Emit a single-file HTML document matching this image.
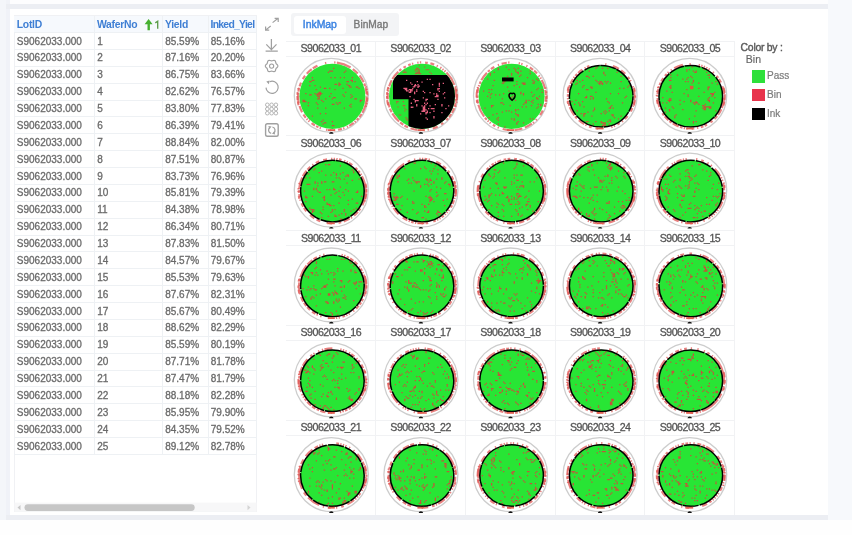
<!DOCTYPE html><html><head><meta charset="utf-8"><style>
*{margin:0;padding:0;box-sizing:border-box}
html,body{width:852px;height:535px;overflow:hidden;background:#f7f8fb;font-family:"Liberation Sans", sans-serif}
.a{position:absolute}
.t{position:absolute;white-space:nowrap;line-height:1}
.hd{color:#3f7fd4;font-weight:bold;font-size:10.4px;letter-spacing:-0.3px}
.dt{color:#6a6a6a;font-size:10px;-webkit-text-stroke:0.3px #6a6a6a}
.lb{color:#555;font-size:10.6px;letter-spacing:-0.5px;text-align:center;-webkit-text-stroke:0.3px #555}
body{filter:blur(0.4px)}
</style></head><body>
<div class="a" style="left:0;top:0;width:6px;height:535px;background:#f4f6fa"></div>
<div class="a" style="left:6px;top:0;width:4px;height:4px;background:#f1f3f8"></div>
<div class="a" style="left:828px;top:0;width:24px;height:535px;background:#f7f9fc"></div>
<div class="a" style="left:10px;top:0;width:818px;height:4px;background:#fdfdfe"></div>
<div class="a" style="left:0;top:520px;width:852px;height:15px;background:#fefefe"></div>
<div class="a" style="left:6px;top:4px;width:822px;height:516px;background:#eceef3"></div>
<div class="a" style="left:6px;top:9px;width:3.5px;height:506px;background:#f0f2f8"></div>
<div class="a" style="left:9.5px;top:9px;width:818.5px;height:506px;background:#fff"></div>
<div class="a" style="left:13.5px;top:15px;width:243.5px;height:497px;border:1px solid #f0f1f4;background:#fff"></div>
<div class="a" style="left:14px;top:15.50px;width:242.50px;height:17.00px;background:#f6f9fd"></div>
<div class="a" style="left:14px;top:32.00px;width:242.50px;height:1px;background:#eef1f4"></div>
<div class="a" style="left:14px;top:48.88px;width:242.50px;height:1px;background:#eef1f4"></div>
<div class="a" style="left:14px;top:65.76px;width:242.50px;height:1px;background:#eef1f4"></div>
<div class="a" style="left:14px;top:82.64px;width:242.50px;height:1px;background:#eef1f4"></div>
<div class="a" style="left:14px;top:99.52px;width:242.50px;height:1px;background:#eef1f4"></div>
<div class="a" style="left:14px;top:116.40px;width:242.50px;height:1px;background:#eef1f4"></div>
<div class="a" style="left:14px;top:133.28px;width:242.50px;height:1px;background:#eef1f4"></div>
<div class="a" style="left:14px;top:150.16px;width:242.50px;height:1px;background:#eef1f4"></div>
<div class="a" style="left:14px;top:167.04px;width:242.50px;height:1px;background:#eef1f4"></div>
<div class="a" style="left:14px;top:183.92px;width:242.50px;height:1px;background:#eef1f4"></div>
<div class="a" style="left:14px;top:200.80px;width:242.50px;height:1px;background:#eef1f4"></div>
<div class="a" style="left:14px;top:217.68px;width:242.50px;height:1px;background:#eef1f4"></div>
<div class="a" style="left:14px;top:234.56px;width:242.50px;height:1px;background:#eef1f4"></div>
<div class="a" style="left:14px;top:251.44px;width:242.50px;height:1px;background:#eef1f4"></div>
<div class="a" style="left:14px;top:268.32px;width:242.50px;height:1px;background:#eef1f4"></div>
<div class="a" style="left:14px;top:285.20px;width:242.50px;height:1px;background:#eef1f4"></div>
<div class="a" style="left:14px;top:302.08px;width:242.50px;height:1px;background:#eef1f4"></div>
<div class="a" style="left:14px;top:318.96px;width:242.50px;height:1px;background:#eef1f4"></div>
<div class="a" style="left:14px;top:335.84px;width:242.50px;height:1px;background:#eef1f4"></div>
<div class="a" style="left:14px;top:352.72px;width:242.50px;height:1px;background:#eef1f4"></div>
<div class="a" style="left:14px;top:369.60px;width:242.50px;height:1px;background:#eef1f4"></div>
<div class="a" style="left:14px;top:386.48px;width:242.50px;height:1px;background:#eef1f4"></div>
<div class="a" style="left:14px;top:403.36px;width:242.50px;height:1px;background:#eef1f4"></div>
<div class="a" style="left:14px;top:420.24px;width:242.50px;height:1px;background:#eef1f4"></div>
<div class="a" style="left:14px;top:437.12px;width:242.50px;height:1px;background:#eef1f4"></div>
<div class="a" style="left:14px;top:454.00px;width:242.50px;height:1px;background:#eef1f4"></div>
<div class="a" style="left:93.50px;top:15.50px;width:1px;height:439.00px;background:#eef1f4"></div>
<div class="a" style="left:162.40px;top:15.50px;width:1px;height:439.00px;background:#eef1f4"></div>
<div class="a" style="left:208.30px;top:15.50px;width:1px;height:439.00px;background:#eef1f4"></div>
<div class="a" style="left:256.00px;top:15.50px;width:1px;height:439.00px;background:#eef1f4"></div>
<div class="t hd" style="left:16.80px;top:20.00px;">LotID</div>
<div class="t hd" style="left:97.00px;top:20.00px;">WaferNo</div>
<div class="t hd" style="left:165.00px;top:20.00px;">Yield</div>
<div class="t hd" style="left:210.50px;top:20.00px;letter-spacing:-0.72px">Inked_Yiel</div>
<svg class="a" style="left:143px;top:18.4px" width="18" height="14" viewBox="0 0 18 14"><path d="M5.6 1 L1.6 6.2 H4.5 V12.3 H6.9 V6.2 H9.6 Z" fill="#46b030"/><path d="M12.3 4.9 L14.7 3.2 V10.8" fill="none" stroke="#5e9c4c" stroke-width="1.35"/></svg>
<div class="t dt" style="left:16.80px;top:36.50px;">S9062033.000</div>
<div class="t dt" style="left:97.20px;top:36.50px;">1</div>
<div class="t dt" style="left:165.20px;top:36.50px;">85.59%</div>
<div class="t dt" style="left:210.80px;top:36.50px;">85.16%</div>
<div class="t dt" style="left:16.80px;top:53.38px;">S9062033.000</div>
<div class="t dt" style="left:97.20px;top:53.38px;">2</div>
<div class="t dt" style="left:165.20px;top:53.38px;">87.16%</div>
<div class="t dt" style="left:210.80px;top:53.38px;">20.20%</div>
<div class="t dt" style="left:16.80px;top:70.26px;">S9062033.000</div>
<div class="t dt" style="left:97.20px;top:70.26px;">3</div>
<div class="t dt" style="left:165.20px;top:70.26px;">86.75%</div>
<div class="t dt" style="left:210.80px;top:70.26px;">83.66%</div>
<div class="t dt" style="left:16.80px;top:87.14px;">S9062033.000</div>
<div class="t dt" style="left:97.20px;top:87.14px;">4</div>
<div class="t dt" style="left:165.20px;top:87.14px;">82.62%</div>
<div class="t dt" style="left:210.80px;top:87.14px;">76.57%</div>
<div class="t dt" style="left:16.80px;top:104.02px;">S9062033.000</div>
<div class="t dt" style="left:97.20px;top:104.02px;">5</div>
<div class="t dt" style="left:165.20px;top:104.02px;">83.80%</div>
<div class="t dt" style="left:210.80px;top:104.02px;">77.83%</div>
<div class="t dt" style="left:16.80px;top:120.90px;">S9062033.000</div>
<div class="t dt" style="left:97.20px;top:120.90px;">6</div>
<div class="t dt" style="left:165.20px;top:120.90px;">86.39%</div>
<div class="t dt" style="left:210.80px;top:120.90px;">79.41%</div>
<div class="t dt" style="left:16.80px;top:137.78px;">S9062033.000</div>
<div class="t dt" style="left:97.20px;top:137.78px;">7</div>
<div class="t dt" style="left:165.20px;top:137.78px;">88.84%</div>
<div class="t dt" style="left:210.80px;top:137.78px;">82.00%</div>
<div class="t dt" style="left:16.80px;top:154.66px;">S9062033.000</div>
<div class="t dt" style="left:97.20px;top:154.66px;">8</div>
<div class="t dt" style="left:165.20px;top:154.66px;">87.51%</div>
<div class="t dt" style="left:210.80px;top:154.66px;">80.87%</div>
<div class="t dt" style="left:16.80px;top:171.54px;">S9062033.000</div>
<div class="t dt" style="left:97.20px;top:171.54px;">9</div>
<div class="t dt" style="left:165.20px;top:171.54px;">83.73%</div>
<div class="t dt" style="left:210.80px;top:171.54px;">76.96%</div>
<div class="t dt" style="left:16.80px;top:188.42px;">S9062033.000</div>
<div class="t dt" style="left:97.20px;top:188.42px;">10</div>
<div class="t dt" style="left:165.20px;top:188.42px;">85.81%</div>
<div class="t dt" style="left:210.80px;top:188.42px;">79.39%</div>
<div class="t dt" style="left:16.80px;top:205.30px;">S9062033.000</div>
<div class="t dt" style="left:97.20px;top:205.30px;">11</div>
<div class="t dt" style="left:165.20px;top:205.30px;">84.38%</div>
<div class="t dt" style="left:210.80px;top:205.30px;">78.98%</div>
<div class="t dt" style="left:16.80px;top:222.18px;">S9062033.000</div>
<div class="t dt" style="left:97.20px;top:222.18px;">12</div>
<div class="t dt" style="left:165.20px;top:222.18px;">86.34%</div>
<div class="t dt" style="left:210.80px;top:222.18px;">80.71%</div>
<div class="t dt" style="left:16.80px;top:239.06px;">S9062033.000</div>
<div class="t dt" style="left:97.20px;top:239.06px;">13</div>
<div class="t dt" style="left:165.20px;top:239.06px;">87.83%</div>
<div class="t dt" style="left:210.80px;top:239.06px;">81.50%</div>
<div class="t dt" style="left:16.80px;top:255.94px;">S9062033.000</div>
<div class="t dt" style="left:97.20px;top:255.94px;">14</div>
<div class="t dt" style="left:165.20px;top:255.94px;">84.57%</div>
<div class="t dt" style="left:210.80px;top:255.94px;">79.67%</div>
<div class="t dt" style="left:16.80px;top:272.82px;">S9062033.000</div>
<div class="t dt" style="left:97.20px;top:272.82px;">15</div>
<div class="t dt" style="left:165.20px;top:272.82px;">85.53%</div>
<div class="t dt" style="left:210.80px;top:272.82px;">79.63%</div>
<div class="t dt" style="left:16.80px;top:289.70px;">S9062033.000</div>
<div class="t dt" style="left:97.20px;top:289.70px;">16</div>
<div class="t dt" style="left:165.20px;top:289.70px;">87.67%</div>
<div class="t dt" style="left:210.80px;top:289.70px;">82.31%</div>
<div class="t dt" style="left:16.80px;top:306.58px;">S9062033.000</div>
<div class="t dt" style="left:97.20px;top:306.58px;">17</div>
<div class="t dt" style="left:165.20px;top:306.58px;">85.67%</div>
<div class="t dt" style="left:210.80px;top:306.58px;">80.49%</div>
<div class="t dt" style="left:16.80px;top:323.46px;">S9062033.000</div>
<div class="t dt" style="left:97.20px;top:323.46px;">18</div>
<div class="t dt" style="left:165.20px;top:323.46px;">88.62%</div>
<div class="t dt" style="left:210.80px;top:323.46px;">82.29%</div>
<div class="t dt" style="left:16.80px;top:340.34px;">S9062033.000</div>
<div class="t dt" style="left:97.20px;top:340.34px;">19</div>
<div class="t dt" style="left:165.20px;top:340.34px;">85.59%</div>
<div class="t dt" style="left:210.80px;top:340.34px;">80.19%</div>
<div class="t dt" style="left:16.80px;top:357.22px;">S9062033.000</div>
<div class="t dt" style="left:97.20px;top:357.22px;">20</div>
<div class="t dt" style="left:165.20px;top:357.22px;">87.71%</div>
<div class="t dt" style="left:210.80px;top:357.22px;">81.78%</div>
<div class="t dt" style="left:16.80px;top:374.10px;">S9062033.000</div>
<div class="t dt" style="left:97.20px;top:374.10px;">21</div>
<div class="t dt" style="left:165.20px;top:374.10px;">87.47%</div>
<div class="t dt" style="left:210.80px;top:374.10px;">81.79%</div>
<div class="t dt" style="left:16.80px;top:390.98px;">S9062033.000</div>
<div class="t dt" style="left:97.20px;top:390.98px;">22</div>
<div class="t dt" style="left:165.20px;top:390.98px;">88.18%</div>
<div class="t dt" style="left:210.80px;top:390.98px;">82.28%</div>
<div class="t dt" style="left:16.80px;top:407.86px;">S9062033.000</div>
<div class="t dt" style="left:97.20px;top:407.86px;">23</div>
<div class="t dt" style="left:165.20px;top:407.86px;">85.95%</div>
<div class="t dt" style="left:210.80px;top:407.86px;">79.90%</div>
<div class="t dt" style="left:16.80px;top:424.74px;">S9062033.000</div>
<div class="t dt" style="left:97.20px;top:424.74px;">24</div>
<div class="t dt" style="left:165.20px;top:424.74px;">84.35%</div>
<div class="t dt" style="left:210.80px;top:424.74px;">79.52%</div>
<div class="t dt" style="left:16.80px;top:441.62px;">S9062033.000</div>
<div class="t dt" style="left:97.20px;top:441.62px;">25</div>
<div class="t dt" style="left:165.20px;top:441.62px;">89.12%</div>
<div class="t dt" style="left:210.80px;top:441.62px;">82.78%</div>
<svg class="a" style="left:14px;top:500px" width="243" height="14" viewBox="0 0 243 14"><rect x="0.5" y="2.6" width="242" height="9.2" fill="#f7f7f8"/><rect x="10.5" y="4.2" width="170.2" height="6.8" rx="3.4" fill="#c6c6c6"/><path d="M6.5 5 L3.5 7.6 L6.5 10.2Z" fill="#c8c8c8"/><path d="M233.5 5 L236.5 7.6 L233.5 10.2Z" fill="#d4d4d4"/></svg>
<svg class="a" style="left:258px;top:12px" width="30" height="130" viewBox="0 0 30 130" fill="none" stroke="#a0a0a0" stroke-width="1.1">
<path d="M14.6 10.6 L19.8 6.5 M16.6 6.3 H20.2 V9.9 M7.6 18.1 L12.7 14 M7.6 14.5 V18.1 H11.2" stroke-width="1.2"/>
<path d="M13.4 27 V37.6 M8.3 32.4 L13.4 37.6 L18.5 32.4 M7.6 39.2 H19.8" stroke-width="1.25"/>
<path d="M19.90 54.00 L19.67 54.80 L19.11 55.48 L18.47 56.02 L18.02 56.55 L17.79 57.21 L17.63 58.03 L17.33 58.86 L16.75 59.46 L15.94 59.66 L15.08 59.51 L14.29 59.23 L13.60 59.10 L12.91 59.23 L12.12 59.51 L11.26 59.66 L10.45 59.46 L9.87 58.86 L9.57 58.03 L9.41 57.21 L9.18 56.55 L8.73 56.02 L8.09 55.48 L7.53 54.80 L7.30 54.00 L7.53 53.20 L8.09 52.52 L8.73 51.98 L9.18 51.45 L9.41 50.79 L9.57 49.97 L9.87 49.14 L10.45 48.54 L11.26 48.34 L12.12 48.49 L12.91 48.77 L13.60 48.90 L14.29 48.77 L15.08 48.49 L15.94 48.34 L16.75 48.54 L17.33 49.14 L17.63 49.97 L17.79 50.79 L18.02 51.45 L18.47 51.98 L19.11 52.52 L19.67 53.20 Z" stroke-width="1.15"/>
<circle cx="13.6" cy="54.1" r="2.1" stroke-width="1.1"/>
<path d="M8.0 75.6 A6.1 6.1 0 1 0 11.7 69.7" stroke-width="1.2"/><path d="M8.3 69.6 L11.6 68.6 L10.9 72.3 Z" fill="#a0a0a0" stroke="none"/>
<circle cx="9.30" cy="92.80" r="1.8" stroke="#b4b4b4" stroke-width="1"/>
<circle cx="9.30" cy="97.00" r="1.8" stroke="#b4b4b4" stroke-width="1"/>
<circle cx="9.30" cy="101.20" r="1.8" stroke="#b4b4b4" stroke-width="1"/>
<circle cx="13.60" cy="92.80" r="1.8" stroke="#b4b4b4" stroke-width="1"/>
<circle cx="13.60" cy="97.00" r="1.8" stroke="#b4b4b4" stroke-width="1"/>
<circle cx="13.60" cy="101.20" r="1.8" stroke="#b4b4b4" stroke-width="1"/>
<circle cx="17.90" cy="92.80" r="1.8" stroke="#b4b4b4" stroke-width="1"/>
<circle cx="17.90" cy="97.00" r="1.8" stroke="#b4b4b4" stroke-width="1"/>
<circle cx="17.90" cy="101.20" r="1.8" stroke="#b4b4b4" stroke-width="1"/>
<rect x="7.6" y="111.8" width="12.6" height="12.4" rx="1.8" stroke-width="1.4"/>
<path d="M11.9 115.5 A3.3 3.3 0 0 0 13.2 121.4 M15.7 120.9 A3.3 3.3 0 0 0 14.4 115.0" stroke-width="1.25"/>
<path d="M10.4 114.0 L13.6 114.6 L11.3 117.2Z M17.2 122.4 L14.0 121.8 L16.3 119.2Z" fill="#a0a0a0" stroke="none"/>
</svg>
<div class="a" style="left:291.3px;top:12.7px;width:107.7px;height:23.3px;background:#f3f4f6;border-radius:3px"></div>
<div class="a" style="left:293.5px;top:15.6px;width:52px;height:18.3px;background:#fff;border-radius:3px"></div>
<div class="t" style="left:302.8px;top:19.6px;font-size:10.4px;color:#3d84e2;-webkit-text-stroke:0.45px #3d84e2">InkMap</div>
<div class="t" style="left:353.6px;top:19.8px;font-size:10.2px;color:#787878;-webkit-text-stroke:0.35px #787878">BinMap</div>
<div class="t" style="left:740.6px;top:42.7px;font-size:10.4px;letter-spacing:-0.25px;color:#5a5a5a;-webkit-text-stroke:0.4px #5a5a5a">Color by :</div>
<div class="t" style="left:745.8px;top:53.8px;font-size:10.5px;color:#666;-webkit-text-stroke:0.15px #666">Bin</div>
<div class="a" style="left:751.8px;top:70.20px;width:12.8px;height:12.6px;background:#2de03a"></div>
<div class="t" style="left:767px;top:71.20px;font-size:10px;color:#7c7c7c;-webkit-text-stroke:0.2px #7c7c7c">Pass</div>
<div class="a" style="left:751.8px;top:88.90px;width:12.8px;height:12.6px;background:#e8344c"></div>
<div class="t" style="left:767px;top:89.90px;font-size:10px;color:#7c7c7c;-webkit-text-stroke:0.2px #7c7c7c">Bin</div>
<div class="a" style="left:751.8px;top:107.60px;width:12.8px;height:12.6px;background:#000"></div>
<div class="t" style="left:767px;top:108.60px;font-size:10px;color:#7c7c7c;-webkit-text-stroke:0.2px #7c7c7c">Ink</div>
<div class="a" style="left:285.70px;top:40.50px;width:449.00px;height:1px;background:#f1f2f4"></div>
<div class="a" style="left:285.70px;top:55.50px;width:449.00px;height:1px;background:#f1f2f4"></div>
<div class="a" style="left:285.70px;top:135.30px;width:449.00px;height:1px;background:#f1f2f4"></div>
<div class="a" style="left:285.70px;top:150.30px;width:449.00px;height:1px;background:#f1f2f4"></div>
<div class="a" style="left:285.70px;top:230.10px;width:449.00px;height:1px;background:#f1f2f4"></div>
<div class="a" style="left:285.70px;top:245.10px;width:449.00px;height:1px;background:#f1f2f4"></div>
<div class="a" style="left:285.70px;top:324.90px;width:449.00px;height:1px;background:#f1f2f4"></div>
<div class="a" style="left:285.70px;top:339.90px;width:449.00px;height:1px;background:#f1f2f4"></div>
<div class="a" style="left:285.70px;top:419.70px;width:449.00px;height:1px;background:#f1f2f4"></div>
<div class="a" style="left:285.70px;top:434.70px;width:449.00px;height:1px;background:#f1f2f4"></div>
<div class="a" style="left:375.00px;top:40.50px;width:1px;height:474.50px;background:#f1f2f4"></div>
<div class="a" style="left:464.80px;top:40.50px;width:1px;height:474.50px;background:#f1f2f4"></div>
<div class="a" style="left:554.60px;top:40.50px;width:1px;height:474.50px;background:#f1f2f4"></div>
<div class="a" style="left:644.40px;top:40.50px;width:1px;height:474.50px;background:#f1f2f4"></div>
<div class="a" style="left:734.20px;top:40.50px;width:1px;height:474.50px;background:#f1f2f4"></div>
<div class="t lb" style="left:285.90px;top:42.90px;width:89.80px">S9062033_01</div>
<div class="t lb" style="left:375.70px;top:42.90px;width:89.80px">S9062033_02</div>
<div class="t lb" style="left:465.50px;top:42.90px;width:89.80px">S9062033_03</div>
<div class="t lb" style="left:555.30px;top:42.90px;width:89.80px">S9062033_04</div>
<div class="t lb" style="left:645.10px;top:42.90px;width:89.80px">S9062033_05</div>
<div class="t lb" style="left:285.90px;top:137.70px;width:89.80px">S9062033_06</div>
<div class="t lb" style="left:375.70px;top:137.70px;width:89.80px">S9062033_07</div>
<div class="t lb" style="left:465.50px;top:137.70px;width:89.80px">S9062033_08</div>
<div class="t lb" style="left:555.30px;top:137.70px;width:89.80px">S9062033_09</div>
<div class="t lb" style="left:645.10px;top:137.70px;width:89.80px">S9062033_10</div>
<div class="t lb" style="left:285.90px;top:232.50px;width:89.80px">S9062033_11</div>
<div class="t lb" style="left:375.70px;top:232.50px;width:89.80px">S9062033_12</div>
<div class="t lb" style="left:465.50px;top:232.50px;width:89.80px">S9062033_13</div>
<div class="t lb" style="left:555.30px;top:232.50px;width:89.80px">S9062033_14</div>
<div class="t lb" style="left:645.10px;top:232.50px;width:89.80px">S9062033_15</div>
<div class="t lb" style="left:285.90px;top:327.30px;width:89.80px">S9062033_16</div>
<div class="t lb" style="left:375.70px;top:327.30px;width:89.80px">S9062033_17</div>
<div class="t lb" style="left:465.50px;top:327.30px;width:89.80px">S9062033_18</div>
<div class="t lb" style="left:555.30px;top:327.30px;width:89.80px">S9062033_19</div>
<div class="t lb" style="left:645.10px;top:327.30px;width:89.80px">S9062033_20</div>
<div class="t lb" style="left:285.90px;top:422.10px;width:89.80px">S9062033_21</div>
<div class="t lb" style="left:375.70px;top:422.10px;width:89.80px">S9062033_22</div>
<div class="t lb" style="left:465.50px;top:422.10px;width:89.80px">S9062033_23</div>
<div class="t lb" style="left:555.30px;top:422.10px;width:89.80px">S9062033_24</div>
<div class="t lb" style="left:645.10px;top:422.10px;width:89.80px">S9062033_25</div>
<svg class="a" style="left:0;top:0" width="852" height="535" viewBox="0 0 852 535"><circle cx="331.30" cy="95.40" r="37.0" fill="#fff" stroke="#cdcdcd" stroke-width="1.3"/><ellipse cx="332.40" cy="96.30" rx="34.30" ry="33.90" fill="none" stroke="#e46a68" stroke-opacity="0.85" stroke-width="2.2" stroke-dasharray="17.29 1.33 3.99 1.33 2.66 1.33 1.33 1.33 5.32 1.33 1.33 2.66 1.33 1.33 3.99 2.66 1.33 2.66 1.33 2.66 1.33 5.32 1.33 1.33 2.66 1.33 3.99 2.66 1.33 1.33 1.33 1.33 3.99 2.66 6.65 2.66 10.64 1.33 3.99 1.33 3.99 3.99 3.99 2.66 6.65 1.33 5.32 7.98 1.33 7.98 1.33 1.33 14.63 2.66 6.65 2.66 7.98 1.33 2.66 1.33 6.65 2.66"/><ellipse cx="332.40" cy="96.30" rx="35.00" ry="34.40" fill="none" stroke="#e05a58" stroke-opacity="0.85" stroke-width="2.0" stroke-dasharray="0.00 1.33 3.99 1.33 1.33 1.33 1.33 89.11 3.99 1.33 3.99 1.33 2.66 2.66 1.33 90.44 1.33 1.33 1.33 1.33 3.99 0.00"/><ellipse cx="332.40" cy="96.30" rx="33.00" ry="32.60" fill="#28e535"/><path d="M349.1 85.0h1.25v1.25h-1.25zM349.1 86.4h1.25v1.25h-1.25zM318.5 94.3h1.25v1.25h-1.25zM319.8 94.3h1.25v1.25h-1.25zM349.1 85.0h1.25v1.25h-1.25zM317.1 95.7h1.25v1.25h-1.25zM343.7 95.7h1.25v1.25h-1.25zM319.8 113.0h1.25v1.25h-1.25zM318.5 93.0h1.25v1.25h-1.25zM311.8 77.1h1.25v1.25h-1.25zM350.4 86.4h1.25v1.25h-1.25zM314.5 85.0h1.25v1.25h-1.25zM319.8 91.7h1.25v1.25h-1.25zM317.1 98.3h1.25v1.25h-1.25zM318.5 98.3h1.25v1.25h-1.25zM342.4 94.3h1.25v1.25h-1.25zM322.5 119.6h1.25v1.25h-1.25zM315.8 89.0h1.25v1.25h-1.25zM349.1 85.0h1.25v1.25h-1.25zM318.5 91.7h1.25v1.25h-1.25zM321.1 93.0h1.25v1.25h-1.25zM347.7 81.0h1.25v1.25h-1.25zM318.5 91.7h1.25v1.25h-1.25zM325.1 107.6h1.25v1.25h-1.25zM303.8 101.0h1.25v1.25h-1.25zM351.7 77.1h1.25v1.25h-1.25zM317.1 94.3h1.25v1.25h-1.25zM350.4 79.7h1.25v1.25h-1.25zM321.1 120.9h1.25v1.25h-1.25zM323.8 122.3h1.25v1.25h-1.25zM309.2 85.0h1.25v1.25h-1.25zM318.5 95.7h1.25v1.25h-1.25zM307.8 105.0h1.25v1.25h-1.25zM351.7 79.7h1.25v1.25h-1.25zM317.1 95.7h1.25v1.25h-1.25zM305.2 93.0h1.25v1.25h-1.25zM350.4 106.3h1.25v1.25h-1.25zM338.4 82.4h1.25v1.25h-1.25zM350.4 86.4h1.25v1.25h-1.25zM335.8 102.3h1.25v1.25h-1.25zM302.5 101.0h1.25v1.25h-1.25zM303.8 99.7h1.25v1.25h-1.25zM311.8 77.1h1.25v1.25h-1.25zM355.7 86.4h1.25v1.25h-1.25zM338.4 83.7h1.25v1.25h-1.25zM338.4 85.0h1.25v1.25h-1.25zM321.1 99.7h1.25v1.25h-1.25zM343.7 77.1h1.25v1.25h-1.25zM303.8 101.0h1.25v1.25h-1.25zM322.5 123.6h1.25v1.25h-1.25zM334.4 83.7h1.25v1.25h-1.25zM327.8 71.7h1.25v1.25h-1.25zM350.4 103.7h1.25v1.25h-1.25zM338.4 102.3h1.25v1.25h-1.25zM354.4 98.3h1.25v1.25h-1.25zM329.1 87.7h1.25v1.25h-1.25zM346.4 81.0h1.25v1.25h-1.25zM330.4 70.4h1.25v1.25h-1.25zM343.7 77.1h1.25v1.25h-1.25zM330.4 93.0h1.25v1.25h-1.25zM333.1 124.9h1.25v1.25h-1.25zM339.8 102.3h1.25v1.25h-1.25zM309.2 81.0h1.25v1.25h-1.25zM333.1 103.7h1.25v1.25h-1.25zM350.4 94.3h1.25v1.25h-1.25zM343.7 107.6h1.25v1.25h-1.25zM331.8 98.3h1.25v1.25h-1.25zM343.7 71.7h1.25v1.25h-1.25zM338.4 102.3h1.25v1.25h-1.25zM318.5 94.3h1.25v1.25h-1.25zM322.5 101.0h1.25v1.25h-1.25zM330.4 70.4h1.25v1.25h-1.25zM319.8 91.7h1.25v1.25h-1.25zM334.4 89.0h1.25v1.25h-1.25zM334.4 97.0h1.25v1.25h-1.25zM302.5 99.7h1.25v1.25h-1.25zM329.1 70.4h1.25v1.25h-1.25zM329.1 95.7h1.25v1.25h-1.25zM314.5 93.0h1.25v1.25h-1.25zM345.1 91.7h1.25v1.25h-1.25zM351.7 95.7h1.25v1.25h-1.25zM317.1 93.0h1.25v1.25h-1.25zM334.4 97.0h1.25v1.25h-1.25zM355.7 98.3h1.25v1.25h-1.25zM343.7 71.7h1.25v1.25h-1.25zM333.1 97.0h1.25v1.25h-1.25zM361.0 99.7h1.25v1.25h-1.25zM315.8 94.3h1.25v1.25h-1.25zM350.4 97.0h1.25v1.25h-1.25zM345.1 70.4h1.25v1.25h-1.25zM335.8 83.7h1.25v1.25h-1.25zM351.7 81.0h1.25v1.25h-1.25zM317.1 107.6h1.25v1.25h-1.25zM331.8 120.9h1.25v1.25h-1.25zM325.1 122.3h1.25v1.25h-1.25zM315.8 102.3h1.25v1.25h-1.25zM357.0 86.4h1.25v1.25h-1.25zM330.4 77.1h1.25v1.25h-1.25zM339.8 83.7h1.25v1.25h-1.25zM331.8 103.7h1.25v1.25h-1.25zM313.2 79.7h1.25v1.25h-1.25zM311.8 79.7h1.25v1.25h-1.25zM309.2 94.3h1.25v1.25h-1.25zM321.1 93.0h1.25v1.25h-1.25zM331.8 70.4h1.25v1.25h-1.25zM311.8 115.6h1.25v1.25h-1.25zM359.7 99.7h1.25v1.25h-1.25zM334.4 97.0h1.25v1.25h-1.25zM325.1 98.3h1.25v1.25h-1.25zM347.7 85.0h1.25v1.25h-1.25zM337.1 103.7h1.25v1.25h-1.25zM314.5 93.0h1.25v1.25h-1.25zM333.1 67.7h1.25v1.25h-1.25zM331.8 124.9h1.25v1.25h-1.25zM334.4 77.1h1.25v1.25h-1.25zM359.7 101.0h1.25v1.25h-1.25zM349.1 105.0h1.25v1.25h-1.25zM317.1 93.0h1.25v1.25h-1.25zM319.8 93.0h1.25v1.25h-1.25zM325.1 113.0h1.25v1.25h-1.25zM317.1 103.7h1.25v1.25h-1.25zM319.8 86.4h1.25v1.25h-1.25zM358.4 87.7h1.25v1.25h-1.25zM305.2 101.0h1.25v1.25h-1.25zM318.5 97.0h1.25v1.25h-1.25zM307.8 102.3h1.25v1.25h-1.25zM310.5 94.3h1.25v1.25h-1.25zM323.8 87.7h1.25v1.25h-1.25zM339.8 77.1h1.25v1.25h-1.25zM310.5 81.0h1.25v1.25h-1.25zM342.4 87.7h1.25v1.25h-1.25zM346.4 83.7h1.25v1.25h-1.25zM325.1 87.7h1.25v1.25h-1.25zM317.1 95.7h1.25v1.25h-1.25zM354.4 81.0h1.25v1.25h-1.25z" fill="#c8503c"/><rect x="327.80" y="129.20" width="7" height="1.8" fill="#e06050"/><path d="M329.10 133.80 a2.2 1.7 0 0 1 4.4 0z" fill="#111"/><circle cx="420.90" cy="95.40" r="37.0" fill="#fff" stroke="#cdcdcd" stroke-width="1.3"/><ellipse cx="422.00" cy="96.30" rx="34.30" ry="33.90" fill="none" stroke="#e46a68" stroke-opacity="0.85" stroke-width="2.2" stroke-dasharray="1.33 1.33 2.66 1.33 3.99 1.33 5.32 1.33 3.99 1.33 2.66 3.99 2.66 3.99 5.32 3.99 1.33 2.66 1.33 2.66 1.33 2.66 6.65 2.66 3.99 1.33 3.99 1.33 10.64 1.33 3.99 1.33 5.32 2.66 6.65 1.33 1.33 1.33 1.33 1.33 6.65 1.33 9.31 1.33 2.66 2.66 2.66 2.66 2.66 1.33 1.33 3.99 1.33 1.33 1.33 3.99 2.66 2.66 3.99 2.66 1.33 2.66 1.33 1.33 1.33 1.33 1.33 1.33 14.63 2.66 9.31 0.00"/><ellipse cx="422.00" cy="96.30" rx="35.00" ry="34.40" fill="none" stroke="#e05a58" stroke-opacity="0.85" stroke-width="2.0" stroke-dasharray="3.99 1.33 1.33 2.66 1.33 89.11 5.32 1.33 2.66 1.33 2.66 1.33 3.99 89.11 1.33 1.33 2.66 2.66 1.33 0.00"/><ellipse cx="422.00" cy="96.30" rx="33.00" ry="32.60" fill="#28e535"/><clipPath id="w2"><ellipse cx="422.00" cy="96.30" rx="33.00" ry="32.60"/></clipPath><path clip-path="url(#w2)" d="M393.00 75.00 H460.90 V135.40 H408.50 V99.30 H393.00 Z" fill="#000"/><path d="M405.5 109.1h1.1v1.1h-1.1zM404.2 110.4h1.1v1.1h-1.1zM416.1 73.1h1.1v1.1h-1.1zM417.5 71.8h1.1v1.1h-1.1zM418.8 69.2h1.1v1.1h-1.1zM404.2 70.5h1.1v1.1h-1.1zM402.8 71.8h1.1v1.1h-1.1zM426.8 69.2h1.1v1.1h-1.1zM417.5 71.8h1.1v1.1h-1.1zM416.1 71.8h1.1v1.1h-1.1zM417.5 69.2h1.1v1.1h-1.1zM417.5 70.5h1.1v1.1h-1.1zM425.4 69.2h1.1v1.1h-1.1zM416.1 69.2h1.1v1.1h-1.1zM397.5 106.4h1.1v1.1h-1.1zM430.8 73.1h1.1v1.1h-1.1zM405.5 71.8h1.1v1.1h-1.1zM428.1 69.2h1.1v1.1h-1.1zM416.1 71.8h1.1v1.1h-1.1zM418.8 70.5h1.1v1.1h-1.1zM417.5 70.5h1.1v1.1h-1.1zM417.5 67.8h1.1v1.1h-1.1zM405.5 117.0h1.1v1.1h-1.1zM405.5 118.4h1.1v1.1h-1.1zM417.5 71.8h1.1v1.1h-1.1zM414.8 69.2h1.1v1.1h-1.1zM429.4 71.8h1.1v1.1h-1.1zM402.8 105.1h1.1v1.1h-1.1zM417.5 71.8h1.1v1.1h-1.1zM416.1 73.1h1.1v1.1h-1.1zM402.8 101.1h1.1v1.1h-1.1zM417.5 70.5h1.1v1.1h-1.1zM418.8 65.2h1.1v1.1h-1.1zM416.1 71.8h1.1v1.1h-1.1zM404.2 107.7h1.1v1.1h-1.1zM414.8 70.5h1.1v1.1h-1.1zM416.1 67.8h1.1v1.1h-1.1zM404.2 105.1h1.1v1.1h-1.1zM418.8 70.5h1.1v1.1h-1.1zM397.5 101.1h1.1v1.1h-1.1zM417.5 71.8h1.1v1.1h-1.1zM406.8 119.7h1.1v1.1h-1.1zM396.2 102.4h1.1v1.1h-1.1zM404.2 71.8h1.1v1.1h-1.1zM414.8 73.1h1.1v1.1h-1.1zM398.8 114.4h1.1v1.1h-1.1zM417.5 73.1h1.1v1.1h-1.1zM416.1 71.8h1.1v1.1h-1.1zM430.8 73.1h1.1v1.1h-1.1zM424.1 66.5h1.1v1.1h-1.1zM418.8 73.1h1.1v1.1h-1.1zM406.8 118.4h1.1v1.1h-1.1zM397.5 101.1h1.1v1.1h-1.1zM418.8 71.8h1.1v1.1h-1.1zM418.8 71.8h1.1v1.1h-1.1zM406.8 119.7h1.1v1.1h-1.1zM405.5 118.4h1.1v1.1h-1.1zM400.2 114.4h1.1v1.1h-1.1zM396.2 101.1h1.1v1.1h-1.1zM420.1 73.1h1.1v1.1h-1.1z" fill="#c8503c"/><path d="M424.0 109.3h1.3v1.3h-1.3zM424.0 108.0h1.3v1.3h-1.3zM424.0 109.3h1.3v1.3h-1.3zM422.7 106.6h1.3v1.3h-1.3zM438.7 85.4h1.3v1.3h-1.3zM438.7 90.7h1.3v1.3h-1.3zM442.7 93.3h1.3v1.3h-1.3zM436.0 94.7h1.3v1.3h-1.3zM425.4 117.3h1.3v1.3h-1.3zM424.0 106.6h1.3v1.3h-1.3zM417.4 100.0h1.3v1.3h-1.3zM437.3 96.0h1.3v1.3h-1.3zM409.4 96.0h1.3v1.3h-1.3zM422.7 110.6h1.3v1.3h-1.3zM416.1 90.7h1.3v1.3h-1.3zM437.3 89.3h1.3v1.3h-1.3zM420.0 113.3h1.3v1.3h-1.3zM417.4 100.0h1.3v1.3h-1.3zM425.4 104.0h1.3v1.3h-1.3zM432.0 84.0h1.3v1.3h-1.3zM434.7 96.0h1.3v1.3h-1.3zM422.7 90.7h1.3v1.3h-1.3zM425.4 104.0h1.3v1.3h-1.3zM416.1 105.3h1.3v1.3h-1.3zM416.1 89.3h1.3v1.3h-1.3zM441.3 104.0h1.3v1.3h-1.3zM425.4 100.0h1.3v1.3h-1.3zM414.7 84.0h1.3v1.3h-1.3zM424.0 105.3h1.3v1.3h-1.3zM416.1 104.0h1.3v1.3h-1.3zM422.7 106.6h1.3v1.3h-1.3zM425.4 109.3h1.3v1.3h-1.3zM426.7 98.7h1.3v1.3h-1.3zM424.0 92.0h1.3v1.3h-1.3zM448.0 105.3h1.3v1.3h-1.3zM425.4 98.7h1.3v1.3h-1.3zM417.4 84.0h1.3v1.3h-1.3zM425.4 112.0h1.3v1.3h-1.3zM432.0 108.0h1.3v1.3h-1.3zM426.7 102.6h1.3v1.3h-1.3zM426.7 112.0h1.3v1.3h-1.3zM438.7 84.0h1.3v1.3h-1.3zM436.0 94.7h1.3v1.3h-1.3zM436.0 93.3h1.3v1.3h-1.3zM417.4 85.4h1.3v1.3h-1.3zM445.3 108.0h1.3v1.3h-1.3zM422.7 106.6h1.3v1.3h-1.3zM414.7 100.0h1.3v1.3h-1.3zM436.0 96.0h1.3v1.3h-1.3zM425.4 117.3h1.3v1.3h-1.3zM433.3 117.3h1.3v1.3h-1.3zM422.7 110.6h1.3v1.3h-1.3zM426.7 102.6h1.3v1.3h-1.3zM433.3 108.0h1.3v1.3h-1.3zM426.7 110.6h1.3v1.3h-1.3zM429.4 112.0h1.3v1.3h-1.3zM448.0 105.3h1.3v1.3h-1.3zM442.7 82.7h1.3v1.3h-1.3zM433.3 110.6h1.3v1.3h-1.3zM434.7 104.0h1.3v1.3h-1.3zM410.7 106.6h1.3v1.3h-1.3zM444.0 97.3h1.3v1.3h-1.3zM424.0 102.6h1.3v1.3h-1.3zM421.4 105.3h1.3v1.3h-1.3zM412.1 88.0h1.3v1.3h-1.3zM422.7 110.6h1.3v1.3h-1.3zM417.4 86.7h1.3v1.3h-1.3zM425.4 117.3h1.3v1.3h-1.3zM429.4 92.0h1.3v1.3h-1.3zM421.4 110.6h1.3v1.3h-1.3zM428.0 108.0h1.3v1.3h-1.3zM426.7 118.6h1.3v1.3h-1.3zM436.0 96.0h1.3v1.3h-1.3zM436.0 96.0h1.3v1.3h-1.3zM421.4 81.4h1.3v1.3h-1.3zM436.0 96.0h1.3v1.3h-1.3zM430.7 108.0h1.3v1.3h-1.3zM433.3 93.3h1.3v1.3h-1.3zM417.4 84.0h1.3v1.3h-1.3zM438.7 82.7h1.3v1.3h-1.3zM416.1 100.0h1.3v1.3h-1.3zM429.4 105.3h1.3v1.3h-1.3zM444.0 92.0h1.3v1.3h-1.3zM422.7 106.6h1.3v1.3h-1.3zM437.3 98.7h1.3v1.3h-1.3zM438.7 88.0h1.3v1.3h-1.3zM412.1 106.6h1.3v1.3h-1.3zM429.4 78.7h1.3v1.3h-1.3zM437.3 94.7h1.3v1.3h-1.3zM424.0 110.6h1.3v1.3h-1.3zM421.4 105.3h1.3v1.3h-1.3zM441.3 112.0h1.3v1.3h-1.3zM418.7 85.4h1.3v1.3h-1.3zM422.7 108.0h1.3v1.3h-1.3zM433.3 115.9h1.3v1.3h-1.3zM414.7 101.3h1.3v1.3h-1.3zM416.1 90.7h1.3v1.3h-1.3zM434.7 96.0h1.3v1.3h-1.3zM433.3 110.6h1.3v1.3h-1.3zM413.4 98.7h1.3v1.3h-1.3zM424.0 108.0h1.3v1.3h-1.3zM426.7 78.7h1.3v1.3h-1.3zM425.4 113.3h1.3v1.3h-1.3zM422.7 109.3h1.3v1.3h-1.3zM422.7 97.3h1.3v1.3h-1.3zM424.0 110.6h1.3v1.3h-1.3zM410.7 102.6h1.3v1.3h-1.3zM414.7 100.0h1.3v1.3h-1.3zM437.3 88.0h1.3v1.3h-1.3zM441.3 105.3h1.3v1.3h-1.3z" fill="#e86080"/><path d="M410.0 91.6h1.3v1.3h-1.3zM410.0 82.3h1.3v1.3h-1.3zM411.4 90.3h1.3v1.3h-1.3zM411.4 89.0h1.3v1.3h-1.3zM410.0 90.3h1.3v1.3h-1.3zM406.0 89.0h1.3v1.3h-1.3zM406.0 87.7h1.3v1.3h-1.3zM410.0 90.3h1.3v1.3h-1.3zM410.0 89.0h1.3v1.3h-1.3zM414.0 91.6h1.3v1.3h-1.3zM407.4 90.3h1.3v1.3h-1.3zM404.7 87.7h1.3v1.3h-1.3zM404.7 89.0h1.3v1.3h-1.3zM406.0 79.7h1.3v1.3h-1.3zM411.4 83.7h1.3v1.3h-1.3zM414.0 93.0h1.3v1.3h-1.3zM411.4 83.7h1.3v1.3h-1.3zM408.7 91.6h1.3v1.3h-1.3zM406.0 89.0h1.3v1.3h-1.3zM414.0 86.3h1.3v1.3h-1.3zM412.7 86.3h1.3v1.3h-1.3zM412.7 86.3h1.3v1.3h-1.3zM403.4 87.7h1.3v1.3h-1.3zM414.0 85.0h1.3v1.3h-1.3zM406.0 90.3h1.3v1.3h-1.3zM414.0 86.3h1.3v1.3h-1.3zM408.7 89.0h1.3v1.3h-1.3zM415.3 85.0h1.3v1.3h-1.3zM416.7 81.0h1.3v1.3h-1.3zM404.7 87.7h1.3v1.3h-1.3z" fill="#e86080"/><rect x="417.40" y="129.20" width="7" height="1.8" fill="#e06050"/><path d="M418.70 133.80 a2.2 1.7 0 0 1 4.4 0z" fill="#111"/><circle cx="510.50" cy="95.40" r="37.0" fill="#fff" stroke="#cdcdcd" stroke-width="1.3"/><ellipse cx="511.60" cy="96.30" rx="34.30" ry="33.90" fill="none" stroke="#e46a68" stroke-opacity="0.85" stroke-width="2.2" stroke-dasharray="5.32 2.66 2.66 3.99 5.32 5.32 1.33 2.66 1.33 1.33 7.98 2.66 7.98 5.32 6.65 3.99 1.33 2.66 2.66 2.66 1.33 1.33 1.33 1.33 2.66 1.33 13.30 1.33 3.99 1.33 2.66 2.66 5.32 1.33 1.33 1.33 2.66 1.33 9.31 1.33 2.66 1.33 3.99 3.99 1.33 2.66 5.32 1.33 1.33 9.31 1.33 1.33 1.33 3.99 1.33 2.66 3.99 1.33 3.99 2.66 1.33 1.33 1.33 1.33 9.31 1.33 5.32 1.33"/><ellipse cx="511.60" cy="96.30" rx="35.00" ry="34.40" fill="none" stroke="#e05a58" stroke-opacity="0.85" stroke-width="2.0" stroke-dasharray="2.66 1.33 1.33 1.33 1.33 1.33 1.33 91.77 2.66 2.66 7.98 1.33 1.33 90.44 1.33 2.66 1.33 2.66"/><ellipse cx="511.60" cy="96.30" rx="33.00" ry="32.60" fill="#28e535"/><path d="M508.3 90.4h1.25v1.25h-1.25zM509.6 105.0h1.25v1.25h-1.25zM532.3 118.3h1.25v1.25h-1.25zM532.3 79.7h1.25v1.25h-1.25zM516.3 122.3h1.25v1.25h-1.25zM525.6 101.0h1.25v1.25h-1.25zM520.3 91.7h1.25v1.25h-1.25zM520.3 74.4h1.25v1.25h-1.25zM496.3 118.3h1.25v1.25h-1.25zM519.0 75.7h1.25v1.25h-1.25zM511.0 73.1h1.25v1.25h-1.25zM508.3 69.1h1.25v1.25h-1.25zM501.7 98.3h1.25v1.25h-1.25zM499.0 94.3h1.25v1.25h-1.25zM513.6 119.6h1.25v1.25h-1.25zM511.0 74.4h1.25v1.25h-1.25zM540.2 105.0h1.25v1.25h-1.25zM516.3 122.3h1.25v1.25h-1.25zM496.3 113.0h1.25v1.25h-1.25zM524.3 82.4h1.25v1.25h-1.25zM525.6 102.3h1.25v1.25h-1.25zM503.0 82.4h1.25v1.25h-1.25zM513.6 67.7h1.25v1.25h-1.25zM517.6 67.7h1.25v1.25h-1.25zM541.6 91.7h1.25v1.25h-1.25zM536.2 98.3h1.25v1.25h-1.25zM511.0 97.0h1.25v1.25h-1.25zM508.3 110.3h1.25v1.25h-1.25zM522.9 83.7h1.25v1.25h-1.25zM508.3 94.3h1.25v1.25h-1.25zM517.6 115.6h1.25v1.25h-1.25zM515.0 99.7h1.25v1.25h-1.25zM512.3 95.7h1.25v1.25h-1.25zM517.6 71.7h1.25v1.25h-1.25zM504.3 126.3h1.25v1.25h-1.25zM515.0 70.4h1.25v1.25h-1.25zM517.6 120.9h1.25v1.25h-1.25zM524.3 102.3h1.25v1.25h-1.25zM503.0 81.0h1.25v1.25h-1.25zM538.9 95.7h1.25v1.25h-1.25zM487.0 95.7h1.25v1.25h-1.25zM529.6 73.1h1.25v1.25h-1.25zM492.4 105.0h1.25v1.25h-1.25zM491.0 106.3h1.25v1.25h-1.25zM497.7 67.7h1.25v1.25h-1.25zM497.7 117.0h1.25v1.25h-1.25zM522.9 94.3h1.25v1.25h-1.25zM511.0 118.3h1.25v1.25h-1.25zM522.9 82.4h1.25v1.25h-1.25zM521.6 82.4h1.25v1.25h-1.25zM530.9 91.7h1.25v1.25h-1.25zM532.3 102.3h1.25v1.25h-1.25zM488.4 91.7h1.25v1.25h-1.25zM504.3 77.1h1.25v1.25h-1.25zM536.2 107.6h1.25v1.25h-1.25zM537.6 87.7h1.25v1.25h-1.25zM516.3 123.6h1.25v1.25h-1.25zM513.6 85.0h1.25v1.25h-1.25zM528.3 99.7h1.25v1.25h-1.25zM537.6 98.3h1.25v1.25h-1.25zM537.6 106.3h1.25v1.25h-1.25zM536.2 89.0h1.25v1.25h-1.25zM489.7 73.1h1.25v1.25h-1.25zM536.2 78.4h1.25v1.25h-1.25zM515.0 69.1h1.25v1.25h-1.25zM532.3 82.4h1.25v1.25h-1.25zM513.6 118.3h1.25v1.25h-1.25zM525.6 102.3h1.25v1.25h-1.25zM522.9 122.3h1.25v1.25h-1.25zM517.6 73.1h1.25v1.25h-1.25zM495.0 94.3h1.25v1.25h-1.25zM503.0 93.0h1.25v1.25h-1.25zM522.9 103.7h1.25v1.25h-1.25zM533.6 94.3h1.25v1.25h-1.25zM496.3 118.3h1.25v1.25h-1.25zM530.9 105.0h1.25v1.25h-1.25zM500.3 102.3h1.25v1.25h-1.25zM501.7 111.6h1.25v1.25h-1.25zM516.3 83.7h1.25v1.25h-1.25zM488.4 117.0h1.25v1.25h-1.25zM491.0 89.0h1.25v1.25h-1.25zM516.3 81.0h1.25v1.25h-1.25zM507.0 75.7h1.25v1.25h-1.25zM501.7 82.4h1.25v1.25h-1.25zM533.6 81.0h1.25v1.25h-1.25zM505.7 66.4h1.25v1.25h-1.25zM504.3 81.0h1.25v1.25h-1.25zM530.9 101.0h1.25v1.25h-1.25zM497.7 69.1h1.25v1.25h-1.25zM516.3 114.3h1.25v1.25h-1.25zM521.6 106.3h1.25v1.25h-1.25zM536.2 97.0h1.25v1.25h-1.25zM492.4 85.0h1.25v1.25h-1.25zM493.7 71.7h1.25v1.25h-1.25zM537.6 106.3h1.25v1.25h-1.25zM520.3 93.0h1.25v1.25h-1.25zM516.3 71.7h1.25v1.25h-1.25zM520.3 70.4h1.25v1.25h-1.25zM493.7 79.7h1.25v1.25h-1.25zM503.0 79.7h1.25v1.25h-1.25zM515.0 110.3h1.25v1.25h-1.25zM537.6 103.7h1.25v1.25h-1.25zM487.0 78.4h1.25v1.25h-1.25zM524.3 83.7h1.25v1.25h-1.25zM541.6 89.0h1.25v1.25h-1.25zM492.4 114.3h1.25v1.25h-1.25zM522.9 93.0h1.25v1.25h-1.25zM505.7 110.3h1.25v1.25h-1.25zM537.6 79.7h1.25v1.25h-1.25zM497.7 119.6h1.25v1.25h-1.25zM489.7 97.0h1.25v1.25h-1.25zM519.0 86.4h1.25v1.25h-1.25zM525.6 106.3h1.25v1.25h-1.25zM529.6 70.4h1.25v1.25h-1.25zM515.0 109.0h1.25v1.25h-1.25zM525.6 99.7h1.25v1.25h-1.25zM517.6 109.0h1.25v1.25h-1.25zM533.6 82.4h1.25v1.25h-1.25zM501.7 102.3h1.25v1.25h-1.25zM511.0 111.6h1.25v1.25h-1.25zM488.4 89.0h1.25v1.25h-1.25zM483.0 90.4h1.25v1.25h-1.25zM515.0 113.0h1.25v1.25h-1.25zM491.0 105.0h1.25v1.25h-1.25zM529.6 70.4h1.25v1.25h-1.25zM532.3 99.7h1.25v1.25h-1.25zM491.0 93.0h1.25v1.25h-1.25zM488.4 91.7h1.25v1.25h-1.25zM517.6 114.3h1.25v1.25h-1.25zM503.0 103.7h1.25v1.25h-1.25zM526.9 77.1h1.25v1.25h-1.25zM489.7 94.3h1.25v1.25h-1.25zM489.7 74.4h1.25v1.25h-1.25zM497.7 123.6h1.25v1.25h-1.25zM484.4 107.6h1.25v1.25h-1.25zM540.2 103.7h1.25v1.25h-1.25zM532.3 95.7h1.25v1.25h-1.25zM533.6 81.0h1.25v1.25h-1.25zM507.0 86.4h1.25v1.25h-1.25zM529.6 118.3h1.25v1.25h-1.25z" fill="#c8503c"/><rect x="502.00" y="77.50" width="11.6" height="3.9" fill="#000"/><path d="M512.10 93.70 c-2 -1.6,-3.6 0.8,-2.8 3.2 c0.8 2,2.4 2.8,2.8 3.2 c0.4 -0.4,2 -1.2,2.8 -3.2 c0.8 -2.4,-0.8 -4.8,-2.8 -3.2z" fill="none" stroke="#000" stroke-width="1.5"/><rect x="507.00" y="129.20" width="7" height="1.8" fill="#e06050"/><path d="M508.30 133.80 a2.2 1.7 0 0 1 4.4 0z" fill="#111"/><circle cx="600.10" cy="95.40" r="37.0" fill="#fff" stroke="#cdcdcd" stroke-width="1.3"/><ellipse cx="601.20" cy="96.30" rx="33.30" ry="32.30" fill="none" stroke="#e46a68" stroke-opacity="0.85" stroke-width="2.2" stroke-dasharray="3.99 1.33 2.66 1.33 1.33 1.33 3.99 5.32 3.99 2.66 1.33 2.66 2.66 2.66 1.33 1.33 1.33 13.30 2.66 3.99 2.66 2.66 1.33 1.33 6.65 2.66 2.66 1.33 9.31 1.33 2.66 1.33 1.33 1.33 1.33 1.33 2.66 1.33 3.99 1.33 2.66 1.33 5.32 1.33 1.33 1.33 2.66 1.33 5.32 2.66 1.33 1.33 2.66 15.96 1.33 6.65 6.65 2.66 5.32 3.99 2.66 1.33 1.33 5.32 1.33 1.33 6.65 0.00"/><ellipse cx="601.20" cy="96.30" rx="34.00" ry="32.80" fill="none" stroke="#e05a58" stroke-opacity="0.85" stroke-width="2.0" stroke-dasharray="1.33 2.66 5.32 87.78 2.66 10.64 3.99 86.45 3.99 3.99"/><ellipse cx="601.20" cy="96.30" rx="32.00" ry="31.00" fill="#28e535"/><path d="M603.2 124.9h1.25v1.25h-1.25zM603.2 123.6h1.25v1.25h-1.25zM605.9 111.6h1.25v1.25h-1.25zM604.6 123.6h1.25v1.25h-1.25zM601.9 122.3h1.25v1.25h-1.25zM601.9 122.3h1.25v1.25h-1.25zM599.2 81.0h1.25v1.25h-1.25zM612.5 114.3h1.25v1.25h-1.25zM600.6 82.4h1.25v1.25h-1.25zM611.2 114.3h1.25v1.25h-1.25zM599.2 83.7h1.25v1.25h-1.25zM574.0 103.7h1.25v1.25h-1.25zM608.6 107.6h1.25v1.25h-1.25zM601.9 82.4h1.25v1.25h-1.25zM600.6 81.0h1.25v1.25h-1.25zM600.6 82.4h1.25v1.25h-1.25zM611.2 105.0h1.25v1.25h-1.25zM591.3 86.4h1.25v1.25h-1.25zM578.0 102.3h1.25v1.25h-1.25zM604.6 110.3h1.25v1.25h-1.25zM603.2 111.6h1.25v1.25h-1.25zM600.6 113.0h1.25v1.25h-1.25zM600.6 81.0h1.25v1.25h-1.25zM589.9 98.3h1.25v1.25h-1.25zM576.6 82.4h1.25v1.25h-1.25zM620.5 115.6h1.25v1.25h-1.25zM589.9 86.4h1.25v1.25h-1.25zM600.6 120.9h1.25v1.25h-1.25zM592.6 97.0h1.25v1.25h-1.25zM596.6 66.4h1.25v1.25h-1.25zM604.6 74.4h1.25v1.25h-1.25zM585.9 95.7h1.25v1.25h-1.25zM609.9 119.6h1.25v1.25h-1.25zM583.3 85.0h1.25v1.25h-1.25zM580.6 113.0h1.25v1.25h-1.25zM628.5 85.0h1.25v1.25h-1.25zM585.9 89.0h1.25v1.25h-1.25zM583.3 115.6h1.25v1.25h-1.25zM620.5 115.6h1.25v1.25h-1.25zM603.2 122.3h1.25v1.25h-1.25zM601.9 124.9h1.25v1.25h-1.25zM627.2 86.4h1.25v1.25h-1.25zM608.6 119.6h1.25v1.25h-1.25zM599.2 81.0h1.25v1.25h-1.25zM599.2 81.0h1.25v1.25h-1.25zM601.9 83.7h1.25v1.25h-1.25zM609.9 120.9h1.25v1.25h-1.25zM587.3 75.7h1.25v1.25h-1.25zM603.2 73.1h1.25v1.25h-1.25zM603.2 123.6h1.25v1.25h-1.25zM595.3 91.7h1.25v1.25h-1.25zM579.3 105.0h1.25v1.25h-1.25zM603.2 71.7h1.25v1.25h-1.25zM582.0 79.7h1.25v1.25h-1.25zM596.6 81.0h1.25v1.25h-1.25zM605.9 82.4h1.25v1.25h-1.25zM596.6 81.0h1.25v1.25h-1.25zM605.9 98.3h1.25v1.25h-1.25zM575.3 99.7h1.25v1.25h-1.25zM607.2 67.7h1.25v1.25h-1.25zM607.2 101.0h1.25v1.25h-1.25zM584.6 97.0h1.25v1.25h-1.25zM589.9 98.3h1.25v1.25h-1.25zM593.9 107.6h1.25v1.25h-1.25zM592.6 98.3h1.25v1.25h-1.25zM617.9 93.0h1.25v1.25h-1.25zM607.2 81.0h1.25v1.25h-1.25zM579.3 103.7h1.25v1.25h-1.25zM583.3 85.0h1.25v1.25h-1.25zM619.2 87.7h1.25v1.25h-1.25zM607.2 101.0h1.25v1.25h-1.25zM604.6 124.9h1.25v1.25h-1.25zM616.5 71.7h1.25v1.25h-1.25zM578.0 93.0h1.25v1.25h-1.25zM592.6 123.6h1.25v1.25h-1.25zM588.6 77.1h1.25v1.25h-1.25zM595.3 67.7h1.25v1.25h-1.25zM592.6 110.3h1.25v1.25h-1.25zM600.6 81.0h1.25v1.25h-1.25zM608.6 123.6h1.25v1.25h-1.25zM583.3 113.0h1.25v1.25h-1.25zM582.0 101.0h1.25v1.25h-1.25zM600.6 81.0h1.25v1.25h-1.25zM579.3 81.0h1.25v1.25h-1.25zM587.3 111.6h1.25v1.25h-1.25zM612.5 107.6h1.25v1.25h-1.25zM576.6 82.4h1.25v1.25h-1.25zM575.3 83.7h1.25v1.25h-1.25zM576.6 110.3h1.25v1.25h-1.25zM595.3 79.7h1.25v1.25h-1.25zM613.9 117.0h1.25v1.25h-1.25zM625.8 95.7h1.25v1.25h-1.25zM604.6 81.0h1.25v1.25h-1.25zM609.9 93.0h1.25v1.25h-1.25zM608.6 110.3h1.25v1.25h-1.25zM585.9 97.0h1.25v1.25h-1.25zM609.9 107.6h1.25v1.25h-1.25zM612.5 114.3h1.25v1.25h-1.25zM620.5 81.0h1.25v1.25h-1.25zM609.9 82.4h1.25v1.25h-1.25zM617.9 118.3h1.25v1.25h-1.25zM623.2 87.7h1.25v1.25h-1.25zM620.5 75.7h1.25v1.25h-1.25zM601.9 67.7h1.25v1.25h-1.25zM583.3 106.3h1.25v1.25h-1.25zM621.9 102.3h1.25v1.25h-1.25zM576.6 79.7h1.25v1.25h-1.25zM588.6 70.4h1.25v1.25h-1.25zM591.3 87.7h1.25v1.25h-1.25zM571.3 101.0h1.25v1.25h-1.25zM593.9 109.0h1.25v1.25h-1.25zM595.3 120.9h1.25v1.25h-1.25zM592.6 75.7h1.25v1.25h-1.25zM612.5 115.6h1.25v1.25h-1.25zM585.9 120.9h1.25v1.25h-1.25zM591.3 115.6h1.25v1.25h-1.25zM600.6 122.3h1.25v1.25h-1.25zM587.3 120.9h1.25v1.25h-1.25zM597.9 82.4h1.25v1.25h-1.25zM607.2 120.9h1.25v1.25h-1.25zM589.9 95.7h1.25v1.25h-1.25zM587.3 89.0h1.25v1.25h-1.25zM599.2 82.4h1.25v1.25h-1.25zM582.0 86.4h1.25v1.25h-1.25zM608.6 102.3h1.25v1.25h-1.25zM593.9 109.0h1.25v1.25h-1.25zM624.5 97.0h1.25v1.25h-1.25zM584.6 113.0h1.25v1.25h-1.25zM591.3 95.7h1.25v1.25h-1.25zM604.6 122.3h1.25v1.25h-1.25zM585.9 120.9h1.25v1.25h-1.25zM609.9 106.3h1.25v1.25h-1.25zM583.3 114.3h1.25v1.25h-1.25zM604.6 113.0h1.25v1.25h-1.25zM585.9 75.7h1.25v1.25h-1.25z" fill="#c8503c"/><ellipse cx="601.20" cy="96.30" rx="31.80" ry="30.80" fill="none" stroke="#000" stroke-width="1.5" stroke-dasharray="16 0.6 30 0.6 30 1.0 16 1.3 16 1.0 16 1.3 16 0.6 16 0.6 16 0.6 16 1.3 30 0.6 30 1.3"/><rect x="596.60" y="127.60" width="7" height="1.8" fill="#e06050"/><path d="M597.90 133.80 a2.2 1.7 0 0 1 4.4 0z" fill="#111"/><circle cx="689.70" cy="95.40" r="37.0" fill="#fff" stroke="#cdcdcd" stroke-width="1.3"/><ellipse cx="690.80" cy="96.30" rx="33.30" ry="32.30" fill="none" stroke="#e46a68" stroke-opacity="0.85" stroke-width="2.2" stroke-dasharray="0.00 1.33 10.64 1.33 6.65 1.33 3.99 2.66 2.66 3.99 2.66 1.33 2.66 2.66 1.33 2.66 2.66 3.99 1.33 1.33 1.33 1.33 2.66 1.33 6.65 1.33 2.66 1.33 5.32 1.33 2.66 3.99 1.33 1.33 9.31 1.33 1.33 1.33 5.32 1.33 1.33 1.33 2.66 1.33 3.99 2.66 2.66 1.33 1.33 2.66 1.33 2.66 9.31 6.65 1.33 7.98 1.33 1.33 1.33 1.33 1.33 1.33 1.33 1.33 1.33 3.99 1.33 3.99 2.66 1.33 3.99 3.99 7.98 1.33"/><ellipse cx="690.80" cy="96.30" rx="34.00" ry="32.80" fill="none" stroke="#e05a58" stroke-opacity="0.85" stroke-width="2.0" stroke-dasharray="3.99 1.33 3.99 87.78 3.99 3.99 1.33 2.66 1.33 2.66 1.33 86.45 5.32 1.33 1.33 0.00"/><ellipse cx="690.80" cy="96.30" rx="32.00" ry="31.00" fill="#28e535"/><path d="M667.6 99.7h1.25v1.25h-1.25zM703.5 107.6h1.25v1.25h-1.25zM703.5 109.0h1.25v1.25h-1.25zM712.8 94.3h1.25v1.25h-1.25zM707.5 86.4h1.25v1.25h-1.25zM668.9 98.3h1.25v1.25h-1.25zM712.8 94.3h1.25v1.25h-1.25zM704.8 109.0h1.25v1.25h-1.25zM702.1 107.6h1.25v1.25h-1.25zM670.2 85.0h1.25v1.25h-1.25zM668.9 99.7h1.25v1.25h-1.25zM692.8 102.3h1.25v1.25h-1.25zM708.8 101.0h1.25v1.25h-1.25zM707.5 87.7h1.25v1.25h-1.25zM708.8 99.7h1.25v1.25h-1.25zM708.8 106.3h1.25v1.25h-1.25zM668.9 99.7h1.25v1.25h-1.25zM707.5 99.7h1.25v1.25h-1.25zM704.8 106.3h1.25v1.25h-1.25zM703.5 107.6h1.25v1.25h-1.25zM691.5 77.1h1.25v1.25h-1.25zM710.1 106.3h1.25v1.25h-1.25zM706.1 71.7h1.25v1.25h-1.25zM711.5 93.0h1.25v1.25h-1.25zM707.5 98.3h1.25v1.25h-1.25zM703.5 109.0h1.25v1.25h-1.25zM671.6 91.7h1.25v1.25h-1.25zM707.5 87.7h1.25v1.25h-1.25zM692.8 79.7h1.25v1.25h-1.25zM670.2 74.4h1.25v1.25h-1.25zM707.5 87.7h1.25v1.25h-1.25zM711.5 94.3h1.25v1.25h-1.25zM702.1 105.0h1.25v1.25h-1.25zM694.2 102.3h1.25v1.25h-1.25zM668.9 101.0h1.25v1.25h-1.25zM708.8 99.7h1.25v1.25h-1.25zM695.5 110.3h1.25v1.25h-1.25zM707.5 74.4h1.25v1.25h-1.25zM687.5 77.1h1.25v1.25h-1.25zM708.8 74.4h1.25v1.25h-1.25zM707.5 89.0h1.25v1.25h-1.25zM668.9 101.0h1.25v1.25h-1.25zM662.2 102.3h1.25v1.25h-1.25zM670.2 98.3h1.25v1.25h-1.25zM704.8 103.7h1.25v1.25h-1.25zM664.9 111.6h1.25v1.25h-1.25zM692.8 122.3h1.25v1.25h-1.25zM686.2 69.1h1.25v1.25h-1.25zM692.8 120.9h1.25v1.25h-1.25zM668.9 99.7h1.25v1.25h-1.25zM698.2 103.7h1.25v1.25h-1.25zM694.2 115.6h1.25v1.25h-1.25zM688.8 118.3h1.25v1.25h-1.25zM695.5 70.4h1.25v1.25h-1.25zM694.2 71.7h1.25v1.25h-1.25zM706.1 106.3h1.25v1.25h-1.25zM666.2 90.4h1.25v1.25h-1.25zM687.5 81.0h1.25v1.25h-1.25zM696.8 102.3h1.25v1.25h-1.25zM695.5 120.9h1.25v1.25h-1.25zM704.8 107.6h1.25v1.25h-1.25zM703.5 106.3h1.25v1.25h-1.25zM698.2 82.4h1.25v1.25h-1.25zM668.9 79.7h1.25v1.25h-1.25zM686.2 78.4h1.25v1.25h-1.25zM707.5 98.3h1.25v1.25h-1.25zM690.2 101.0h1.25v1.25h-1.25zM674.2 115.6h1.25v1.25h-1.25zM676.9 74.4h1.25v1.25h-1.25zM664.9 107.6h1.25v1.25h-1.25zM695.5 102.3h1.25v1.25h-1.25zM703.5 91.7h1.25v1.25h-1.25zM670.2 79.7h1.25v1.25h-1.25zM708.8 101.0h1.25v1.25h-1.25zM666.2 102.3h1.25v1.25h-1.25zM683.5 93.0h1.25v1.25h-1.25zM670.2 87.7h1.25v1.25h-1.25zM682.2 78.4h1.25v1.25h-1.25zM679.5 99.7h1.25v1.25h-1.25zM708.8 77.1h1.25v1.25h-1.25zM708.8 97.0h1.25v1.25h-1.25zM715.4 81.0h1.25v1.25h-1.25zM672.9 107.6h1.25v1.25h-1.25zM708.8 99.7h1.25v1.25h-1.25zM708.8 86.4h1.25v1.25h-1.25zM712.8 93.0h1.25v1.25h-1.25zM682.2 109.0h1.25v1.25h-1.25zM698.2 95.7h1.25v1.25h-1.25zM715.4 110.3h1.25v1.25h-1.25zM670.2 79.7h1.25v1.25h-1.25zM708.8 107.6h1.25v1.25h-1.25zM698.2 87.7h1.25v1.25h-1.25zM687.5 94.3h1.25v1.25h-1.25zM714.1 97.0h1.25v1.25h-1.25zM670.2 99.7h1.25v1.25h-1.25zM710.1 93.0h1.25v1.25h-1.25zM687.5 95.7h1.25v1.25h-1.25zM686.2 70.4h1.25v1.25h-1.25zM690.2 75.7h1.25v1.25h-1.25zM707.5 106.3h1.25v1.25h-1.25zM703.5 69.1h1.25v1.25h-1.25zM690.2 99.7h1.25v1.25h-1.25zM692.8 70.4h1.25v1.25h-1.25zM684.9 81.0h1.25v1.25h-1.25zM695.5 110.3h1.25v1.25h-1.25zM683.5 101.0h1.25v1.25h-1.25zM674.2 117.0h1.25v1.25h-1.25zM670.2 77.1h1.25v1.25h-1.25zM668.9 98.3h1.25v1.25h-1.25zM662.2 97.0h1.25v1.25h-1.25zM692.8 81.0h1.25v1.25h-1.25zM670.2 86.4h1.25v1.25h-1.25zM668.9 110.3h1.25v1.25h-1.25zM710.1 107.6h1.25v1.25h-1.25zM679.5 103.7h1.25v1.25h-1.25zM711.5 95.7h1.25v1.25h-1.25zM668.9 79.7h1.25v1.25h-1.25zM691.5 82.4h1.25v1.25h-1.25zM688.8 69.1h1.25v1.25h-1.25zM694.2 103.7h1.25v1.25h-1.25zM686.2 89.0h1.25v1.25h-1.25zM691.5 66.4h1.25v1.25h-1.25zM668.9 86.4h1.25v1.25h-1.25zM695.5 101.0h1.25v1.25h-1.25zM712.8 102.3h1.25v1.25h-1.25zM695.5 71.7h1.25v1.25h-1.25zM703.5 105.0h1.25v1.25h-1.25zM704.8 103.7h1.25v1.25h-1.25zM671.6 106.3h1.25v1.25h-1.25zM716.8 83.7h1.25v1.25h-1.25zM714.1 91.7h1.25v1.25h-1.25zM668.9 109.0h1.25v1.25h-1.25zM712.8 94.3h1.25v1.25h-1.25zM675.5 114.3h1.25v1.25h-1.25zM711.5 82.4h1.25v1.25h-1.25z" fill="#c8503c"/><ellipse cx="690.80" cy="96.30" rx="31.80" ry="30.80" fill="none" stroke="#000" stroke-width="1.5" stroke-dasharray="22 0.6 40 0.6 30 0.6 30 0.6 16 0.6 16 1.3 16 1.3 40 1.3 30 1.0 30 1.0 16 0.6 16 1.0"/><rect x="689.9" y="85.8" width="3.5" height="3.5" fill="#d85a40"/><rect x="686.20" y="127.60" width="7" height="1.8" fill="#e06050"/><path d="M687.50 133.80 a2.2 1.7 0 0 1 4.4 0z" fill="#111"/><circle cx="331.30" cy="190.20" r="37.0" fill="#fff" stroke="#cdcdcd" stroke-width="1.3"/><ellipse cx="332.40" cy="191.10" rx="33.30" ry="32.30" fill="none" stroke="#e46a68" stroke-opacity="0.85" stroke-width="2.2" stroke-dasharray="14.63 3.99 2.66 1.33 5.32 2.66 1.33 1.33 6.65 2.66 2.66 6.65 2.66 1.33 1.33 6.65 3.99 2.66 5.32 5.32 3.99 1.33 3.99 2.66 1.33 2.66 2.66 1.33 2.66 1.33 11.97 1.33 6.65 1.33 3.99 2.66 1.33 2.66 3.99 3.99 3.99 3.99 1.33 1.33 1.33 1.33 1.33 1.33 2.66 2.66 1.33 1.33 1.33 1.33 3.99 3.99 2.66 1.33 2.66 1.33 1.33 1.33 14.63 0.00"/><ellipse cx="332.40" cy="191.10" rx="34.00" ry="32.80" fill="none" stroke="#e05a58" stroke-opacity="0.85" stroke-width="2.0" stroke-dasharray="1.33 1.33 5.32 1.33 1.33 86.45 2.66 3.99 1.33 1.33 1.33 3.99 1.33 89.11 3.99 1.33 1.33 0.00"/><ellipse cx="332.40" cy="191.10" rx="32.00" ry="31.00" fill="#28e535"/><path d="M339.8 173.2h1.25v1.25h-1.25zM313.2 210.4h1.25v1.25h-1.25zM326.5 203.8h1.25v1.25h-1.25zM305.2 177.2h1.25v1.25h-1.25zM329.1 205.1h1.25v1.25h-1.25zM314.5 182.5h1.25v1.25h-1.25zM347.7 203.8h1.25v1.25h-1.25zM321.1 213.1h1.25v1.25h-1.25zM335.8 191.8h1.25v1.25h-1.25zM357.0 191.8h1.25v1.25h-1.25zM311.8 210.4h1.25v1.25h-1.25zM326.5 202.4h1.25v1.25h-1.25zM333.1 187.8h1.25v1.25h-1.25zM313.2 169.2h1.25v1.25h-1.25zM342.4 171.9h1.25v1.25h-1.25zM339.8 197.1h1.25v1.25h-1.25zM342.4 191.8h1.25v1.25h-1.25zM347.7 174.5h1.25v1.25h-1.25zM311.8 210.4h1.25v1.25h-1.25zM305.2 195.8h1.25v1.25h-1.25zM351.7 169.2h1.25v1.25h-1.25zM309.2 177.2h1.25v1.25h-1.25zM310.5 209.1h1.25v1.25h-1.25zM335.8 174.5h1.25v1.25h-1.25zM306.5 183.8h1.25v1.25h-1.25zM334.4 214.4h1.25v1.25h-1.25zM331.8 210.4h1.25v1.25h-1.25zM330.4 174.5h1.25v1.25h-1.25zM339.8 218.4h1.25v1.25h-1.25zM333.1 205.1h1.25v1.25h-1.25zM361.0 195.8h1.25v1.25h-1.25zM345.1 175.8h1.25v1.25h-1.25zM339.8 165.2h1.25v1.25h-1.25zM335.8 173.2h1.25v1.25h-1.25zM346.4 174.5h1.25v1.25h-1.25zM305.2 197.1h1.25v1.25h-1.25zM314.5 167.9h1.25v1.25h-1.25zM323.8 199.8h1.25v1.25h-1.25zM314.5 181.2h1.25v1.25h-1.25zM329.1 203.8h1.25v1.25h-1.25zM327.8 215.7h1.25v1.25h-1.25zM335.8 215.7h1.25v1.25h-1.25zM322.5 197.1h1.25v1.25h-1.25zM329.1 163.9h1.25v1.25h-1.25zM315.8 187.8h1.25v1.25h-1.25zM323.8 195.8h1.25v1.25h-1.25zM329.1 189.1h1.25v1.25h-1.25zM343.7 178.5h1.25v1.25h-1.25zM318.5 171.9h1.25v1.25h-1.25zM307.8 183.8h1.25v1.25h-1.25zM347.7 199.8h1.25v1.25h-1.25zM357.0 190.5h1.25v1.25h-1.25zM313.2 209.1h1.25v1.25h-1.25zM341.1 218.4h1.25v1.25h-1.25zM334.4 215.7h1.25v1.25h-1.25zM306.5 197.1h1.25v1.25h-1.25zM311.8 211.8h1.25v1.25h-1.25zM334.4 189.1h1.25v1.25h-1.25zM311.8 210.4h1.25v1.25h-1.25zM317.1 182.5h1.25v1.25h-1.25zM305.2 201.1h1.25v1.25h-1.25zM331.8 181.2h1.25v1.25h-1.25zM345.1 214.4h1.25v1.25h-1.25zM358.4 178.5h1.25v1.25h-1.25zM321.1 170.5h1.25v1.25h-1.25zM323.8 181.2h1.25v1.25h-1.25zM350.4 210.4h1.25v1.25h-1.25zM325.1 174.5h1.25v1.25h-1.25zM323.8 198.5h1.25v1.25h-1.25zM321.1 217.1h1.25v1.25h-1.25zM317.1 190.5h1.25v1.25h-1.25zM339.8 178.5h1.25v1.25h-1.25zM347.7 175.8h1.25v1.25h-1.25zM335.8 177.2h1.25v1.25h-1.25zM343.7 210.4h1.25v1.25h-1.25zM338.4 177.2h1.25v1.25h-1.25zM355.7 207.8h1.25v1.25h-1.25zM330.4 194.5h1.25v1.25h-1.25zM333.1 189.1h1.25v1.25h-1.25zM311.8 195.8h1.25v1.25h-1.25zM341.1 213.1h1.25v1.25h-1.25zM313.2 189.1h1.25v1.25h-1.25zM333.1 171.9h1.25v1.25h-1.25zM355.7 202.4h1.25v1.25h-1.25zM351.7 179.8h1.25v1.25h-1.25zM345.1 189.1h1.25v1.25h-1.25zM313.2 187.8h1.25v1.25h-1.25zM343.7 194.5h1.25v1.25h-1.25zM357.0 202.4h1.25v1.25h-1.25zM322.5 206.4h1.25v1.25h-1.25zM353.1 170.5h1.25v1.25h-1.25zM306.5 197.1h1.25v1.25h-1.25zM325.1 163.9h1.25v1.25h-1.25zM321.1 181.2h1.25v1.25h-1.25zM331.8 209.1h1.25v1.25h-1.25zM315.8 187.8h1.25v1.25h-1.25zM334.4 209.1h1.25v1.25h-1.25zM315.8 189.1h1.25v1.25h-1.25zM353.1 171.9h1.25v1.25h-1.25zM338.4 202.4h1.25v1.25h-1.25zM355.7 191.8h1.25v1.25h-1.25zM326.5 189.1h1.25v1.25h-1.25zM327.8 203.8h1.25v1.25h-1.25zM353.1 209.1h1.25v1.25h-1.25zM333.1 171.9h1.25v1.25h-1.25zM345.1 213.1h1.25v1.25h-1.25zM339.8 186.5h1.25v1.25h-1.25zM319.8 191.8h1.25v1.25h-1.25zM334.4 193.1h1.25v1.25h-1.25zM307.8 173.2h1.25v1.25h-1.25zM323.8 197.1h1.25v1.25h-1.25zM355.7 191.8h1.25v1.25h-1.25zM333.1 181.2h1.25v1.25h-1.25zM303.8 190.5h1.25v1.25h-1.25zM311.8 209.1h1.25v1.25h-1.25zM338.4 190.5h1.25v1.25h-1.25zM351.7 198.5h1.25v1.25h-1.25zM330.4 205.1h1.25v1.25h-1.25zM318.5 191.8h1.25v1.25h-1.25zM338.4 214.4h1.25v1.25h-1.25zM327.8 163.9h1.25v1.25h-1.25zM346.4 182.5h1.25v1.25h-1.25zM309.2 183.8h1.25v1.25h-1.25zM329.1 163.9h1.25v1.25h-1.25zM330.4 211.8h1.25v1.25h-1.25zM321.1 182.5h1.25v1.25h-1.25zM347.7 190.5h1.25v1.25h-1.25zM319.8 211.8h1.25v1.25h-1.25zM317.1 185.2h1.25v1.25h-1.25zM329.1 163.9h1.25v1.25h-1.25zM325.1 181.2h1.25v1.25h-1.25zM343.7 209.1h1.25v1.25h-1.25zM309.2 207.8h1.25v1.25h-1.25zM322.5 209.1h1.25v1.25h-1.25zM338.4 195.8h1.25v1.25h-1.25z" fill="#c8503c"/><ellipse cx="332.40" cy="191.10" rx="31.80" ry="30.80" fill="none" stroke="#000" stroke-width="1.5" stroke-dasharray="30 1.0 30 1.3 40 0.6 16 1.3 30 0.6 30 1.0 40 1.0 30 1.0 30 1.3 16 1.0 22 1.3 16 1.0"/><rect x="327.80" y="222.40" width="7" height="1.8" fill="#e06050"/><path d="M329.10 228.60 a2.2 1.7 0 0 1 4.4 0z" fill="#111"/><circle cx="420.90" cy="190.20" r="37.0" fill="#fff" stroke="#cdcdcd" stroke-width="1.3"/><ellipse cx="422.00" cy="191.10" rx="33.30" ry="32.30" fill="none" stroke="#e46a68" stroke-opacity="0.85" stroke-width="2.2" stroke-dasharray="2.66 1.33 1.33 1.33 1.33 1.33 3.99 1.33 2.66 2.66 1.33 1.33 1.33 1.33 1.33 1.33 2.66 1.33 1.33 1.33 1.33 1.33 2.66 5.32 2.66 2.66 1.33 5.32 1.33 1.33 2.66 1.33 1.33 1.33 5.32 5.32 7.98 1.33 1.33 1.33 5.32 1.33 11.97 2.66 9.31 2.66 13.30 3.99 2.66 3.99 1.33 3.99 1.33 1.33 1.33 1.33 2.66 1.33 1.33 6.65 5.32 2.66 3.99 2.66 2.66 3.99 3.99 1.33 9.31 0.00"/><ellipse cx="422.00" cy="191.10" rx="34.00" ry="32.80" fill="none" stroke="#e05a58" stroke-opacity="0.85" stroke-width="2.0" stroke-dasharray="5.32 90.44 1.33 1.33 1.33 1.33 2.66 1.33 2.66 2.66 2.66 86.45 2.66 1.33 2.66 1.33 1.33 0.00"/><ellipse cx="422.00" cy="191.10" rx="32.00" ry="31.00" fill="#28e535"/><path d="M429.4 170.5h1.25v1.25h-1.25zM428.0 181.2h1.25v1.25h-1.25zM401.4 195.8h1.25v1.25h-1.25zM397.4 175.8h1.25v1.25h-1.25zM437.3 214.4h1.25v1.25h-1.25zM426.7 179.8h1.25v1.25h-1.25zM436.0 213.1h1.25v1.25h-1.25zM428.0 185.2h1.25v1.25h-1.25zM417.4 211.8h1.25v1.25h-1.25zM397.4 177.2h1.25v1.25h-1.25zM396.1 197.1h1.25v1.25h-1.25zM416.1 213.1h1.25v1.25h-1.25zM396.1 177.2h1.25v1.25h-1.25zM398.8 175.8h1.25v1.25h-1.25zM426.7 183.8h1.25v1.25h-1.25zM428.0 197.1h1.25v1.25h-1.25zM432.0 198.5h1.25v1.25h-1.25zM396.1 198.5h1.25v1.25h-1.25zM398.8 174.5h1.25v1.25h-1.25zM440.0 187.8h1.25v1.25h-1.25zM425.4 195.8h1.25v1.25h-1.25zM414.7 181.2h1.25v1.25h-1.25zM444.0 205.1h1.25v1.25h-1.25zM393.4 199.8h1.25v1.25h-1.25zM424.0 206.4h1.25v1.25h-1.25zM408.1 178.5h1.25v1.25h-1.25zM421.4 203.8h1.25v1.25h-1.25zM437.3 211.8h1.25v1.25h-1.25zM436.0 178.5h1.25v1.25h-1.25zM398.8 174.5h1.25v1.25h-1.25zM394.8 197.1h1.25v1.25h-1.25zM397.4 197.1h1.25v1.25h-1.25zM429.4 190.5h1.25v1.25h-1.25zM394.8 198.5h1.25v1.25h-1.25zM429.4 201.1h1.25v1.25h-1.25zM430.7 173.2h1.25v1.25h-1.25zM426.7 178.5h1.25v1.25h-1.25zM426.7 211.8h1.25v1.25h-1.25zM404.1 167.9h1.25v1.25h-1.25zM437.3 194.5h1.25v1.25h-1.25zM449.3 183.8h1.25v1.25h-1.25zM441.3 178.5h1.25v1.25h-1.25zM428.0 203.8h1.25v1.25h-1.25zM438.7 211.8h1.25v1.25h-1.25zM429.4 198.5h1.25v1.25h-1.25zM420.0 167.9h1.25v1.25h-1.25zM417.4 181.2h1.25v1.25h-1.25zM393.4 193.1h1.25v1.25h-1.25zM416.1 181.2h1.25v1.25h-1.25zM401.4 205.1h1.25v1.25h-1.25zM400.1 197.1h1.25v1.25h-1.25zM398.8 175.8h1.25v1.25h-1.25zM444.0 182.5h1.25v1.25h-1.25zM406.7 211.8h1.25v1.25h-1.25zM396.1 174.5h1.25v1.25h-1.25zM398.8 174.5h1.25v1.25h-1.25zM425.4 167.9h1.25v1.25h-1.25zM422.7 217.1h1.25v1.25h-1.25zM436.0 195.8h1.25v1.25h-1.25zM430.7 197.1h1.25v1.25h-1.25zM406.7 198.5h1.25v1.25h-1.25zM424.0 183.8h1.25v1.25h-1.25zM413.4 162.5h1.25v1.25h-1.25zM430.7 183.8h1.25v1.25h-1.25zM445.3 181.2h1.25v1.25h-1.25zM413.4 202.4h1.25v1.25h-1.25zM412.1 201.1h1.25v1.25h-1.25zM429.4 178.5h1.25v1.25h-1.25zM436.0 213.1h1.25v1.25h-1.25zM396.1 198.5h1.25v1.25h-1.25zM437.3 169.2h1.25v1.25h-1.25zM424.0 166.5h1.25v1.25h-1.25zM448.0 183.8h1.25v1.25h-1.25zM437.3 194.5h1.25v1.25h-1.25zM441.3 177.2h1.25v1.25h-1.25zM429.4 179.8h1.25v1.25h-1.25zM418.7 181.2h1.25v1.25h-1.25zM437.3 173.2h1.25v1.25h-1.25zM440.0 213.1h1.25v1.25h-1.25zM428.0 211.8h1.25v1.25h-1.25zM406.7 179.8h1.25v1.25h-1.25zM449.3 185.2h1.25v1.25h-1.25zM425.4 178.5h1.25v1.25h-1.25zM430.7 162.5h1.25v1.25h-1.25zM436.0 191.8h1.25v1.25h-1.25zM414.7 162.5h1.25v1.25h-1.25zM412.1 177.2h1.25v1.25h-1.25zM433.3 181.2h1.25v1.25h-1.25zM437.3 210.4h1.25v1.25h-1.25zM413.4 179.8h1.25v1.25h-1.25zM416.1 182.5h1.25v1.25h-1.25zM398.8 174.5h1.25v1.25h-1.25zM400.1 209.1h1.25v1.25h-1.25zM430.7 198.5h1.25v1.25h-1.25zM434.7 165.2h1.25v1.25h-1.25zM429.4 195.8h1.25v1.25h-1.25zM430.7 199.8h1.25v1.25h-1.25zM428.0 210.4h1.25v1.25h-1.25zM410.7 182.5h1.25v1.25h-1.25zM421.4 217.1h1.25v1.25h-1.25zM397.4 181.2h1.25v1.25h-1.25zM433.3 182.5h1.25v1.25h-1.25zM420.0 186.5h1.25v1.25h-1.25zM393.4 199.8h1.25v1.25h-1.25zM425.4 218.4h1.25v1.25h-1.25zM396.1 203.8h1.25v1.25h-1.25zM413.4 190.5h1.25v1.25h-1.25zM408.1 182.5h1.25v1.25h-1.25zM429.4 197.1h1.25v1.25h-1.25zM429.4 199.8h1.25v1.25h-1.25zM413.4 190.5h1.25v1.25h-1.25zM446.6 198.5h1.25v1.25h-1.25zM448.0 183.8h1.25v1.25h-1.25zM430.7 189.1h1.25v1.25h-1.25zM416.1 219.7h1.25v1.25h-1.25zM436.0 186.5h1.25v1.25h-1.25zM412.1 209.1h1.25v1.25h-1.25zM425.4 206.4h1.25v1.25h-1.25zM394.8 199.8h1.25v1.25h-1.25zM432.0 170.5h1.25v1.25h-1.25zM433.3 201.1h1.25v1.25h-1.25zM424.0 205.1h1.25v1.25h-1.25zM444.0 193.1h1.25v1.25h-1.25zM393.4 195.8h1.25v1.25h-1.25zM393.4 197.1h1.25v1.25h-1.25zM430.7 179.8h1.25v1.25h-1.25zM412.1 202.4h1.25v1.25h-1.25zM397.4 175.8h1.25v1.25h-1.25zM397.4 203.8h1.25v1.25h-1.25zM442.7 199.8h1.25v1.25h-1.25zM433.3 167.9h1.25v1.25h-1.25zM445.3 193.1h1.25v1.25h-1.25zM396.1 195.8h1.25v1.25h-1.25zM420.0 185.2h1.25v1.25h-1.25zM424.0 210.4h1.25v1.25h-1.25z" fill="#c8503c"/><ellipse cx="422.00" cy="191.10" rx="31.80" ry="30.80" fill="none" stroke="#000" stroke-width="1.5" stroke-dasharray="22 1.0 40 1.3 16 1.3 16 1.0 30 1.0 22 1.0 22 1.3 16 1.3 30 1.3 40 1.3 30 0.6 30 0.6"/><rect x="417.40" y="222.40" width="7" height="1.8" fill="#e06050"/><path d="M418.70 228.60 a2.2 1.7 0 0 1 4.4 0z" fill="#111"/><circle cx="510.50" cy="190.20" r="37.0" fill="#fff" stroke="#cdcdcd" stroke-width="1.3"/><ellipse cx="511.60" cy="191.10" rx="33.30" ry="32.30" fill="none" stroke="#e46a68" stroke-opacity="0.85" stroke-width="2.2" stroke-dasharray="13.30 1.33 1.33 1.33 9.31 5.32 3.99 2.66 5.32 1.33 1.33 1.33 1.33 2.66 2.66 3.99 1.33 5.32 2.66 1.33 1.33 1.33 2.66 1.33 5.32 3.99 1.33 1.33 2.66 1.33 9.31 1.33 6.65 2.66 1.33 3.99 3.99 5.32 2.66 1.33 1.33 1.33 2.66 1.33 1.33 1.33 3.99 2.66 2.66 1.33 2.66 3.99 2.66 2.66 5.32 2.66 2.66 1.33 3.99 1.33 6.65 1.33 1.33 1.33 5.32 1.33 1.33 1.33 5.32 0.00"/><ellipse cx="511.60" cy="191.10" rx="34.00" ry="32.80" fill="none" stroke="#e05a58" stroke-opacity="0.85" stroke-width="2.0" stroke-dasharray="0.00 1.33 2.66 2.66 3.99 89.11 2.66 1.33 6.65 89.11 1.33 1.33 3.99 2.66"/><ellipse cx="511.60" cy="191.10" rx="32.00" ry="31.00" fill="#28e535"/><path d="M491.0 193.1h1.25v1.25h-1.25zM519.0 194.5h1.25v1.25h-1.25zM517.6 195.8h1.25v1.25h-1.25zM501.7 203.8h1.25v1.25h-1.25zM525.6 205.1h1.25v1.25h-1.25zM522.9 186.5h1.25v1.25h-1.25zM537.6 201.1h1.25v1.25h-1.25zM520.3 195.8h1.25v1.25h-1.25zM496.3 182.5h1.25v1.25h-1.25zM525.6 205.1h1.25v1.25h-1.25zM516.3 194.5h1.25v1.25h-1.25zM485.7 198.5h1.25v1.25h-1.25zM528.3 201.1h1.25v1.25h-1.25zM529.6 206.4h1.25v1.25h-1.25zM508.3 199.8h1.25v1.25h-1.25zM489.7 194.5h1.25v1.25h-1.25zM492.4 177.2h1.25v1.25h-1.25zM497.7 187.8h1.25v1.25h-1.25zM488.4 209.1h1.25v1.25h-1.25zM488.4 199.8h1.25v1.25h-1.25zM517.6 201.1h1.25v1.25h-1.25zM493.7 175.8h1.25v1.25h-1.25zM526.9 201.1h1.25v1.25h-1.25zM503.0 210.4h1.25v1.25h-1.25zM503.0 205.1h1.25v1.25h-1.25zM484.4 199.8h1.25v1.25h-1.25zM504.3 186.5h1.25v1.25h-1.25zM509.6 203.8h1.25v1.25h-1.25zM521.6 214.4h1.25v1.25h-1.25zM493.7 169.2h1.25v1.25h-1.25zM513.6 174.5h1.25v1.25h-1.25zM516.3 174.5h1.25v1.25h-1.25zM511.0 215.7h1.25v1.25h-1.25zM501.7 191.8h1.25v1.25h-1.25zM497.7 215.7h1.25v1.25h-1.25zM517.6 214.4h1.25v1.25h-1.25zM513.6 197.1h1.25v1.25h-1.25zM521.6 181.2h1.25v1.25h-1.25zM517.6 195.8h1.25v1.25h-1.25zM516.3 194.5h1.25v1.25h-1.25zM516.3 198.5h1.25v1.25h-1.25zM504.3 187.8h1.25v1.25h-1.25zM483.0 186.5h1.25v1.25h-1.25zM538.9 190.5h1.25v1.25h-1.25zM495.0 182.5h1.25v1.25h-1.25zM504.3 187.8h1.25v1.25h-1.25zM513.6 198.5h1.25v1.25h-1.25zM496.3 183.8h1.25v1.25h-1.25zM525.6 203.8h1.25v1.25h-1.25zM496.3 183.8h1.25v1.25h-1.25zM517.6 179.8h1.25v1.25h-1.25zM519.0 186.5h1.25v1.25h-1.25zM520.3 174.5h1.25v1.25h-1.25zM499.0 170.5h1.25v1.25h-1.25zM522.9 165.2h1.25v1.25h-1.25zM511.0 198.5h1.25v1.25h-1.25zM536.2 177.2h1.25v1.25h-1.25zM505.7 197.1h1.25v1.25h-1.25zM516.3 162.5h1.25v1.25h-1.25zM516.3 186.5h1.25v1.25h-1.25zM488.4 197.1h1.25v1.25h-1.25zM497.7 171.9h1.25v1.25h-1.25zM524.3 197.1h1.25v1.25h-1.25zM488.4 174.5h1.25v1.25h-1.25zM503.0 193.1h1.25v1.25h-1.25zM519.0 207.8h1.25v1.25h-1.25zM484.4 179.8h1.25v1.25h-1.25zM489.7 175.8h1.25v1.25h-1.25zM528.3 198.5h1.25v1.25h-1.25zM515.0 166.5h1.25v1.25h-1.25zM488.4 173.2h1.25v1.25h-1.25zM521.6 185.2h1.25v1.25h-1.25zM513.6 167.9h1.25v1.25h-1.25zM501.7 193.1h1.25v1.25h-1.25zM516.3 198.5h1.25v1.25h-1.25zM517.6 213.1h1.25v1.25h-1.25zM516.3 163.9h1.25v1.25h-1.25zM516.3 193.1h1.25v1.25h-1.25zM503.0 162.5h1.25v1.25h-1.25zM520.3 185.2h1.25v1.25h-1.25zM526.9 203.8h1.25v1.25h-1.25zM484.4 195.8h1.25v1.25h-1.25zM513.6 182.5h1.25v1.25h-1.25zM505.7 186.5h1.25v1.25h-1.25zM529.6 205.1h1.25v1.25h-1.25zM526.9 209.1h1.25v1.25h-1.25zM496.3 206.4h1.25v1.25h-1.25zM493.7 173.2h1.25v1.25h-1.25zM517.6 193.1h1.25v1.25h-1.25zM497.7 203.8h1.25v1.25h-1.25zM496.3 202.4h1.25v1.25h-1.25zM528.3 190.5h1.25v1.25h-1.25zM520.3 215.7h1.25v1.25h-1.25zM529.6 206.4h1.25v1.25h-1.25zM508.3 201.1h1.25v1.25h-1.25zM515.0 203.8h1.25v1.25h-1.25zM526.9 209.1h1.25v1.25h-1.25zM525.6 195.8h1.25v1.25h-1.25zM487.0 201.1h1.25v1.25h-1.25zM521.6 206.4h1.25v1.25h-1.25zM515.0 209.1h1.25v1.25h-1.25zM508.3 198.5h1.25v1.25h-1.25zM521.6 174.5h1.25v1.25h-1.25zM504.3 177.2h1.25v1.25h-1.25zM519.0 195.8h1.25v1.25h-1.25zM533.6 181.2h1.25v1.25h-1.25zM513.6 177.2h1.25v1.25h-1.25zM489.7 187.8h1.25v1.25h-1.25zM511.0 203.8h1.25v1.25h-1.25zM501.7 209.1h1.25v1.25h-1.25zM517.6 197.1h1.25v1.25h-1.25zM511.0 195.8h1.25v1.25h-1.25zM504.3 186.5h1.25v1.25h-1.25zM517.6 189.1h1.25v1.25h-1.25zM503.0 186.5h1.25v1.25h-1.25zM519.0 202.4h1.25v1.25h-1.25zM516.3 179.8h1.25v1.25h-1.25zM507.0 195.8h1.25v1.25h-1.25zM517.6 203.8h1.25v1.25h-1.25zM499.0 194.5h1.25v1.25h-1.25zM511.0 183.8h1.25v1.25h-1.25zM491.0 205.1h1.25v1.25h-1.25zM522.9 185.2h1.25v1.25h-1.25zM488.4 194.5h1.25v1.25h-1.25zM532.3 210.4h1.25v1.25h-1.25zM516.3 210.4h1.25v1.25h-1.25zM507.0 197.1h1.25v1.25h-1.25zM503.0 215.7h1.25v1.25h-1.25zM488.4 197.1h1.25v1.25h-1.25zM497.7 211.8h1.25v1.25h-1.25zM495.0 194.5h1.25v1.25h-1.25zM511.0 181.2h1.25v1.25h-1.25zM495.0 169.2h1.25v1.25h-1.25zM488.4 195.8h1.25v1.25h-1.25zM529.6 181.2h1.25v1.25h-1.25z" fill="#c8503c"/><ellipse cx="511.60" cy="191.10" rx="31.80" ry="30.80" fill="none" stroke="#000" stroke-width="1.5" stroke-dasharray="22 0.6 22 1.0 30 1.0 22 1.3 40 1.0 30 1.3 30 0.6 40 0.6 16 1.0 22 1.3 40 1.0 30 1.0"/><rect x="507.00" y="222.40" width="7" height="1.8" fill="#e06050"/><path d="M508.30 228.60 a2.2 1.7 0 0 1 4.4 0z" fill="#111"/><circle cx="600.10" cy="190.20" r="37.0" fill="#fff" stroke="#cdcdcd" stroke-width="1.3"/><ellipse cx="601.20" cy="191.10" rx="33.30" ry="32.30" fill="none" stroke="#e46a68" stroke-opacity="0.85" stroke-width="2.2" stroke-dasharray="0.00 1.33 15.96 1.33 2.66 3.99 5.32 2.66 2.66 1.33 6.65 3.99 2.66 5.32 3.99 1.33 1.33 1.33 1.33 6.65 1.33 2.66 1.33 1.33 2.66 1.33 3.99 1.33 1.33 1.33 6.65 1.33 9.31 1.33 1.33 1.33 5.32 3.99 1.33 1.33 2.66 1.33 6.65 2.66 1.33 1.33 3.99 9.31 1.33 1.33 1.33 1.33 1.33 9.31 3.99 1.33 1.33 2.66 2.66 3.99 3.99 1.33 1.33 2.66 3.99 1.33 5.32 0.00"/><ellipse cx="601.20" cy="191.10" rx="34.00" ry="32.80" fill="none" stroke="#e05a58" stroke-opacity="0.85" stroke-width="2.0" stroke-dasharray="0.00 1.33 1.33 2.66 5.32 87.78 9.31 1.33 5.32 85.12 2.66 2.66 1.33 1.33 1.33 0.00"/><ellipse cx="601.20" cy="191.10" rx="32.00" ry="31.00" fill="#28e535"/><path d="M609.9 166.5h1.25v1.25h-1.25zM608.6 165.2h1.25v1.25h-1.25zM609.9 166.5h1.25v1.25h-1.25zM608.6 163.9h1.25v1.25h-1.25zM609.9 162.5h1.25v1.25h-1.25zM595.3 186.5h1.25v1.25h-1.25zM611.2 167.9h1.25v1.25h-1.25zM624.5 206.4h1.25v1.25h-1.25zM623.2 206.4h1.25v1.25h-1.25zM623.2 205.1h1.25v1.25h-1.25zM608.6 217.1h1.25v1.25h-1.25zM600.6 181.2h1.25v1.25h-1.25zM607.2 189.1h1.25v1.25h-1.25zM609.9 167.9h1.25v1.25h-1.25zM605.9 186.5h1.25v1.25h-1.25zM628.5 197.1h1.25v1.25h-1.25zM583.3 185.2h1.25v1.25h-1.25zM611.2 179.8h1.25v1.25h-1.25zM599.2 179.8h1.25v1.25h-1.25zM608.6 182.5h1.25v1.25h-1.25zM621.9 205.1h1.25v1.25h-1.25zM616.5 165.2h1.25v1.25h-1.25zM582.0 186.5h1.25v1.25h-1.25zM580.6 190.5h1.25v1.25h-1.25zM583.3 185.2h1.25v1.25h-1.25zM608.6 167.9h1.25v1.25h-1.25zM597.9 177.2h1.25v1.25h-1.25zM609.9 215.7h1.25v1.25h-1.25zM579.3 195.8h1.25v1.25h-1.25zM580.6 185.2h1.25v1.25h-1.25zM621.9 207.8h1.25v1.25h-1.25zM600.6 179.8h1.25v1.25h-1.25zM576.6 185.2h1.25v1.25h-1.25zM575.3 197.1h1.25v1.25h-1.25zM608.6 163.9h1.25v1.25h-1.25zM575.3 174.5h1.25v1.25h-1.25zM593.9 207.8h1.25v1.25h-1.25zM609.9 163.9h1.25v1.25h-1.25zM596.6 162.5h1.25v1.25h-1.25zM589.9 198.5h1.25v1.25h-1.25zM585.9 214.4h1.25v1.25h-1.25zM587.3 166.5h1.25v1.25h-1.25zM578.0 209.1h1.25v1.25h-1.25zM588.6 215.7h1.25v1.25h-1.25zM609.9 167.9h1.25v1.25h-1.25zM575.3 185.2h1.25v1.25h-1.25zM624.5 177.2h1.25v1.25h-1.25zM579.3 174.5h1.25v1.25h-1.25zM617.9 186.5h1.25v1.25h-1.25zM588.6 202.4h1.25v1.25h-1.25zM625.8 199.8h1.25v1.25h-1.25zM605.9 211.8h1.25v1.25h-1.25zM608.6 202.4h1.25v1.25h-1.25zM576.6 181.2h1.25v1.25h-1.25zM575.3 189.1h1.25v1.25h-1.25zM623.2 171.9h1.25v1.25h-1.25zM628.5 199.8h1.25v1.25h-1.25zM599.2 207.8h1.25v1.25h-1.25zM608.6 201.1h1.25v1.25h-1.25zM587.3 197.1h1.25v1.25h-1.25zM593.9 214.4h1.25v1.25h-1.25zM580.6 211.8h1.25v1.25h-1.25zM603.2 179.8h1.25v1.25h-1.25zM583.3 185.2h1.25v1.25h-1.25zM607.2 202.4h1.25v1.25h-1.25zM601.9 186.5h1.25v1.25h-1.25zM621.9 201.1h1.25v1.25h-1.25zM575.3 195.8h1.25v1.25h-1.25zM601.9 181.2h1.25v1.25h-1.25zM592.6 199.8h1.25v1.25h-1.25zM615.2 175.8h1.25v1.25h-1.25zM593.9 174.5h1.25v1.25h-1.25zM588.6 166.5h1.25v1.25h-1.25zM605.9 162.5h1.25v1.25h-1.25zM593.9 186.5h1.25v1.25h-1.25zM587.3 215.7h1.25v1.25h-1.25zM617.9 201.1h1.25v1.25h-1.25zM616.5 177.2h1.25v1.25h-1.25zM591.3 211.8h1.25v1.25h-1.25zM592.6 210.4h1.25v1.25h-1.25zM588.6 214.4h1.25v1.25h-1.25zM595.3 213.1h1.25v1.25h-1.25zM574.0 195.8h1.25v1.25h-1.25zM613.9 206.4h1.25v1.25h-1.25zM592.6 194.5h1.25v1.25h-1.25zM588.6 215.7h1.25v1.25h-1.25zM588.6 170.5h1.25v1.25h-1.25zM611.2 182.5h1.25v1.25h-1.25zM591.3 197.1h1.25v1.25h-1.25zM599.2 181.2h1.25v1.25h-1.25zM616.5 177.2h1.25v1.25h-1.25zM613.9 213.1h1.25v1.25h-1.25zM611.2 166.5h1.25v1.25h-1.25zM607.2 175.8h1.25v1.25h-1.25zM591.3 165.2h1.25v1.25h-1.25zM572.6 195.8h1.25v1.25h-1.25zM623.2 175.8h1.25v1.25h-1.25zM607.2 190.5h1.25v1.25h-1.25zM607.2 174.5h1.25v1.25h-1.25zM583.3 187.8h1.25v1.25h-1.25zM619.2 210.4h1.25v1.25h-1.25zM617.9 170.5h1.25v1.25h-1.25zM593.9 209.1h1.25v1.25h-1.25zM607.2 218.4h1.25v1.25h-1.25zM611.2 177.2h1.25v1.25h-1.25zM576.6 197.1h1.25v1.25h-1.25zM608.6 214.4h1.25v1.25h-1.25zM596.6 186.5h1.25v1.25h-1.25zM575.3 197.1h1.25v1.25h-1.25zM583.3 197.1h1.25v1.25h-1.25zM604.6 175.8h1.25v1.25h-1.25zM596.6 201.1h1.25v1.25h-1.25zM592.6 169.2h1.25v1.25h-1.25zM589.9 187.8h1.25v1.25h-1.25zM616.5 190.5h1.25v1.25h-1.25zM596.6 194.5h1.25v1.25h-1.25zM600.6 189.1h1.25v1.25h-1.25zM578.0 173.2h1.25v1.25h-1.25zM585.9 213.1h1.25v1.25h-1.25zM607.2 166.5h1.25v1.25h-1.25zM621.9 190.5h1.25v1.25h-1.25zM592.6 213.1h1.25v1.25h-1.25zM585.9 214.4h1.25v1.25h-1.25zM579.3 183.8h1.25v1.25h-1.25zM601.9 209.1h1.25v1.25h-1.25zM578.0 207.8h1.25v1.25h-1.25zM620.5 206.4h1.25v1.25h-1.25zM572.6 187.8h1.25v1.25h-1.25zM591.3 163.9h1.25v1.25h-1.25zM593.9 218.4h1.25v1.25h-1.25zM609.9 169.2h1.25v1.25h-1.25zM625.8 199.8h1.25v1.25h-1.25zM587.3 169.2h1.25v1.25h-1.25zM605.9 202.4h1.25v1.25h-1.25zM624.5 193.1h1.25v1.25h-1.25z" fill="#c8503c"/><ellipse cx="601.20" cy="191.10" rx="31.80" ry="30.80" fill="none" stroke="#000" stroke-width="1.5" stroke-dasharray="22 0.6 16 1.3 30 1.3 40 1.3 40 1.0 22 0.6 40 1.0 30 1.0 40 0.6 30 1.0 30 1.3 40 0.6"/><rect x="596.60" y="222.40" width="7" height="1.8" fill="#e06050"/><path d="M597.90 228.60 a2.2 1.7 0 0 1 4.4 0z" fill="#111"/><circle cx="689.70" cy="190.20" r="37.0" fill="#fff" stroke="#cdcdcd" stroke-width="1.3"/><ellipse cx="690.80" cy="191.10" rx="33.30" ry="32.30" fill="none" stroke="#e46a68" stroke-opacity="0.85" stroke-width="2.2" stroke-dasharray="0.00 1.33 3.99 1.33 2.66 1.33 7.98 1.33 1.33 1.33 1.33 1.33 1.33 1.33 1.33 1.33 2.66 3.99 1.33 5.32 1.33 1.33 1.33 2.66 1.33 3.99 1.33 2.66 1.33 2.66 6.65 2.66 1.33 1.33 1.33 1.33 5.32 1.33 14.63 1.33 5.32 2.66 3.99 1.33 11.97 1.33 2.66 3.99 1.33 1.33 1.33 1.33 5.32 1.33 1.33 1.33 1.33 9.31 1.33 3.99 2.66 3.99 1.33 2.66 1.33 3.99 9.31 1.33 1.33 1.33 1.33 2.66 6.65 0.00"/><ellipse cx="690.80" cy="191.10" rx="34.00" ry="32.80" fill="none" stroke="#e05a58" stroke-opacity="0.85" stroke-width="2.0" stroke-dasharray="0.00 1.33 1.33 1.33 3.99 89.11 1.33 1.33 3.99 1.33 1.33 5.32 2.66 86.45 1.33 1.33 2.66 2.66"/><ellipse cx="690.80" cy="191.10" rx="32.00" ry="31.00" fill="#28e535"/><path d="M683.5 194.5h1.25v1.25h-1.25zM666.2 197.1h1.25v1.25h-1.25zM691.5 178.5h1.25v1.25h-1.25zM711.5 199.8h1.25v1.25h-1.25zM690.2 177.2h1.25v1.25h-1.25zM702.1 215.7h1.25v1.25h-1.25zM662.2 189.1h1.25v1.25h-1.25zM682.2 195.8h1.25v1.25h-1.25zM668.9 174.5h1.25v1.25h-1.25zM696.8 206.4h1.25v1.25h-1.25zM660.9 189.1h1.25v1.25h-1.25zM698.2 183.8h1.25v1.25h-1.25zM691.5 165.2h1.25v1.25h-1.25zM666.2 197.1h1.25v1.25h-1.25zM670.2 175.8h1.25v1.25h-1.25zM666.2 198.5h1.25v1.25h-1.25zM718.1 182.5h1.25v1.25h-1.25zM686.2 169.2h1.25v1.25h-1.25zM695.5 187.8h1.25v1.25h-1.25zM688.8 207.8h1.25v1.25h-1.25zM667.6 183.8h1.25v1.25h-1.25zM698.2 163.9h1.25v1.25h-1.25zM708.8 203.8h1.25v1.25h-1.25zM679.5 173.2h1.25v1.25h-1.25zM694.2 182.5h1.25v1.25h-1.25zM683.5 195.8h1.25v1.25h-1.25zM666.2 178.5h1.25v1.25h-1.25zM682.2 214.4h1.25v1.25h-1.25zM715.4 195.8h1.25v1.25h-1.25zM680.9 187.8h1.25v1.25h-1.25zM668.9 193.1h1.25v1.25h-1.25zM716.8 197.1h1.25v1.25h-1.25zM664.9 174.5h1.25v1.25h-1.25zM672.9 209.1h1.25v1.25h-1.25zM679.5 178.5h1.25v1.25h-1.25zM707.5 179.8h1.25v1.25h-1.25zM660.9 187.8h1.25v1.25h-1.25zM687.5 169.2h1.25v1.25h-1.25zM679.5 205.1h1.25v1.25h-1.25zM682.2 195.8h1.25v1.25h-1.25zM667.6 191.8h1.25v1.25h-1.25zM694.2 217.1h1.25v1.25h-1.25zM690.2 179.8h1.25v1.25h-1.25zM679.5 217.1h1.25v1.25h-1.25zM682.2 195.8h1.25v1.25h-1.25zM688.8 186.5h1.25v1.25h-1.25zM692.8 195.8h1.25v1.25h-1.25zM695.5 174.5h1.25v1.25h-1.25zM688.8 177.2h1.25v1.25h-1.25zM694.2 195.8h1.25v1.25h-1.25zM699.5 163.9h1.25v1.25h-1.25zM680.9 194.5h1.25v1.25h-1.25zM712.8 183.8h1.25v1.25h-1.25zM702.1 169.2h1.25v1.25h-1.25zM696.8 182.5h1.25v1.25h-1.25zM696.8 213.1h1.25v1.25h-1.25zM718.1 195.8h1.25v1.25h-1.25zM687.5 185.2h1.25v1.25h-1.25zM706.1 203.8h1.25v1.25h-1.25zM679.5 179.8h1.25v1.25h-1.25zM688.8 183.8h1.25v1.25h-1.25zM716.8 189.1h1.25v1.25h-1.25zM719.4 193.1h1.25v1.25h-1.25zM706.1 197.1h1.25v1.25h-1.25zM694.2 191.8h1.25v1.25h-1.25zM708.8 175.8h1.25v1.25h-1.25zM670.2 175.8h1.25v1.25h-1.25zM687.5 207.8h1.25v1.25h-1.25zM703.5 210.4h1.25v1.25h-1.25zM680.9 206.4h1.25v1.25h-1.25zM704.8 210.4h1.25v1.25h-1.25zM663.6 178.5h1.25v1.25h-1.25zM710.1 174.5h1.25v1.25h-1.25zM711.5 187.8h1.25v1.25h-1.25zM687.5 187.8h1.25v1.25h-1.25zM675.5 186.5h1.25v1.25h-1.25zM679.5 186.5h1.25v1.25h-1.25zM667.6 190.5h1.25v1.25h-1.25zM662.2 190.5h1.25v1.25h-1.25zM688.8 175.8h1.25v1.25h-1.25zM664.9 199.8h1.25v1.25h-1.25zM692.8 217.1h1.25v1.25h-1.25zM715.4 203.8h1.25v1.25h-1.25zM674.2 210.4h1.25v1.25h-1.25zM687.5 171.9h1.25v1.25h-1.25zM698.2 207.8h1.25v1.25h-1.25zM690.2 207.8h1.25v1.25h-1.25zM684.9 175.8h1.25v1.25h-1.25zM706.1 170.5h1.25v1.25h-1.25zM687.5 175.8h1.25v1.25h-1.25zM672.9 181.2h1.25v1.25h-1.25zM664.9 195.8h1.25v1.25h-1.25zM682.2 199.8h1.25v1.25h-1.25zM660.9 186.5h1.25v1.25h-1.25zM667.6 193.1h1.25v1.25h-1.25zM696.8 217.1h1.25v1.25h-1.25zM662.2 190.5h1.25v1.25h-1.25zM678.2 167.9h1.25v1.25h-1.25zM668.9 189.1h1.25v1.25h-1.25zM694.2 205.1h1.25v1.25h-1.25zM698.2 210.4h1.25v1.25h-1.25zM688.8 203.8h1.25v1.25h-1.25zM684.9 185.2h1.25v1.25h-1.25zM688.8 173.2h1.25v1.25h-1.25zM690.2 202.4h1.25v1.25h-1.25zM674.2 179.8h1.25v1.25h-1.25zM678.2 185.2h1.25v1.25h-1.25zM710.1 171.9h1.25v1.25h-1.25zM708.8 213.1h1.25v1.25h-1.25zM695.5 174.5h1.25v1.25h-1.25zM694.2 217.1h1.25v1.25h-1.25zM694.2 209.1h1.25v1.25h-1.25zM680.9 199.8h1.25v1.25h-1.25zM698.2 189.1h1.25v1.25h-1.25zM716.8 197.1h1.25v1.25h-1.25zM676.9 197.1h1.25v1.25h-1.25zM680.9 199.8h1.25v1.25h-1.25zM712.8 195.8h1.25v1.25h-1.25zM694.2 190.5h1.25v1.25h-1.25zM700.8 205.1h1.25v1.25h-1.25zM695.5 207.8h1.25v1.25h-1.25zM676.9 193.1h1.25v1.25h-1.25zM700.8 211.8h1.25v1.25h-1.25zM694.2 175.8h1.25v1.25h-1.25zM715.4 205.1h1.25v1.25h-1.25zM688.8 181.2h1.25v1.25h-1.25zM684.9 170.5h1.25v1.25h-1.25zM683.5 194.5h1.25v1.25h-1.25zM679.5 203.8h1.25v1.25h-1.25zM716.8 202.4h1.25v1.25h-1.25zM667.6 206.4h1.25v1.25h-1.25zM664.9 183.8h1.25v1.25h-1.25zM666.2 187.8h1.25v1.25h-1.25zM682.2 195.8h1.25v1.25h-1.25zM684.9 211.8h1.25v1.25h-1.25z" fill="#c8503c"/><ellipse cx="690.80" cy="191.10" rx="31.80" ry="30.80" fill="none" stroke="#000" stroke-width="1.5" stroke-dasharray="30 1.3 22 1.0 22 1.3 16 1.0 16 0.6 40 1.3 16 1.3 22 1.3 16 0.6 30 1.3 22 1.0 16 1.0"/><rect x="686.20" y="222.40" width="7" height="1.8" fill="#e06050"/><path d="M687.50 228.60 a2.2 1.7 0 0 1 4.4 0z" fill="#111"/><circle cx="331.30" cy="285.00" r="37.0" fill="#fff" stroke="#cdcdcd" stroke-width="1.3"/><ellipse cx="332.40" cy="285.90" rx="33.30" ry="32.30" fill="none" stroke="#e46a68" stroke-opacity="0.85" stroke-width="2.2" stroke-dasharray="5.32 1.33 3.99 2.66 2.66 1.33 2.66 1.33 3.99 2.66 1.33 3.99 1.33 1.33 1.33 1.33 2.66 2.66 1.33 1.33 1.33 6.65 1.33 6.65 1.33 2.66 1.33 1.33 3.99 2.66 3.99 1.33 3.99 1.33 5.32 2.66 1.33 1.33 3.99 1.33 3.99 1.33 2.66 1.33 13.30 1.33 6.65 1.33 3.99 2.66 1.33 2.66 1.33 17.29 1.33 1.33 1.33 1.33 2.66 1.33 3.99 1.33 3.99 2.66 1.33 1.33 2.66 1.33 1.33 1.33 10.64 0.00"/><ellipse cx="332.40" cy="285.90" rx="34.00" ry="32.80" fill="none" stroke="#e05a58" stroke-opacity="0.85" stroke-width="2.0" stroke-dasharray="2.66 2.66 2.66 89.11 3.99 1.33 2.66 3.99 2.66 87.78 7.98 1.33"/><ellipse cx="332.40" cy="285.90" rx="32.00" ry="31.00" fill="#28e535"/><path d="M311.8 272.0h1.25v1.25h-1.25zM334.4 291.9h1.25v1.25h-1.25zM334.4 291.9h1.25v1.25h-1.25zM345.1 295.9h1.25v1.25h-1.25zM335.8 291.9h1.25v1.25h-1.25zM321.1 287.9h1.25v1.25h-1.25zM322.5 286.6h1.25v1.25h-1.25zM343.7 294.6h1.25v1.25h-1.25zM311.8 273.3h1.25v1.25h-1.25zM326.5 258.7h1.25v1.25h-1.25zM335.8 291.9h1.25v1.25h-1.25zM302.5 287.9h1.25v1.25h-1.25zM334.4 290.6h1.25v1.25h-1.25zM330.4 311.9h1.25v1.25h-1.25zM323.8 286.6h1.25v1.25h-1.25zM341.1 280.0h1.25v1.25h-1.25zM343.7 285.3h1.25v1.25h-1.25zM326.5 270.6h1.25v1.25h-1.25zM355.7 287.9h1.25v1.25h-1.25zM335.8 293.3h1.25v1.25h-1.25zM358.4 281.3h1.25v1.25h-1.25zM353.1 265.3h1.25v1.25h-1.25zM334.4 273.3h1.25v1.25h-1.25zM310.5 298.6h1.25v1.25h-1.25zM313.2 297.2h1.25v1.25h-1.25zM333.1 272.0h1.25v1.25h-1.25zM349.1 261.3h1.25v1.25h-1.25zM350.4 262.7h1.25v1.25h-1.25zM315.8 294.6h1.25v1.25h-1.25zM327.8 293.3h1.25v1.25h-1.25zM333.1 301.2h1.25v1.25h-1.25zM326.5 301.2h1.25v1.25h-1.25zM333.1 301.2h1.25v1.25h-1.25zM349.1 280.0h1.25v1.25h-1.25zM354.4 283.9h1.25v1.25h-1.25zM333.1 302.6h1.25v1.25h-1.25zM337.1 314.5h1.25v1.25h-1.25zM359.7 281.3h1.25v1.25h-1.25zM347.7 281.3h1.25v1.25h-1.25zM350.4 270.6h1.25v1.25h-1.25zM303.8 274.6h1.25v1.25h-1.25zM333.1 274.6h1.25v1.25h-1.25zM353.1 299.9h1.25v1.25h-1.25zM329.1 294.6h1.25v1.25h-1.25zM335.8 291.9h1.25v1.25h-1.25zM337.1 301.2h1.25v1.25h-1.25zM327.8 294.6h1.25v1.25h-1.25zM333.1 302.6h1.25v1.25h-1.25zM333.1 278.6h1.25v1.25h-1.25zM335.8 299.9h1.25v1.25h-1.25zM323.8 286.6h1.25v1.25h-1.25zM323.8 285.3h1.25v1.25h-1.25zM327.8 278.6h1.25v1.25h-1.25zM315.8 262.7h1.25v1.25h-1.25zM313.2 287.9h1.25v1.25h-1.25zM337.1 293.3h1.25v1.25h-1.25zM343.7 297.2h1.25v1.25h-1.25zM317.1 274.6h1.25v1.25h-1.25zM335.8 310.5h1.25v1.25h-1.25zM306.5 289.3h1.25v1.25h-1.25zM334.4 278.6h1.25v1.25h-1.25zM333.1 294.6h1.25v1.25h-1.25zM325.1 301.2h1.25v1.25h-1.25zM314.5 268.0h1.25v1.25h-1.25zM350.4 269.3h1.25v1.25h-1.25zM319.8 293.3h1.25v1.25h-1.25zM337.1 270.6h1.25v1.25h-1.25zM355.7 281.3h1.25v1.25h-1.25zM310.5 287.9h1.25v1.25h-1.25zM345.1 298.6h1.25v1.25h-1.25zM354.4 272.0h1.25v1.25h-1.25zM331.8 314.5h1.25v1.25h-1.25zM311.8 295.9h1.25v1.25h-1.25zM319.8 269.3h1.25v1.25h-1.25zM350.4 270.6h1.25v1.25h-1.25zM307.8 276.0h1.25v1.25h-1.25zM305.2 276.0h1.25v1.25h-1.25zM325.1 311.9h1.25v1.25h-1.25zM355.7 282.6h1.25v1.25h-1.25zM303.8 274.6h1.25v1.25h-1.25zM341.1 290.6h1.25v1.25h-1.25zM333.1 293.3h1.25v1.25h-1.25zM309.2 289.3h1.25v1.25h-1.25zM339.8 286.6h1.25v1.25h-1.25zM313.2 285.3h1.25v1.25h-1.25zM341.1 286.6h1.25v1.25h-1.25zM314.5 289.3h1.25v1.25h-1.25zM339.8 280.0h1.25v1.25h-1.25zM338.4 299.9h1.25v1.25h-1.25zM335.8 298.6h1.25v1.25h-1.25zM341.1 258.7h1.25v1.25h-1.25zM354.4 270.6h1.25v1.25h-1.25zM315.8 272.0h1.25v1.25h-1.25zM321.1 273.3h1.25v1.25h-1.25zM327.8 302.6h1.25v1.25h-1.25zM359.7 293.3h1.25v1.25h-1.25zM310.5 272.0h1.25v1.25h-1.25zM326.5 283.9h1.25v1.25h-1.25zM361.0 281.3h1.25v1.25h-1.25zM315.8 305.2h1.25v1.25h-1.25zM339.8 306.6h1.25v1.25h-1.25zM329.1 258.7h1.25v1.25h-1.25zM323.8 286.6h1.25v1.25h-1.25zM329.1 293.3h1.25v1.25h-1.25zM342.4 270.6h1.25v1.25h-1.25zM342.4 297.2h1.25v1.25h-1.25zM354.4 282.6h1.25v1.25h-1.25zM330.4 272.0h1.25v1.25h-1.25zM337.1 268.0h1.25v1.25h-1.25zM330.4 311.9h1.25v1.25h-1.25zM333.1 281.3h1.25v1.25h-1.25zM315.8 261.3h1.25v1.25h-1.25zM325.1 286.6h1.25v1.25h-1.25zM315.8 266.7h1.25v1.25h-1.25zM343.7 286.6h1.25v1.25h-1.25zM341.1 281.3h1.25v1.25h-1.25zM334.4 285.3h1.25v1.25h-1.25zM331.8 291.9h1.25v1.25h-1.25zM307.8 277.3h1.25v1.25h-1.25zM327.8 273.3h1.25v1.25h-1.25zM353.1 282.6h1.25v1.25h-1.25zM310.5 297.2h1.25v1.25h-1.25zM355.7 272.0h1.25v1.25h-1.25zM331.8 313.2h1.25v1.25h-1.25zM314.5 274.6h1.25v1.25h-1.25zM307.8 286.6h1.25v1.25h-1.25zM326.5 283.9h1.25v1.25h-1.25zM343.7 258.7h1.25v1.25h-1.25zM325.1 285.3h1.25v1.25h-1.25zM338.4 298.6h1.25v1.25h-1.25zM329.1 258.7h1.25v1.25h-1.25zM358.4 285.3h1.25v1.25h-1.25zM326.5 302.6h1.25v1.25h-1.25zM315.8 289.3h1.25v1.25h-1.25zM305.2 295.9h1.25v1.25h-1.25z" fill="#c8503c"/><ellipse cx="332.40" cy="285.90" rx="31.80" ry="30.80" fill="none" stroke="#000" stroke-width="1.5" stroke-dasharray="22 0.6 40 1.0 30 1.3 40 1.3 16 1.0 40 0.6 22 1.3 40 1.0 16 1.0 30 1.3 40 0.6 40 1.3"/><rect x="327.80" y="317.20" width="7" height="1.8" fill="#e06050"/><path d="M329.10 323.40 a2.2 1.7 0 0 1 4.4 0z" fill="#111"/><circle cx="420.90" cy="285.00" r="37.0" fill="#fff" stroke="#cdcdcd" stroke-width="1.3"/><ellipse cx="422.00" cy="285.90" rx="33.30" ry="32.30" fill="none" stroke="#e46a68" stroke-opacity="0.85" stroke-width="2.2" stroke-dasharray="1.33 1.33 5.32 1.33 2.66 1.33 1.33 1.33 3.99 1.33 1.33 1.33 3.99 3.99 2.66 1.33 3.99 1.33 1.33 2.66 1.33 1.33 3.99 3.99 1.33 1.33 1.33 2.66 2.66 2.66 3.99 1.33 1.33 1.33 1.33 1.33 2.66 3.99 1.33 2.66 1.33 2.66 2.66 1.33 1.33 1.33 5.32 1.33 1.33 2.66 5.32 3.99 1.33 1.33 2.66 3.99 6.65 1.33 2.66 1.33 3.99 1.33 1.33 1.33 1.33 3.99 1.33 6.65 1.33 1.33 1.33 1.33 3.99 2.66 3.99 1.33 3.99 1.33 2.66 2.66 3.99 1.33 9.31 0.00"/><ellipse cx="422.00" cy="285.90" rx="34.00" ry="32.80" fill="none" stroke="#e05a58" stroke-opacity="0.85" stroke-width="2.0" stroke-dasharray="0.00 1.33 6.65 1.33 1.33 85.12 1.33 1.33 1.33 1.33 1.33 2.66 2.66 3.99 2.66 85.12 1.33 2.66 2.66 1.33 1.33 0.00"/><ellipse cx="422.00" cy="285.90" rx="32.00" ry="31.00" fill="#28e535"/><path d="M396.1 276.0h1.25v1.25h-1.25zM429.4 266.7h1.25v1.25h-1.25zM416.1 286.6h1.25v1.25h-1.25zM429.4 297.2h1.25v1.25h-1.25zM442.7 293.3h1.25v1.25h-1.25zM422.7 260.0h1.25v1.25h-1.25zM422.7 261.3h1.25v1.25h-1.25zM429.4 264.0h1.25v1.25h-1.25zM444.0 287.9h1.25v1.25h-1.25zM429.4 261.3h1.25v1.25h-1.25zM416.1 261.3h1.25v1.25h-1.25zM442.7 276.0h1.25v1.25h-1.25zM406.7 286.6h1.25v1.25h-1.25zM428.0 262.7h1.25v1.25h-1.25zM426.7 311.9h1.25v1.25h-1.25zM424.0 273.3h1.25v1.25h-1.25zM430.7 280.0h1.25v1.25h-1.25zM412.1 286.6h1.25v1.25h-1.25zM414.7 270.6h1.25v1.25h-1.25zM441.3 280.0h1.25v1.25h-1.25zM413.4 285.3h1.25v1.25h-1.25zM438.7 274.6h1.25v1.25h-1.25zM445.3 294.6h1.25v1.25h-1.25zM436.0 298.6h1.25v1.25h-1.25zM397.4 276.0h1.25v1.25h-1.25zM430.7 262.7h1.25v1.25h-1.25zM441.3 269.3h1.25v1.25h-1.25zM414.7 286.6h1.25v1.25h-1.25zM441.3 294.6h1.25v1.25h-1.25zM417.4 261.3h1.25v1.25h-1.25zM406.7 261.3h1.25v1.25h-1.25zM436.0 295.9h1.25v1.25h-1.25zM429.4 289.3h1.25v1.25h-1.25zM430.7 264.0h1.25v1.25h-1.25zM406.7 287.9h1.25v1.25h-1.25zM404.1 303.9h1.25v1.25h-1.25zM437.3 283.9h1.25v1.25h-1.25zM436.0 268.0h1.25v1.25h-1.25zM410.7 309.2h1.25v1.25h-1.25zM425.4 313.2h1.25v1.25h-1.25zM424.0 272.0h1.25v1.25h-1.25zM418.7 301.2h1.25v1.25h-1.25zM422.7 311.9h1.25v1.25h-1.25zM420.0 269.3h1.25v1.25h-1.25zM398.8 289.3h1.25v1.25h-1.25zM440.0 293.3h1.25v1.25h-1.25zM405.4 260.0h1.25v1.25h-1.25zM429.4 280.0h1.25v1.25h-1.25zM414.7 282.6h1.25v1.25h-1.25zM424.0 268.0h1.25v1.25h-1.25zM436.0 285.3h1.25v1.25h-1.25zM417.4 286.6h1.25v1.25h-1.25zM444.0 295.9h1.25v1.25h-1.25zM417.4 311.9h1.25v1.25h-1.25zM438.7 286.6h1.25v1.25h-1.25zM424.0 260.0h1.25v1.25h-1.25zM430.7 264.0h1.25v1.25h-1.25zM432.0 265.3h1.25v1.25h-1.25zM428.0 290.6h1.25v1.25h-1.25zM404.1 269.3h1.25v1.25h-1.25zM438.7 285.3h1.25v1.25h-1.25zM420.0 289.3h1.25v1.25h-1.25zM422.7 289.3h1.25v1.25h-1.25zM408.1 289.3h1.25v1.25h-1.25zM413.4 282.6h1.25v1.25h-1.25zM408.1 280.0h1.25v1.25h-1.25zM441.3 277.3h1.25v1.25h-1.25zM420.0 310.5h1.25v1.25h-1.25zM429.4 257.3h1.25v1.25h-1.25zM412.1 307.9h1.25v1.25h-1.25zM442.7 277.3h1.25v1.25h-1.25zM405.4 281.3h1.25v1.25h-1.25zM409.4 266.7h1.25v1.25h-1.25zM410.7 282.6h1.25v1.25h-1.25zM438.7 264.0h1.25v1.25h-1.25zM430.7 302.6h1.25v1.25h-1.25zM414.7 302.6h1.25v1.25h-1.25zM416.1 283.9h1.25v1.25h-1.25zM428.0 264.0h1.25v1.25h-1.25zM432.0 262.7h1.25v1.25h-1.25zM430.7 283.9h1.25v1.25h-1.25zM424.0 313.2h1.25v1.25h-1.25zM436.0 269.3h1.25v1.25h-1.25zM442.7 295.9h1.25v1.25h-1.25zM444.0 289.3h1.25v1.25h-1.25zM442.7 265.3h1.25v1.25h-1.25zM410.7 298.6h1.25v1.25h-1.25zM442.7 274.6h1.25v1.25h-1.25zM429.4 277.3h1.25v1.25h-1.25zM436.0 286.6h1.25v1.25h-1.25zM430.7 261.3h1.25v1.25h-1.25zM408.1 266.7h1.25v1.25h-1.25zM409.4 282.6h1.25v1.25h-1.25zM422.7 280.0h1.25v1.25h-1.25zM429.4 285.3h1.25v1.25h-1.25zM413.4 261.3h1.25v1.25h-1.25zM408.1 310.5h1.25v1.25h-1.25zM428.0 276.0h1.25v1.25h-1.25zM437.3 283.9h1.25v1.25h-1.25zM408.1 282.6h1.25v1.25h-1.25zM422.7 301.2h1.25v1.25h-1.25zM437.3 264.0h1.25v1.25h-1.25zM414.7 282.6h1.25v1.25h-1.25zM436.0 282.6h1.25v1.25h-1.25zM394.8 273.3h1.25v1.25h-1.25zM434.7 273.3h1.25v1.25h-1.25zM392.1 282.6h1.25v1.25h-1.25zM418.7 287.9h1.25v1.25h-1.25zM440.0 269.3h1.25v1.25h-1.25zM400.1 298.6h1.25v1.25h-1.25zM422.7 314.5h1.25v1.25h-1.25zM408.1 281.3h1.25v1.25h-1.25zM412.1 285.3h1.25v1.25h-1.25zM421.4 269.3h1.25v1.25h-1.25zM406.7 269.3h1.25v1.25h-1.25zM421.4 270.6h1.25v1.25h-1.25zM441.3 270.6h1.25v1.25h-1.25zM404.1 286.6h1.25v1.25h-1.25zM429.4 278.6h1.25v1.25h-1.25zM430.7 311.9h1.25v1.25h-1.25zM426.7 265.3h1.25v1.25h-1.25zM421.4 258.7h1.25v1.25h-1.25zM434.7 291.9h1.25v1.25h-1.25zM420.0 270.6h1.25v1.25h-1.25zM397.4 293.3h1.25v1.25h-1.25zM401.4 274.6h1.25v1.25h-1.25zM428.0 295.9h1.25v1.25h-1.25zM426.7 261.3h1.25v1.25h-1.25zM432.0 310.5h1.25v1.25h-1.25zM425.4 289.3h1.25v1.25h-1.25zM408.1 281.3h1.25v1.25h-1.25zM392.1 281.3h1.25v1.25h-1.25zM405.4 261.3h1.25v1.25h-1.25zM408.1 290.6h1.25v1.25h-1.25zM445.3 286.6h1.25v1.25h-1.25z" fill="#c8503c"/><ellipse cx="422.00" cy="285.90" rx="31.80" ry="30.80" fill="none" stroke="#000" stroke-width="1.5" stroke-dasharray="16 0.6 16 1.3 30 1.0 30 1.0 16 1.3 40 0.6 16 0.6 40 1.0 30 1.3 22 1.3 30 1.0 40 1.3"/><rect x="417.40" y="317.20" width="7" height="1.8" fill="#e06050"/><path d="M418.70 323.40 a2.2 1.7 0 0 1 4.4 0z" fill="#111"/><circle cx="510.50" cy="285.00" r="37.0" fill="#fff" stroke="#cdcdcd" stroke-width="1.3"/><ellipse cx="511.60" cy="285.90" rx="33.30" ry="32.30" fill="none" stroke="#e46a68" stroke-opacity="0.85" stroke-width="2.2" stroke-dasharray="14.63 1.33 5.32 1.33 3.99 1.33 5.32 1.33 1.33 2.66 1.33 5.32 2.66 1.33 1.33 2.66 1.33 1.33 2.66 2.66 1.33 7.98 5.32 3.99 7.98 2.66 1.33 1.33 1.33 1.33 2.66 1.33 1.33 1.33 9.31 1.33 11.97 1.33 1.33 1.33 2.66 1.33 3.99 2.66 1.33 3.99 1.33 1.33 1.33 6.65 1.33 2.66 2.66 1.33 3.99 5.32 6.65 2.66 2.66 2.66 1.33 2.66 3.99 3.99 1.33 1.33 2.66 0.00"/><ellipse cx="511.60" cy="285.90" rx="34.00" ry="32.80" fill="none" stroke="#e05a58" stroke-opacity="0.85" stroke-width="2.0" stroke-dasharray="1.33 2.66 2.66 1.33 1.33 86.45 3.99 2.66 1.33 9.31 1.33 87.78 1.33 1.33 2.66 1.33"/><ellipse cx="511.60" cy="285.90" rx="32.00" ry="31.00" fill="#28e535"/><path d="M537.6 280.0h1.25v1.25h-1.25zM538.9 280.0h1.25v1.25h-1.25zM516.3 293.3h1.25v1.25h-1.25zM503.0 302.6h1.25v1.25h-1.25zM519.0 269.3h1.25v1.25h-1.25zM505.7 289.3h1.25v1.25h-1.25zM537.6 281.3h1.25v1.25h-1.25zM504.3 302.6h1.25v1.25h-1.25zM515.0 294.6h1.25v1.25h-1.25zM538.9 281.3h1.25v1.25h-1.25zM492.4 276.0h1.25v1.25h-1.25zM501.7 272.0h1.25v1.25h-1.25zM538.9 280.0h1.25v1.25h-1.25zM501.7 260.0h1.25v1.25h-1.25zM537.6 278.6h1.25v1.25h-1.25zM528.3 265.3h1.25v1.25h-1.25zM525.6 310.5h1.25v1.25h-1.25zM489.7 287.9h1.25v1.25h-1.25zM537.6 280.0h1.25v1.25h-1.25zM513.6 293.3h1.25v1.25h-1.25zM496.3 302.6h1.25v1.25h-1.25zM491.0 274.6h1.25v1.25h-1.25zM536.2 280.0h1.25v1.25h-1.25zM501.7 270.6h1.25v1.25h-1.25zM487.0 277.3h1.25v1.25h-1.25zM500.3 301.2h1.25v1.25h-1.25zM536.2 269.3h1.25v1.25h-1.25zM491.0 293.3h1.25v1.25h-1.25zM513.6 281.3h1.25v1.25h-1.25zM522.9 260.0h1.25v1.25h-1.25zM530.9 303.9h1.25v1.25h-1.25zM489.7 287.9h1.25v1.25h-1.25zM508.3 297.2h1.25v1.25h-1.25zM537.6 278.6h1.25v1.25h-1.25zM530.9 282.6h1.25v1.25h-1.25zM536.2 272.0h1.25v1.25h-1.25zM536.2 280.0h1.25v1.25h-1.25zM516.3 277.3h1.25v1.25h-1.25zM483.0 286.6h1.25v1.25h-1.25zM526.9 265.3h1.25v1.25h-1.25zM511.0 297.2h1.25v1.25h-1.25zM503.0 293.3h1.25v1.25h-1.25zM513.6 282.6h1.25v1.25h-1.25zM530.9 290.6h1.25v1.25h-1.25zM487.0 287.9h1.25v1.25h-1.25zM521.6 272.0h1.25v1.25h-1.25zM487.0 301.2h1.25v1.25h-1.25zM524.3 305.2h1.25v1.25h-1.25zM499.0 287.9h1.25v1.25h-1.25zM537.6 282.6h1.25v1.25h-1.25zM485.7 277.3h1.25v1.25h-1.25zM521.6 277.3h1.25v1.25h-1.25zM487.0 278.6h1.25v1.25h-1.25zM493.7 264.0h1.25v1.25h-1.25zM521.6 268.0h1.25v1.25h-1.25zM493.7 270.6h1.25v1.25h-1.25zM529.6 268.0h1.25v1.25h-1.25zM499.0 286.6h1.25v1.25h-1.25zM489.7 280.0h1.25v1.25h-1.25zM505.7 287.9h1.25v1.25h-1.25zM512.3 299.9h1.25v1.25h-1.25zM540.2 280.0h1.25v1.25h-1.25zM508.3 258.7h1.25v1.25h-1.25zM489.7 266.7h1.25v1.25h-1.25zM503.0 268.0h1.25v1.25h-1.25zM536.2 274.6h1.25v1.25h-1.25zM492.4 265.3h1.25v1.25h-1.25zM497.7 290.6h1.25v1.25h-1.25zM495.0 264.0h1.25v1.25h-1.25zM515.0 273.3h1.25v1.25h-1.25zM511.0 305.2h1.25v1.25h-1.25zM495.0 309.2h1.25v1.25h-1.25zM515.0 294.6h1.25v1.25h-1.25zM509.6 273.3h1.25v1.25h-1.25zM526.9 273.3h1.25v1.25h-1.25zM538.9 280.0h1.25v1.25h-1.25zM538.9 293.3h1.25v1.25h-1.25zM491.0 302.6h1.25v1.25h-1.25zM493.7 269.3h1.25v1.25h-1.25zM513.6 310.5h1.25v1.25h-1.25zM534.9 291.9h1.25v1.25h-1.25zM520.3 302.6h1.25v1.25h-1.25zM508.3 272.0h1.25v1.25h-1.25zM534.9 270.6h1.25v1.25h-1.25zM508.3 272.0h1.25v1.25h-1.25zM499.0 310.5h1.25v1.25h-1.25zM497.7 258.7h1.25v1.25h-1.25zM505.7 269.3h1.25v1.25h-1.25zM526.9 274.6h1.25v1.25h-1.25zM529.6 268.0h1.25v1.25h-1.25zM509.6 310.5h1.25v1.25h-1.25zM495.0 274.6h1.25v1.25h-1.25zM524.3 262.7h1.25v1.25h-1.25zM500.3 258.7h1.25v1.25h-1.25zM538.9 281.3h1.25v1.25h-1.25zM517.6 299.9h1.25v1.25h-1.25zM508.3 262.7h1.25v1.25h-1.25zM491.0 306.6h1.25v1.25h-1.25zM529.6 301.2h1.25v1.25h-1.25zM501.7 258.7h1.25v1.25h-1.25zM529.6 269.3h1.25v1.25h-1.25zM520.3 268.0h1.25v1.25h-1.25zM522.9 269.3h1.25v1.25h-1.25zM499.0 274.6h1.25v1.25h-1.25zM509.6 306.6h1.25v1.25h-1.25zM509.6 298.6h1.25v1.25h-1.25zM521.6 307.9h1.25v1.25h-1.25zM521.6 278.6h1.25v1.25h-1.25zM501.7 274.6h1.25v1.25h-1.25zM516.3 298.6h1.25v1.25h-1.25zM505.7 266.7h1.25v1.25h-1.25zM515.0 294.6h1.25v1.25h-1.25zM513.6 299.9h1.25v1.25h-1.25zM507.0 264.0h1.25v1.25h-1.25zM526.9 297.2h1.25v1.25h-1.25zM528.3 266.7h1.25v1.25h-1.25zM508.3 305.2h1.25v1.25h-1.25zM496.3 310.5h1.25v1.25h-1.25zM491.0 276.0h1.25v1.25h-1.25zM503.0 272.0h1.25v1.25h-1.25zM536.2 286.6h1.25v1.25h-1.25zM504.3 257.3h1.25v1.25h-1.25zM500.3 287.9h1.25v1.25h-1.25zM481.7 289.3h1.25v1.25h-1.25zM530.9 306.6h1.25v1.25h-1.25zM522.9 266.7h1.25v1.25h-1.25zM504.3 257.3h1.25v1.25h-1.25zM484.4 280.0h1.25v1.25h-1.25zM526.9 264.0h1.25v1.25h-1.25zM484.4 293.3h1.25v1.25h-1.25zM503.0 293.3h1.25v1.25h-1.25zM538.9 281.3h1.25v1.25h-1.25zM501.7 264.0h1.25v1.25h-1.25zM536.2 287.9h1.25v1.25h-1.25zM497.7 309.2h1.25v1.25h-1.25z" fill="#c8503c"/><ellipse cx="511.60" cy="285.90" rx="31.80" ry="30.80" fill="none" stroke="#000" stroke-width="1.5" stroke-dasharray="30 1.3 22 0.6 30 0.6 22 0.6 16 1.0 40 1.0 30 1.0 30 1.3 16 1.0 40 1.0 30 0.6 40 1.0"/><rect x="507.00" y="317.20" width="7" height="1.8" fill="#e06050"/><path d="M508.30 323.40 a2.2 1.7 0 0 1 4.4 0z" fill="#111"/><circle cx="600.10" cy="285.00" r="37.0" fill="#fff" stroke="#cdcdcd" stroke-width="1.3"/><ellipse cx="601.20" cy="285.90" rx="33.30" ry="32.30" fill="none" stroke="#e46a68" stroke-opacity="0.85" stroke-width="2.2" stroke-dasharray="6.65 1.33 2.66 1.33 5.32 1.33 2.66 1.33 1.33 1.33 2.66 1.33 3.99 2.66 2.66 2.66 1.33 1.33 1.33 1.33 6.65 6.65 1.33 2.66 2.66 3.99 1.33 2.66 1.33 1.33 7.98 3.99 3.99 1.33 2.66 1.33 9.31 1.33 2.66 1.33 5.32 2.66 3.99 6.65 1.33 1.33 1.33 2.66 3.99 1.33 2.66 2.66 1.33 1.33 1.33 2.66 3.99 2.66 2.66 3.99 3.99 1.33 2.66 2.66 2.66 1.33 1.33 2.66 5.32 1.33 3.99 1.33 1.33 1.33 2.66 0.00"/><ellipse cx="601.20" cy="285.90" rx="34.00" ry="32.80" fill="none" stroke="#e05a58" stroke-opacity="0.85" stroke-width="2.0" stroke-dasharray="0.00 5.32 1.33 1.33 1.33 86.45 7.98 5.32 1.33 89.11 1.33 2.66 5.32 0.00"/><ellipse cx="601.20" cy="285.90" rx="32.00" ry="31.00" fill="#28e535"/><path d="M624.5 295.9h1.25v1.25h-1.25zM623.2 295.9h1.25v1.25h-1.25zM584.6 297.2h1.25v1.25h-1.25zM617.9 289.3h1.25v1.25h-1.25zM588.6 265.3h1.25v1.25h-1.25zM625.8 294.6h1.25v1.25h-1.25zM583.3 261.3h1.25v1.25h-1.25zM597.9 297.2h1.25v1.25h-1.25zM609.9 269.3h1.25v1.25h-1.25zM600.6 305.2h1.25v1.25h-1.25zM572.6 290.6h1.25v1.25h-1.25zM615.2 286.6h1.25v1.25h-1.25zM605.9 287.9h1.25v1.25h-1.25zM582.0 277.3h1.25v1.25h-1.25zM588.6 260.0h1.25v1.25h-1.25zM616.5 272.0h1.25v1.25h-1.25zM575.3 269.3h1.25v1.25h-1.25zM607.2 313.2h1.25v1.25h-1.25zM601.9 303.9h1.25v1.25h-1.25zM613.9 274.6h1.25v1.25h-1.25zM613.9 276.0h1.25v1.25h-1.25zM603.2 298.6h1.25v1.25h-1.25zM601.9 256.0h1.25v1.25h-1.25zM609.9 285.3h1.25v1.25h-1.25zM604.6 260.0h1.25v1.25h-1.25zM596.6 265.3h1.25v1.25h-1.25zM616.5 282.6h1.25v1.25h-1.25zM613.9 274.6h1.25v1.25h-1.25zM619.2 268.0h1.25v1.25h-1.25zM611.2 281.3h1.25v1.25h-1.25zM621.9 294.6h1.25v1.25h-1.25zM609.9 260.0h1.25v1.25h-1.25zM621.9 269.3h1.25v1.25h-1.25zM576.6 293.3h1.25v1.25h-1.25zM624.5 272.0h1.25v1.25h-1.25zM601.9 297.2h1.25v1.25h-1.25zM607.2 294.6h1.25v1.25h-1.25zM609.9 258.7h1.25v1.25h-1.25zM600.6 297.2h1.25v1.25h-1.25zM601.9 289.3h1.25v1.25h-1.25zM608.6 293.3h1.25v1.25h-1.25zM584.6 270.6h1.25v1.25h-1.25zM593.9 261.3h1.25v1.25h-1.25zM613.9 262.7h1.25v1.25h-1.25zM587.3 306.6h1.25v1.25h-1.25zM585.9 293.3h1.25v1.25h-1.25zM621.9 268.0h1.25v1.25h-1.25zM582.0 276.0h1.25v1.25h-1.25zM613.9 261.3h1.25v1.25h-1.25zM612.5 281.3h1.25v1.25h-1.25zM620.5 293.3h1.25v1.25h-1.25zM592.6 289.3h1.25v1.25h-1.25zM616.5 286.6h1.25v1.25h-1.25zM599.2 291.9h1.25v1.25h-1.25zM604.6 303.9h1.25v1.25h-1.25zM592.6 276.0h1.25v1.25h-1.25zM587.3 307.9h1.25v1.25h-1.25zM611.2 260.0h1.25v1.25h-1.25zM583.3 277.3h1.25v1.25h-1.25zM578.0 301.2h1.25v1.25h-1.25zM585.9 307.9h1.25v1.25h-1.25zM589.9 307.9h1.25v1.25h-1.25zM623.2 268.0h1.25v1.25h-1.25zM592.6 260.0h1.25v1.25h-1.25zM584.6 295.9h1.25v1.25h-1.25zM578.0 281.3h1.25v1.25h-1.25zM627.2 278.6h1.25v1.25h-1.25zM620.5 278.6h1.25v1.25h-1.25zM603.2 272.0h1.25v1.25h-1.25zM591.3 285.3h1.25v1.25h-1.25zM619.2 269.3h1.25v1.25h-1.25zM627.2 297.2h1.25v1.25h-1.25zM611.2 297.2h1.25v1.25h-1.25zM603.2 276.0h1.25v1.25h-1.25zM582.0 262.7h1.25v1.25h-1.25zM583.3 261.3h1.25v1.25h-1.25zM612.5 273.3h1.25v1.25h-1.25zM592.6 291.9h1.25v1.25h-1.25zM612.5 276.0h1.25v1.25h-1.25zM576.6 294.6h1.25v1.25h-1.25zM615.2 278.6h1.25v1.25h-1.25zM578.0 268.0h1.25v1.25h-1.25zM613.9 283.9h1.25v1.25h-1.25zM612.5 310.5h1.25v1.25h-1.25zM592.6 295.9h1.25v1.25h-1.25zM608.6 265.3h1.25v1.25h-1.25zM607.2 265.3h1.25v1.25h-1.25zM585.9 306.6h1.25v1.25h-1.25zM582.0 307.9h1.25v1.25h-1.25zM603.2 298.6h1.25v1.25h-1.25zM611.2 257.3h1.25v1.25h-1.25zM605.9 285.3h1.25v1.25h-1.25zM612.5 274.6h1.25v1.25h-1.25zM588.6 306.6h1.25v1.25h-1.25zM579.3 286.6h1.25v1.25h-1.25zM584.6 291.9h1.25v1.25h-1.25zM613.9 273.3h1.25v1.25h-1.25zM583.3 278.6h1.25v1.25h-1.25zM612.5 278.6h1.25v1.25h-1.25zM601.9 297.2h1.25v1.25h-1.25zM574.0 295.9h1.25v1.25h-1.25zM605.9 286.6h1.25v1.25h-1.25zM597.9 281.3h1.25v1.25h-1.25zM578.0 290.6h1.25v1.25h-1.25zM615.2 280.0h1.25v1.25h-1.25zM578.0 277.3h1.25v1.25h-1.25zM628.5 283.9h1.25v1.25h-1.25zM617.9 293.3h1.25v1.25h-1.25zM601.9 311.9h1.25v1.25h-1.25zM605.9 262.7h1.25v1.25h-1.25zM592.6 262.7h1.25v1.25h-1.25zM615.2 281.3h1.25v1.25h-1.25zM578.0 281.3h1.25v1.25h-1.25zM604.6 303.9h1.25v1.25h-1.25zM589.9 265.3h1.25v1.25h-1.25zM604.6 314.5h1.25v1.25h-1.25zM607.2 306.6h1.25v1.25h-1.25zM584.6 278.6h1.25v1.25h-1.25zM601.9 305.2h1.25v1.25h-1.25zM627.2 285.3h1.25v1.25h-1.25zM612.5 261.3h1.25v1.25h-1.25zM609.9 262.7h1.25v1.25h-1.25zM605.9 280.0h1.25v1.25h-1.25zM601.9 305.2h1.25v1.25h-1.25zM580.6 295.9h1.25v1.25h-1.25zM611.2 272.0h1.25v1.25h-1.25zM623.2 273.3h1.25v1.25h-1.25zM579.3 283.9h1.25v1.25h-1.25zM615.2 291.9h1.25v1.25h-1.25zM595.3 307.9h1.25v1.25h-1.25zM617.9 273.3h1.25v1.25h-1.25zM587.3 286.6h1.25v1.25h-1.25zM615.2 290.6h1.25v1.25h-1.25zM575.3 297.2h1.25v1.25h-1.25zM619.2 289.3h1.25v1.25h-1.25z" fill="#c8503c"/><ellipse cx="601.20" cy="285.90" rx="31.80" ry="30.80" fill="none" stroke="#000" stroke-width="1.5" stroke-dasharray="16 1.0 40 1.0 16 1.3 30 1.3 30 1.0 22 0.6 40 0.6 22 1.0 16 1.0 40 1.3 22 0.6 22 0.6"/><rect x="596.60" y="317.20" width="7" height="1.8" fill="#e06050"/><path d="M597.90 323.40 a2.2 1.7 0 0 1 4.4 0z" fill="#111"/><circle cx="689.70" cy="285.00" r="37.0" fill="#fff" stroke="#cdcdcd" stroke-width="1.3"/><ellipse cx="690.80" cy="285.90" rx="33.30" ry="32.30" fill="none" stroke="#e46a68" stroke-opacity="0.85" stroke-width="2.2" stroke-dasharray="1.33 2.66 2.66 1.33 1.33 1.33 1.33 2.66 1.33 2.66 1.33 1.33 7.98 1.33 6.65 2.66 2.66 2.66 1.33 1.33 2.66 1.33 2.66 2.66 1.33 1.33 5.32 2.66 7.98 1.33 7.98 1.33 3.99 1.33 7.98 1.33 3.99 2.66 6.65 1.33 5.32 1.33 2.66 2.66 2.66 2.66 3.99 3.99 1.33 1.33 3.99 5.32 2.66 7.98 1.33 1.33 6.65 1.33 5.32 1.33 1.33 1.33 3.99 1.33 3.99 1.33 10.64 0.00"/><ellipse cx="690.80" cy="285.90" rx="34.00" ry="32.80" fill="none" stroke="#e05a58" stroke-opacity="0.85" stroke-width="2.0" stroke-dasharray="2.66 2.66 1.33 2.66 1.33 85.12 1.33 3.99 2.66 1.33 2.66 1.33 2.66 87.78 1.33 6.65 1.33 0.00"/><ellipse cx="690.80" cy="285.90" rx="32.00" ry="31.00" fill="#28e535"/><path d="M704.8 266.7h1.25v1.25h-1.25zM690.2 274.6h1.25v1.25h-1.25zM683.5 305.2h1.25v1.25h-1.25zM668.9 283.9h1.25v1.25h-1.25zM704.8 295.9h1.25v1.25h-1.25zM704.8 268.0h1.25v1.25h-1.25zM703.5 265.3h1.25v1.25h-1.25zM706.1 287.9h1.25v1.25h-1.25zM692.8 307.9h1.25v1.25h-1.25zM671.6 295.9h1.25v1.25h-1.25zM703.5 289.3h1.25v1.25h-1.25zM682.2 305.2h1.25v1.25h-1.25zM699.5 311.9h1.25v1.25h-1.25zM670.2 297.2h1.25v1.25h-1.25zM670.2 282.6h1.25v1.25h-1.25zM703.5 270.6h1.25v1.25h-1.25zM687.5 272.0h1.25v1.25h-1.25zM708.8 273.3h1.25v1.25h-1.25zM695.5 276.0h1.25v1.25h-1.25zM671.6 286.6h1.25v1.25h-1.25zM703.5 295.9h1.25v1.25h-1.25zM687.5 270.6h1.25v1.25h-1.25zM708.8 272.0h1.25v1.25h-1.25zM706.1 269.3h1.25v1.25h-1.25zM672.9 274.6h1.25v1.25h-1.25zM710.1 273.3h1.25v1.25h-1.25zM690.2 276.0h1.25v1.25h-1.25zM688.8 298.6h1.25v1.25h-1.25zM707.5 309.2h1.25v1.25h-1.25zM700.8 298.6h1.25v1.25h-1.25zM704.8 269.3h1.25v1.25h-1.25zM680.9 286.6h1.25v1.25h-1.25zM706.1 260.0h1.25v1.25h-1.25zM675.5 299.9h1.25v1.25h-1.25zM690.2 277.3h1.25v1.25h-1.25zM716.8 282.6h1.25v1.25h-1.25zM702.1 295.9h1.25v1.25h-1.25zM695.5 307.9h1.25v1.25h-1.25zM670.2 276.0h1.25v1.25h-1.25zM682.2 281.3h1.25v1.25h-1.25zM710.1 301.2h1.25v1.25h-1.25zM684.9 266.7h1.25v1.25h-1.25zM688.8 307.9h1.25v1.25h-1.25zM670.2 305.2h1.25v1.25h-1.25zM690.2 294.6h1.25v1.25h-1.25zM684.9 265.3h1.25v1.25h-1.25zM716.8 294.6h1.25v1.25h-1.25zM703.5 266.7h1.25v1.25h-1.25zM702.1 291.9h1.25v1.25h-1.25zM683.5 289.3h1.25v1.25h-1.25zM708.8 273.3h1.25v1.25h-1.25zM672.9 301.2h1.25v1.25h-1.25zM667.6 273.3h1.25v1.25h-1.25zM663.6 289.3h1.25v1.25h-1.25zM675.5 299.9h1.25v1.25h-1.25zM691.5 276.0h1.25v1.25h-1.25zM670.2 303.9h1.25v1.25h-1.25zM695.5 276.0h1.25v1.25h-1.25zM676.9 270.6h1.25v1.25h-1.25zM702.1 295.9h1.25v1.25h-1.25zM706.1 270.6h1.25v1.25h-1.25zM695.5 281.3h1.25v1.25h-1.25zM688.8 278.6h1.25v1.25h-1.25zM682.2 260.0h1.25v1.25h-1.25zM680.9 269.3h1.25v1.25h-1.25zM671.6 287.9h1.25v1.25h-1.25zM692.8 291.9h1.25v1.25h-1.25zM682.2 280.0h1.25v1.25h-1.25zM704.8 297.2h1.25v1.25h-1.25zM704.8 270.6h1.25v1.25h-1.25zM699.5 278.6h1.25v1.25h-1.25zM687.5 262.7h1.25v1.25h-1.25zM715.4 273.3h1.25v1.25h-1.25zM706.1 277.3h1.25v1.25h-1.25zM714.1 286.6h1.25v1.25h-1.25zM714.1 287.9h1.25v1.25h-1.25zM671.6 287.9h1.25v1.25h-1.25zM708.8 306.6h1.25v1.25h-1.25zM670.2 266.7h1.25v1.25h-1.25zM706.1 310.5h1.25v1.25h-1.25zM684.9 281.3h1.25v1.25h-1.25zM696.8 273.3h1.25v1.25h-1.25zM675.5 299.9h1.25v1.25h-1.25zM686.2 303.9h1.25v1.25h-1.25zM695.5 257.3h1.25v1.25h-1.25zM700.8 295.9h1.25v1.25h-1.25zM702.1 286.6h1.25v1.25h-1.25zM678.2 274.6h1.25v1.25h-1.25zM711.5 272.0h1.25v1.25h-1.25zM707.5 289.3h1.25v1.25h-1.25zM687.5 311.9h1.25v1.25h-1.25zM706.1 261.3h1.25v1.25h-1.25zM686.2 301.2h1.25v1.25h-1.25zM696.8 282.6h1.25v1.25h-1.25zM668.9 281.3h1.25v1.25h-1.25zM686.2 314.5h1.25v1.25h-1.25zM694.2 295.9h1.25v1.25h-1.25zM712.8 266.7h1.25v1.25h-1.25zM688.8 265.3h1.25v1.25h-1.25zM698.2 269.3h1.25v1.25h-1.25zM704.8 277.3h1.25v1.25h-1.25zM676.9 265.3h1.25v1.25h-1.25zM679.5 276.0h1.25v1.25h-1.25zM680.9 269.3h1.25v1.25h-1.25zM666.2 281.3h1.25v1.25h-1.25zM700.8 286.6h1.25v1.25h-1.25zM712.8 285.3h1.25v1.25h-1.25zM684.9 294.6h1.25v1.25h-1.25zM711.5 276.0h1.25v1.25h-1.25zM702.1 285.3h1.25v1.25h-1.25zM710.1 273.3h1.25v1.25h-1.25zM682.2 289.3h1.25v1.25h-1.25zM700.8 299.9h1.25v1.25h-1.25zM707.5 266.7h1.25v1.25h-1.25zM712.8 280.0h1.25v1.25h-1.25zM678.2 269.3h1.25v1.25h-1.25zM706.1 278.6h1.25v1.25h-1.25zM672.9 278.6h1.25v1.25h-1.25zM679.5 291.9h1.25v1.25h-1.25zM696.8 294.6h1.25v1.25h-1.25zM700.8 278.6h1.25v1.25h-1.25zM670.2 274.6h1.25v1.25h-1.25zM670.2 274.6h1.25v1.25h-1.25zM703.5 287.9h1.25v1.25h-1.25zM684.9 281.3h1.25v1.25h-1.25zM686.2 274.6h1.25v1.25h-1.25zM674.2 276.0h1.25v1.25h-1.25zM710.1 269.3h1.25v1.25h-1.25zM691.5 262.7h1.25v1.25h-1.25zM706.1 278.6h1.25v1.25h-1.25zM714.1 282.6h1.25v1.25h-1.25zM707.5 307.9h1.25v1.25h-1.25zM670.2 291.9h1.25v1.25h-1.25zM702.1 302.6h1.25v1.25h-1.25zM698.2 258.7h1.25v1.25h-1.25z" fill="#c8503c"/><ellipse cx="690.80" cy="285.90" rx="31.80" ry="30.80" fill="none" stroke="#000" stroke-width="1.5" stroke-dasharray="30 0.6 30 0.6 22 0.6 16 1.3 16 0.6 22 1.0 30 1.0 22 1.0 30 1.0 30 1.0 16 0.6 22 0.6"/><rect x="686.20" y="317.20" width="7" height="1.8" fill="#e06050"/><path d="M687.50 323.40 a2.2 1.7 0 0 1 4.4 0z" fill="#111"/><circle cx="331.30" cy="379.80" r="37.0" fill="#fff" stroke="#cdcdcd" stroke-width="1.3"/><ellipse cx="332.40" cy="380.70" rx="33.30" ry="32.30" fill="none" stroke="#e46a68" stroke-opacity="0.85" stroke-width="2.2" stroke-dasharray="2.66 1.33 2.66 1.33 7.98 1.33 3.99 1.33 1.33 1.33 5.32 1.33 2.66 1.33 2.66 1.33 1.33 1.33 1.33 7.98 1.33 1.33 1.33 2.66 5.32 1.33 2.66 1.33 3.99 1.33 5.32 1.33 2.66 1.33 1.33 1.33 1.33 2.66 2.66 1.33 7.98 1.33 2.66 1.33 7.98 1.33 7.98 3.99 2.66 1.33 1.33 3.99 1.33 2.66 1.33 1.33 7.98 7.98 1.33 1.33 1.33 1.33 1.33 2.66 1.33 1.33 3.99 2.66 1.33 1.33 2.66 2.66 3.99 1.33 3.99 2.66 3.99 0.00"/><ellipse cx="332.40" cy="380.70" rx="34.00" ry="32.80" fill="none" stroke="#e05a58" stroke-opacity="0.85" stroke-width="2.0" stroke-dasharray="0.00 1.33 1.33 1.33 1.33 1.33 3.99 85.12 1.33 1.33 1.33 1.33 5.32 3.99 1.33 1.33 1.33 85.12 2.66 5.32 1.33 0.00"/><ellipse cx="332.40" cy="380.70" rx="32.00" ry="31.00" fill="#28e535"/><path d="M349.1 397.4h1.25v1.25h-1.25zM314.5 404.0h1.25v1.25h-1.25zM330.4 406.7h1.25v1.25h-1.25zM321.1 364.1h1.25v1.25h-1.25zM350.4 398.7h1.25v1.25h-1.25zM330.4 392.0h1.25v1.25h-1.25zM327.8 396.0h1.25v1.25h-1.25zM318.5 353.5h1.25v1.25h-1.25zM331.8 361.5h1.25v1.25h-1.25zM350.4 398.7h1.25v1.25h-1.25zM326.5 362.8h1.25v1.25h-1.25zM307.8 382.7h1.25v1.25h-1.25zM309.2 384.1h1.25v1.25h-1.25zM310.5 393.4h1.25v1.25h-1.25zM326.5 394.7h1.25v1.25h-1.25zM319.8 354.8h1.25v1.25h-1.25zM309.2 372.1h1.25v1.25h-1.25zM326.5 362.8h1.25v1.25h-1.25zM303.8 369.4h1.25v1.25h-1.25zM351.7 400.0h1.25v1.25h-1.25zM333.1 372.1h1.25v1.25h-1.25zM351.7 398.7h1.25v1.25h-1.25zM329.1 353.5h1.25v1.25h-1.25zM314.5 390.7h1.25v1.25h-1.25zM347.7 397.4h1.25v1.25h-1.25zM307.8 370.8h1.25v1.25h-1.25zM342.4 361.5h1.25v1.25h-1.25zM305.2 369.4h1.25v1.25h-1.25zM322.5 406.7h1.25v1.25h-1.25zM349.1 398.7h1.25v1.25h-1.25zM343.7 361.5h1.25v1.25h-1.25zM313.2 368.1h1.25v1.25h-1.25zM309.2 380.1h1.25v1.25h-1.25zM349.1 396.0h1.25v1.25h-1.25zM326.5 396.0h1.25v1.25h-1.25zM306.5 372.1h1.25v1.25h-1.25zM325.1 362.8h1.25v1.25h-1.25zM321.1 368.1h1.25v1.25h-1.25zM337.1 382.7h1.25v1.25h-1.25zM311.8 366.8h1.25v1.25h-1.25zM311.8 365.4h1.25v1.25h-1.25zM314.5 369.4h1.25v1.25h-1.25zM349.1 397.4h1.25v1.25h-1.25zM319.8 384.1h1.25v1.25h-1.25zM307.8 366.8h1.25v1.25h-1.25zM350.4 398.7h1.25v1.25h-1.25zM334.4 386.7h1.25v1.25h-1.25zM358.4 388.1h1.25v1.25h-1.25zM322.5 376.1h1.25v1.25h-1.25zM319.8 405.3h1.25v1.25h-1.25zM335.8 397.4h1.25v1.25h-1.25zM314.5 369.4h1.25v1.25h-1.25zM349.1 389.4h1.25v1.25h-1.25zM338.4 377.4h1.25v1.25h-1.25zM346.4 388.1h1.25v1.25h-1.25zM351.7 365.4h1.25v1.25h-1.25zM323.8 405.3h1.25v1.25h-1.25zM327.8 353.5h1.25v1.25h-1.25zM322.5 408.0h1.25v1.25h-1.25zM325.1 376.1h1.25v1.25h-1.25zM349.1 396.0h1.25v1.25h-1.25zM322.5 385.4h1.25v1.25h-1.25zM331.8 393.4h1.25v1.25h-1.25zM319.8 405.3h1.25v1.25h-1.25zM337.1 366.8h1.25v1.25h-1.25zM305.2 372.1h1.25v1.25h-1.25zM331.8 380.1h1.25v1.25h-1.25zM327.8 392.0h1.25v1.25h-1.25zM335.8 352.1h1.25v1.25h-1.25zM337.1 380.1h1.25v1.25h-1.25zM326.5 406.7h1.25v1.25h-1.25zM353.1 372.1h1.25v1.25h-1.25zM339.8 366.8h1.25v1.25h-1.25zM331.8 357.5h1.25v1.25h-1.25zM334.4 380.1h1.25v1.25h-1.25zM322.5 366.8h1.25v1.25h-1.25zM347.7 354.8h1.25v1.25h-1.25zM333.1 356.1h1.25v1.25h-1.25zM345.1 377.4h1.25v1.25h-1.25zM358.4 377.4h1.25v1.25h-1.25zM306.5 390.7h1.25v1.25h-1.25zM310.5 397.4h1.25v1.25h-1.25zM314.5 390.7h1.25v1.25h-1.25zM350.4 400.0h1.25v1.25h-1.25zM306.5 386.7h1.25v1.25h-1.25zM355.7 362.8h1.25v1.25h-1.25zM355.7 392.0h1.25v1.25h-1.25zM337.1 386.7h1.25v1.25h-1.25zM341.1 368.1h1.25v1.25h-1.25zM327.8 408.0h1.25v1.25h-1.25zM333.1 354.8h1.25v1.25h-1.25zM342.4 366.8h1.25v1.25h-1.25zM358.4 389.4h1.25v1.25h-1.25zM306.5 370.8h1.25v1.25h-1.25zM337.1 353.5h1.25v1.25h-1.25zM311.8 386.7h1.25v1.25h-1.25zM333.1 409.3h1.25v1.25h-1.25zM329.1 409.3h1.25v1.25h-1.25zM333.1 378.7h1.25v1.25h-1.25zM322.5 360.1h1.25v1.25h-1.25zM305.2 390.7h1.25v1.25h-1.25zM326.5 354.8h1.25v1.25h-1.25zM319.8 365.4h1.25v1.25h-1.25zM330.4 369.4h1.25v1.25h-1.25zM322.5 393.4h1.25v1.25h-1.25zM341.1 378.7h1.25v1.25h-1.25zM326.5 378.7h1.25v1.25h-1.25zM338.4 388.1h1.25v1.25h-1.25zM325.1 405.3h1.25v1.25h-1.25zM321.1 366.8h1.25v1.25h-1.25zM351.7 368.1h1.25v1.25h-1.25zM341.1 366.8h1.25v1.25h-1.25zM313.2 358.8h1.25v1.25h-1.25zM319.8 369.4h1.25v1.25h-1.25zM351.7 364.1h1.25v1.25h-1.25zM350.4 372.1h1.25v1.25h-1.25zM354.4 393.4h1.25v1.25h-1.25zM313.2 373.4h1.25v1.25h-1.25zM341.1 373.4h1.25v1.25h-1.25zM335.8 398.7h1.25v1.25h-1.25zM321.1 396.0h1.25v1.25h-1.25zM323.8 374.8h1.25v1.25h-1.25zM303.8 369.4h1.25v1.25h-1.25zM314.5 398.7h1.25v1.25h-1.25zM347.7 390.7h1.25v1.25h-1.25zM307.8 377.4h1.25v1.25h-1.25zM327.8 365.4h1.25v1.25h-1.25zM353.1 366.8h1.25v1.25h-1.25zM358.4 376.1h1.25v1.25h-1.25zM330.4 390.7h1.25v1.25h-1.25zM306.5 365.4h1.25v1.25h-1.25zM338.4 386.7h1.25v1.25h-1.25zM309.2 394.7h1.25v1.25h-1.25zM309.2 385.4h1.25v1.25h-1.25zM311.8 366.8h1.25v1.25h-1.25z" fill="#c8503c"/><ellipse cx="332.40" cy="380.70" rx="31.80" ry="30.80" fill="none" stroke="#000" stroke-width="1.5" stroke-dasharray="40 0.6 16 1.0 40 1.0 30 1.3 40 0.6 30 1.0 40 0.6 16 1.3 30 1.0 16 1.0 22 1.0 16 1.3"/><rect x="327.80" y="412.00" width="7" height="1.8" fill="#e06050"/><path d="M329.10 418.20 a2.2 1.7 0 0 1 4.4 0z" fill="#111"/><circle cx="420.90" cy="379.80" r="37.0" fill="#fff" stroke="#cdcdcd" stroke-width="1.3"/><ellipse cx="422.00" cy="380.70" rx="33.30" ry="32.30" fill="none" stroke="#e46a68" stroke-opacity="0.85" stroke-width="2.2" stroke-dasharray="3.99 1.33 2.66 2.66 1.33 1.33 7.98 1.33 5.32 2.66 1.33 1.33 9.31 3.99 2.66 2.66 1.33 5.32 1.33 5.32 1.33 1.33 1.33 1.33 1.33 3.99 1.33 1.33 10.64 1.33 2.66 1.33 1.33 2.66 2.66 2.66 1.33 1.33 2.66 1.33 1.33 1.33 1.33 1.33 5.32 1.33 1.33 2.66 2.66 1.33 2.66 3.99 3.99 1.33 1.33 1.33 1.33 1.33 1.33 1.33 1.33 5.32 1.33 1.33 5.32 1.33 1.33 5.32 1.33 2.66 3.99 1.33 1.33 1.33 2.66 1.33 15.96 0.00"/><ellipse cx="422.00" cy="380.70" rx="34.00" ry="32.80" fill="none" stroke="#e05a58" stroke-opacity="0.85" stroke-width="2.0" stroke-dasharray="1.33 2.66 1.33 2.66 1.33 86.45 6.65 2.66 2.66 1.33 2.66 87.78 1.33 1.33 1.33 2.66 2.66 0.00"/><ellipse cx="422.00" cy="380.70" rx="32.00" ry="31.00" fill="#28e535"/><path d="M437.3 400.0h1.25v1.25h-1.25zM413.4 354.8h1.25v1.25h-1.25zM424.0 364.1h1.25v1.25h-1.25zM405.4 372.1h1.25v1.25h-1.25zM412.1 356.1h1.25v1.25h-1.25zM405.4 372.1h1.25v1.25h-1.25zM406.7 370.8h1.25v1.25h-1.25zM446.6 385.4h1.25v1.25h-1.25zM425.4 350.8h1.25v1.25h-1.25zM434.7 380.1h1.25v1.25h-1.25zM408.1 372.1h1.25v1.25h-1.25zM412.1 389.4h1.25v1.25h-1.25zM413.4 356.1h1.25v1.25h-1.25zM413.4 390.7h1.25v1.25h-1.25zM410.7 390.7h1.25v1.25h-1.25zM421.4 380.1h1.25v1.25h-1.25zM430.7 385.4h1.25v1.25h-1.25zM420.0 378.7h1.25v1.25h-1.25zM418.7 376.1h1.25v1.25h-1.25zM408.1 397.4h1.25v1.25h-1.25zM412.1 404.0h1.25v1.25h-1.25zM432.0 385.4h1.25v1.25h-1.25zM424.0 365.4h1.25v1.25h-1.25zM436.0 390.7h1.25v1.25h-1.25zM394.8 384.1h1.25v1.25h-1.25zM442.7 396.0h1.25v1.25h-1.25zM420.0 377.4h1.25v1.25h-1.25zM418.7 401.4h1.25v1.25h-1.25zM417.4 397.4h1.25v1.25h-1.25zM437.3 366.8h1.25v1.25h-1.25zM404.1 366.8h1.25v1.25h-1.25zM412.1 356.1h1.25v1.25h-1.25zM397.4 369.4h1.25v1.25h-1.25zM416.1 358.8h1.25v1.25h-1.25zM402.8 385.4h1.25v1.25h-1.25zM400.1 374.8h1.25v1.25h-1.25zM429.4 382.7h1.25v1.25h-1.25zM414.7 365.4h1.25v1.25h-1.25zM401.4 373.4h1.25v1.25h-1.25zM414.7 404.0h1.25v1.25h-1.25zM405.4 396.0h1.25v1.25h-1.25zM433.3 386.7h1.25v1.25h-1.25zM448.0 376.1h1.25v1.25h-1.25zM406.7 397.4h1.25v1.25h-1.25zM414.7 394.7h1.25v1.25h-1.25zM434.7 381.4h1.25v1.25h-1.25zM422.7 370.8h1.25v1.25h-1.25zM410.7 370.8h1.25v1.25h-1.25zM413.4 356.1h1.25v1.25h-1.25zM446.6 373.4h1.25v1.25h-1.25zM420.0 408.0h1.25v1.25h-1.25zM442.7 396.0h1.25v1.25h-1.25zM405.4 385.4h1.25v1.25h-1.25zM433.3 405.3h1.25v1.25h-1.25zM421.4 390.7h1.25v1.25h-1.25zM406.7 376.1h1.25v1.25h-1.25zM413.4 388.1h1.25v1.25h-1.25zM440.0 364.1h1.25v1.25h-1.25zM445.3 389.4h1.25v1.25h-1.25zM433.3 373.4h1.25v1.25h-1.25zM442.7 373.4h1.25v1.25h-1.25zM424.0 408.0h1.25v1.25h-1.25zM442.7 400.0h1.25v1.25h-1.25zM436.0 392.0h1.25v1.25h-1.25zM413.4 388.1h1.25v1.25h-1.25zM426.7 385.4h1.25v1.25h-1.25zM414.7 385.4h1.25v1.25h-1.25zM421.4 372.1h1.25v1.25h-1.25zM433.3 394.7h1.25v1.25h-1.25zM436.0 401.4h1.25v1.25h-1.25zM413.4 386.7h1.25v1.25h-1.25zM448.0 377.4h1.25v1.25h-1.25zM425.4 352.1h1.25v1.25h-1.25zM416.1 357.5h1.25v1.25h-1.25zM401.4 392.0h1.25v1.25h-1.25zM406.7 381.4h1.25v1.25h-1.25zM417.4 357.5h1.25v1.25h-1.25zM440.0 398.7h1.25v1.25h-1.25zM416.1 376.1h1.25v1.25h-1.25zM441.3 400.0h1.25v1.25h-1.25zM428.0 398.7h1.25v1.25h-1.25zM432.0 372.1h1.25v1.25h-1.25zM404.1 400.0h1.25v1.25h-1.25zM401.4 365.4h1.25v1.25h-1.25zM417.4 404.0h1.25v1.25h-1.25zM418.7 380.1h1.25v1.25h-1.25zM428.0 357.5h1.25v1.25h-1.25zM424.0 370.8h1.25v1.25h-1.25zM422.7 409.3h1.25v1.25h-1.25zM418.7 390.7h1.25v1.25h-1.25zM409.4 394.7h1.25v1.25h-1.25zM410.7 406.7h1.25v1.25h-1.25zM404.1 384.1h1.25v1.25h-1.25zM437.3 394.7h1.25v1.25h-1.25zM398.8 374.8h1.25v1.25h-1.25zM412.1 396.0h1.25v1.25h-1.25zM424.0 408.0h1.25v1.25h-1.25zM436.0 393.4h1.25v1.25h-1.25zM441.3 366.8h1.25v1.25h-1.25zM410.7 354.8h1.25v1.25h-1.25zM445.3 377.4h1.25v1.25h-1.25zM417.4 404.0h1.25v1.25h-1.25zM414.7 380.1h1.25v1.25h-1.25zM432.0 404.0h1.25v1.25h-1.25zM412.1 357.5h1.25v1.25h-1.25zM434.7 406.7h1.25v1.25h-1.25zM421.4 380.1h1.25v1.25h-1.25zM405.4 364.1h1.25v1.25h-1.25zM428.0 362.8h1.25v1.25h-1.25zM412.1 357.5h1.25v1.25h-1.25zM448.0 389.4h1.25v1.25h-1.25zM440.0 389.4h1.25v1.25h-1.25zM421.4 396.0h1.25v1.25h-1.25zM422.7 382.7h1.25v1.25h-1.25zM420.0 397.4h1.25v1.25h-1.25zM404.1 398.7h1.25v1.25h-1.25zM421.4 396.0h1.25v1.25h-1.25zM428.0 398.7h1.25v1.25h-1.25zM413.4 386.7h1.25v1.25h-1.25zM429.4 357.5h1.25v1.25h-1.25zM432.0 402.7h1.25v1.25h-1.25zM418.7 368.1h1.25v1.25h-1.25zM433.3 397.4h1.25v1.25h-1.25zM432.0 372.1h1.25v1.25h-1.25zM414.7 386.7h1.25v1.25h-1.25zM421.4 392.0h1.25v1.25h-1.25zM432.0 393.4h1.25v1.25h-1.25zM398.8 381.4h1.25v1.25h-1.25zM409.4 390.7h1.25v1.25h-1.25zM446.6 384.1h1.25v1.25h-1.25zM425.4 400.0h1.25v1.25h-1.25zM397.4 376.1h1.25v1.25h-1.25zM444.0 370.8h1.25v1.25h-1.25zM402.8 364.1h1.25v1.25h-1.25zM398.8 373.4h1.25v1.25h-1.25z" fill="#c8503c"/><ellipse cx="422.00" cy="380.70" rx="31.80" ry="30.80" fill="none" stroke="#000" stroke-width="1.5" stroke-dasharray="30 1.3 16 1.3 16 0.6 22 1.3 40 0.6 30 0.6 22 1.3 22 0.6 30 1.0 40 1.0 30 1.3 30 1.0"/><rect x="417.40" y="412.00" width="7" height="1.8" fill="#e06050"/><path d="M418.70 418.20 a2.2 1.7 0 0 1 4.4 0z" fill="#111"/><circle cx="510.50" cy="379.80" r="37.0" fill="#fff" stroke="#cdcdcd" stroke-width="1.3"/><ellipse cx="511.60" cy="380.70" rx="33.30" ry="32.30" fill="none" stroke="#e46a68" stroke-opacity="0.85" stroke-width="2.2" stroke-dasharray="0.00 1.33 9.31 1.33 6.65 1.33 5.32 1.33 6.65 1.33 1.33 1.33 1.33 3.99 1.33 1.33 2.66 7.98 2.66 1.33 3.99 1.33 6.65 1.33 3.99 1.33 2.66 1.33 1.33 2.66 2.66 3.99 9.31 1.33 3.99 2.66 2.66 1.33 1.33 1.33 3.99 2.66 1.33 1.33 10.64 2.66 1.33 1.33 5.32 1.33 2.66 1.33 1.33 2.66 1.33 3.99 1.33 3.99 6.65 1.33 10.64 1.33 2.66 1.33 1.33 3.99 1.33 3.99 1.33 1.33"/><ellipse cx="511.60" cy="380.70" rx="34.00" ry="32.80" fill="none" stroke="#e05a58" stroke-opacity="0.85" stroke-width="2.0" stroke-dasharray="0.00 1.33 2.66 2.66 1.33 87.78 1.33 2.66 1.33 9.31 3.99 86.45 1.33 2.66 2.66 1.33"/><ellipse cx="511.60" cy="380.70" rx="32.00" ry="31.00" fill="#28e535"/><path d="M516.3 402.7h1.25v1.25h-1.25zM517.6 392.0h1.25v1.25h-1.25zM516.3 390.7h1.25v1.25h-1.25zM513.6 366.8h1.25v1.25h-1.25zM517.6 404.0h1.25v1.25h-1.25zM517.6 390.7h1.25v1.25h-1.25zM509.6 388.1h1.25v1.25h-1.25zM520.3 385.4h1.25v1.25h-1.25zM515.0 401.4h1.25v1.25h-1.25zM522.9 382.7h1.25v1.25h-1.25zM499.0 377.4h1.25v1.25h-1.25zM489.7 365.4h1.25v1.25h-1.25zM522.9 384.1h1.25v1.25h-1.25zM497.7 373.4h1.25v1.25h-1.25zM516.3 393.4h1.25v1.25h-1.25zM529.6 397.4h1.25v1.25h-1.25zM508.3 388.1h1.25v1.25h-1.25zM528.3 373.4h1.25v1.25h-1.25zM497.7 374.8h1.25v1.25h-1.25zM524.3 385.4h1.25v1.25h-1.25zM526.9 396.0h1.25v1.25h-1.25zM504.3 402.7h1.25v1.25h-1.25zM508.3 404.0h1.25v1.25h-1.25zM507.0 402.7h1.25v1.25h-1.25zM533.6 370.8h1.25v1.25h-1.25zM503.0 400.0h1.25v1.25h-1.25zM508.3 389.4h1.25v1.25h-1.25zM491.0 389.4h1.25v1.25h-1.25zM536.2 392.0h1.25v1.25h-1.25zM509.6 382.7h1.25v1.25h-1.25zM526.9 357.5h1.25v1.25h-1.25zM507.0 388.1h1.25v1.25h-1.25zM511.0 361.5h1.25v1.25h-1.25zM501.7 401.4h1.25v1.25h-1.25zM501.7 390.7h1.25v1.25h-1.25zM511.0 389.4h1.25v1.25h-1.25zM499.0 374.8h1.25v1.25h-1.25zM521.6 352.1h1.25v1.25h-1.25zM520.3 353.5h1.25v1.25h-1.25zM488.4 362.8h1.25v1.25h-1.25zM519.0 388.1h1.25v1.25h-1.25zM501.7 389.4h1.25v1.25h-1.25zM487.0 386.7h1.25v1.25h-1.25zM505.7 386.7h1.25v1.25h-1.25zM501.7 390.7h1.25v1.25h-1.25zM534.9 362.8h1.25v1.25h-1.25zM499.0 373.4h1.25v1.25h-1.25zM488.4 361.5h1.25v1.25h-1.25zM500.3 374.8h1.25v1.25h-1.25zM528.3 358.8h1.25v1.25h-1.25zM507.0 402.7h1.25v1.25h-1.25zM496.3 380.1h1.25v1.25h-1.25zM500.3 386.7h1.25v1.25h-1.25zM488.4 394.7h1.25v1.25h-1.25zM504.3 408.0h1.25v1.25h-1.25zM489.7 382.7h1.25v1.25h-1.25zM521.6 354.8h1.25v1.25h-1.25zM491.0 388.1h1.25v1.25h-1.25zM515.0 366.8h1.25v1.25h-1.25zM529.6 357.5h1.25v1.25h-1.25zM526.9 369.4h1.25v1.25h-1.25zM497.7 373.4h1.25v1.25h-1.25zM507.0 360.1h1.25v1.25h-1.25zM528.3 374.8h1.25v1.25h-1.25zM500.3 353.5h1.25v1.25h-1.25zM501.7 401.4h1.25v1.25h-1.25zM504.3 357.5h1.25v1.25h-1.25zM513.6 390.7h1.25v1.25h-1.25zM525.6 364.1h1.25v1.25h-1.25zM484.4 384.1h1.25v1.25h-1.25zM517.6 392.0h1.25v1.25h-1.25zM508.3 361.5h1.25v1.25h-1.25zM520.3 402.7h1.25v1.25h-1.25zM536.2 381.4h1.25v1.25h-1.25zM530.9 398.7h1.25v1.25h-1.25zM515.0 350.8h1.25v1.25h-1.25zM524.3 386.7h1.25v1.25h-1.25zM500.3 392.0h1.25v1.25h-1.25zM509.6 364.1h1.25v1.25h-1.25zM499.0 386.7h1.25v1.25h-1.25zM520.3 353.5h1.25v1.25h-1.25zM496.3 380.1h1.25v1.25h-1.25zM532.3 378.7h1.25v1.25h-1.25zM495.0 394.7h1.25v1.25h-1.25zM509.6 369.4h1.25v1.25h-1.25zM526.9 396.0h1.25v1.25h-1.25zM528.3 392.0h1.25v1.25h-1.25zM525.6 394.7h1.25v1.25h-1.25zM492.4 370.8h1.25v1.25h-1.25zM507.0 388.1h1.25v1.25h-1.25zM485.7 382.7h1.25v1.25h-1.25zM488.4 393.4h1.25v1.25h-1.25zM530.9 398.7h1.25v1.25h-1.25zM532.3 370.8h1.25v1.25h-1.25zM530.9 366.8h1.25v1.25h-1.25zM512.3 389.4h1.25v1.25h-1.25zM526.9 394.7h1.25v1.25h-1.25zM504.3 382.7h1.25v1.25h-1.25zM517.6 353.5h1.25v1.25h-1.25zM503.0 381.4h1.25v1.25h-1.25zM511.0 368.1h1.25v1.25h-1.25zM492.4 388.1h1.25v1.25h-1.25zM509.6 357.5h1.25v1.25h-1.25zM495.0 380.1h1.25v1.25h-1.25zM525.6 362.8h1.25v1.25h-1.25zM536.2 380.1h1.25v1.25h-1.25zM522.9 354.8h1.25v1.25h-1.25zM529.6 402.7h1.25v1.25h-1.25zM497.7 372.1h1.25v1.25h-1.25zM536.2 392.0h1.25v1.25h-1.25zM488.4 364.1h1.25v1.25h-1.25zM487.0 362.8h1.25v1.25h-1.25zM507.0 388.1h1.25v1.25h-1.25zM499.0 392.0h1.25v1.25h-1.25zM505.7 390.7h1.25v1.25h-1.25zM504.3 354.8h1.25v1.25h-1.25zM525.6 358.8h1.25v1.25h-1.25zM505.7 393.4h1.25v1.25h-1.25zM526.9 366.8h1.25v1.25h-1.25zM491.0 384.1h1.25v1.25h-1.25zM492.4 358.8h1.25v1.25h-1.25zM528.3 374.8h1.25v1.25h-1.25zM517.6 354.8h1.25v1.25h-1.25zM517.6 360.1h1.25v1.25h-1.25zM500.3 374.8h1.25v1.25h-1.25zM532.3 397.4h1.25v1.25h-1.25zM489.7 361.5h1.25v1.25h-1.25zM501.7 364.1h1.25v1.25h-1.25zM489.7 369.4h1.25v1.25h-1.25zM500.3 392.0h1.25v1.25h-1.25zM491.0 361.5h1.25v1.25h-1.25zM516.3 362.8h1.25v1.25h-1.25zM487.0 394.7h1.25v1.25h-1.25zM483.0 390.7h1.25v1.25h-1.25zM508.3 360.1h1.25v1.25h-1.25z" fill="#c8503c"/><ellipse cx="511.60" cy="380.70" rx="31.80" ry="30.80" fill="none" stroke="#000" stroke-width="1.5" stroke-dasharray="16 1.3 40 1.3 16 0.6 22 1.3 16 0.6 40 0.6 40 0.6 40 1.0 30 0.6 40 1.0 40 1.0 30 1.0"/><rect x="507.00" y="412.00" width="7" height="1.8" fill="#e06050"/><path d="M508.30 418.20 a2.2 1.7 0 0 1 4.4 0z" fill="#111"/><circle cx="600.10" cy="379.80" r="37.0" fill="#fff" stroke="#cdcdcd" stroke-width="1.3"/><ellipse cx="601.20" cy="380.70" rx="33.30" ry="32.30" fill="none" stroke="#e46a68" stroke-opacity="0.85" stroke-width="2.2" stroke-dasharray="1.33 1.33 2.66 1.33 2.66 1.33 3.99 1.33 10.64 1.33 1.33 1.33 6.65 2.66 1.33 5.32 1.33 5.32 1.33 5.32 2.66 2.66 2.66 2.66 1.33 1.33 3.99 1.33 2.66 2.66 1.33 1.33 2.66 1.33 2.66 2.66 5.32 1.33 1.33 1.33 3.99 2.66 2.66 3.99 1.33 2.66 2.66 1.33 1.33 1.33 1.33 2.66 6.65 1.33 1.33 2.66 3.99 1.33 2.66 9.31 2.66 5.32 1.33 6.65 1.33 1.33 1.33 1.33 2.66 2.66 3.99 1.33 2.66 1.33 1.33 2.66 2.66 0.00"/><ellipse cx="601.20" cy="380.70" rx="34.00" ry="32.80" fill="none" stroke="#e05a58" stroke-opacity="0.85" stroke-width="2.0" stroke-dasharray="0.00 1.33 2.66 1.33 3.99 86.45 2.66 1.33 1.33 1.33 1.33 1.33 1.33 1.33 1.33 1.33 3.99 85.12 2.66 1.33 1.33 2.66 1.33 0.00"/><ellipse cx="601.20" cy="380.70" rx="32.00" ry="31.00" fill="#28e535"/><path d="M609.9 402.7h1.25v1.25h-1.25zM588.6 365.4h1.25v1.25h-1.25zM611.2 404.0h1.25v1.25h-1.25zM627.2 366.8h1.25v1.25h-1.25zM625.8 381.4h1.25v1.25h-1.25zM611.2 400.0h1.25v1.25h-1.25zM585.9 398.7h1.25v1.25h-1.25zM611.2 398.7h1.25v1.25h-1.25zM621.9 365.4h1.25v1.25h-1.25zM588.6 366.8h1.25v1.25h-1.25zM599.2 366.8h1.25v1.25h-1.25zM617.9 369.4h1.25v1.25h-1.25zM609.9 377.4h1.25v1.25h-1.25zM624.5 382.7h1.25v1.25h-1.25zM611.2 402.7h1.25v1.25h-1.25zM604.6 384.1h1.25v1.25h-1.25zM607.2 392.0h1.25v1.25h-1.25zM608.6 364.1h1.25v1.25h-1.25zM578.0 377.4h1.25v1.25h-1.25zM617.9 390.7h1.25v1.25h-1.25zM603.2 386.7h1.25v1.25h-1.25zM597.9 361.5h1.25v1.25h-1.25zM600.6 354.8h1.25v1.25h-1.25zM582.0 360.1h1.25v1.25h-1.25zM580.6 358.8h1.25v1.25h-1.25zM627.2 388.1h1.25v1.25h-1.25zM589.9 365.4h1.25v1.25h-1.25zM580.6 385.4h1.25v1.25h-1.25zM593.9 390.7h1.25v1.25h-1.25zM589.9 386.7h1.25v1.25h-1.25zM596.6 376.1h1.25v1.25h-1.25zM589.9 366.8h1.25v1.25h-1.25zM591.3 365.4h1.25v1.25h-1.25zM571.3 377.4h1.25v1.25h-1.25zM599.2 356.1h1.25v1.25h-1.25zM611.2 386.7h1.25v1.25h-1.25zM597.9 405.3h1.25v1.25h-1.25zM603.2 388.1h1.25v1.25h-1.25zM612.5 400.0h1.25v1.25h-1.25zM609.9 365.4h1.25v1.25h-1.25zM597.9 380.1h1.25v1.25h-1.25zM588.6 385.4h1.25v1.25h-1.25zM593.9 389.4h1.25v1.25h-1.25zM595.3 370.8h1.25v1.25h-1.25zM609.9 402.7h1.25v1.25h-1.25zM587.3 361.5h1.25v1.25h-1.25zM605.9 350.8h1.25v1.25h-1.25zM611.2 372.1h1.25v1.25h-1.25zM593.9 388.1h1.25v1.25h-1.25zM591.3 364.1h1.25v1.25h-1.25zM612.5 366.8h1.25v1.25h-1.25zM621.9 364.1h1.25v1.25h-1.25zM583.3 358.8h1.25v1.25h-1.25zM604.6 352.1h1.25v1.25h-1.25zM624.5 385.4h1.25v1.25h-1.25zM596.6 360.1h1.25v1.25h-1.25zM605.9 350.8h1.25v1.25h-1.25zM609.9 401.4h1.25v1.25h-1.25zM599.2 409.3h1.25v1.25h-1.25zM578.0 376.1h1.25v1.25h-1.25zM575.3 390.7h1.25v1.25h-1.25zM592.6 360.1h1.25v1.25h-1.25zM603.2 353.5h1.25v1.25h-1.25zM600.6 362.8h1.25v1.25h-1.25zM601.9 384.1h1.25v1.25h-1.25zM608.6 376.1h1.25v1.25h-1.25zM596.6 360.1h1.25v1.25h-1.25zM597.9 374.8h1.25v1.25h-1.25zM599.2 358.8h1.25v1.25h-1.25zM597.9 354.8h1.25v1.25h-1.25zM603.2 384.1h1.25v1.25h-1.25zM580.6 372.1h1.25v1.25h-1.25zM589.9 361.5h1.25v1.25h-1.25zM623.2 384.1h1.25v1.25h-1.25zM585.9 389.4h1.25v1.25h-1.25zM604.6 380.1h1.25v1.25h-1.25zM609.9 360.1h1.25v1.25h-1.25zM599.2 350.8h1.25v1.25h-1.25zM615.2 354.8h1.25v1.25h-1.25zM587.3 378.7h1.25v1.25h-1.25zM595.3 352.1h1.25v1.25h-1.25zM596.6 394.7h1.25v1.25h-1.25zM583.3 369.4h1.25v1.25h-1.25zM584.6 392.0h1.25v1.25h-1.25zM585.9 400.0h1.25v1.25h-1.25zM600.6 392.0h1.25v1.25h-1.25zM608.6 354.8h1.25v1.25h-1.25zM627.2 389.4h1.25v1.25h-1.25zM612.5 398.7h1.25v1.25h-1.25zM611.2 373.4h1.25v1.25h-1.25zM609.9 404.0h1.25v1.25h-1.25zM599.2 384.1h1.25v1.25h-1.25zM576.6 368.1h1.25v1.25h-1.25zM591.3 368.1h1.25v1.25h-1.25zM620.5 370.8h1.25v1.25h-1.25zM617.9 368.1h1.25v1.25h-1.25zM576.6 376.1h1.25v1.25h-1.25zM591.3 360.1h1.25v1.25h-1.25zM597.9 360.1h1.25v1.25h-1.25zM599.2 374.8h1.25v1.25h-1.25zM611.2 401.4h1.25v1.25h-1.25zM611.2 372.1h1.25v1.25h-1.25zM595.3 366.8h1.25v1.25h-1.25zM607.2 374.8h1.25v1.25h-1.25zM597.9 406.7h1.25v1.25h-1.25zM607.2 354.8h1.25v1.25h-1.25zM625.8 385.4h1.25v1.25h-1.25zM611.2 402.7h1.25v1.25h-1.25zM621.9 360.1h1.25v1.25h-1.25zM607.2 376.1h1.25v1.25h-1.25zM620.5 365.4h1.25v1.25h-1.25zM620.5 393.4h1.25v1.25h-1.25zM627.2 366.8h1.25v1.25h-1.25zM588.6 365.4h1.25v1.25h-1.25zM596.6 353.5h1.25v1.25h-1.25zM623.2 373.4h1.25v1.25h-1.25zM592.6 384.1h1.25v1.25h-1.25zM601.9 396.0h1.25v1.25h-1.25zM597.9 382.7h1.25v1.25h-1.25zM579.3 360.1h1.25v1.25h-1.25zM588.6 354.8h1.25v1.25h-1.25zM583.3 386.7h1.25v1.25h-1.25zM589.9 406.7h1.25v1.25h-1.25zM580.6 382.7h1.25v1.25h-1.25zM627.2 368.1h1.25v1.25h-1.25zM619.2 384.1h1.25v1.25h-1.25zM625.8 369.4h1.25v1.25h-1.25zM603.2 353.5h1.25v1.25h-1.25zM619.2 392.0h1.25v1.25h-1.25zM619.2 402.7h1.25v1.25h-1.25zM597.9 360.1h1.25v1.25h-1.25zM621.9 365.4h1.25v1.25h-1.25zM575.3 384.1h1.25v1.25h-1.25zM587.3 390.7h1.25v1.25h-1.25zM585.9 393.4h1.25v1.25h-1.25z" fill="#c8503c"/><ellipse cx="601.20" cy="380.70" rx="31.80" ry="30.80" fill="none" stroke="#000" stroke-width="1.5" stroke-dasharray="30 0.6 40 1.3 40 1.3 16 1.0 40 0.6 30 1.3 16 1.0 40 0.6 40 0.6 40 1.3 22 1.0 40 1.3"/><rect x="596.60" y="412.00" width="7" height="1.8" fill="#e06050"/><path d="M597.90 418.20 a2.2 1.7 0 0 1 4.4 0z" fill="#111"/><circle cx="689.70" cy="379.80" r="37.0" fill="#fff" stroke="#cdcdcd" stroke-width="1.3"/><ellipse cx="690.80" cy="380.70" rx="33.30" ry="32.30" fill="none" stroke="#e46a68" stroke-opacity="0.85" stroke-width="2.2" stroke-dasharray="3.99 1.33 1.33 1.33 2.66 2.66 5.32 1.33 19.95 1.33 1.33 1.33 2.66 2.66 2.66 5.32 1.33 1.33 1.33 5.32 2.66 1.33 5.32 1.33 3.99 1.33 2.66 1.33 5.32 1.33 6.65 1.33 13.30 1.33 9.31 2.66 1.33 2.66 3.99 2.66 3.99 1.33 1.33 2.66 2.66 3.99 1.33 5.32 1.33 5.32 1.33 2.66 2.66 2.66 1.33 1.33 25.27 0.00"/><ellipse cx="690.80" cy="380.70" rx="34.00" ry="32.80" fill="none" stroke="#e05a58" stroke-opacity="0.85" stroke-width="2.0" stroke-dasharray="2.66 3.99 2.66 87.78 2.66 6.65 1.33 1.33 3.99 87.78 5.32 2.66"/><ellipse cx="690.80" cy="380.70" rx="32.00" ry="31.00" fill="#28e535"/><path d="M684.9 382.7h1.25v1.25h-1.25zM676.9 393.4h1.25v1.25h-1.25zM671.6 370.8h1.25v1.25h-1.25zM700.8 372.1h1.25v1.25h-1.25zM680.9 357.5h1.25v1.25h-1.25zM668.9 389.4h1.25v1.25h-1.25zM707.5 377.4h1.25v1.25h-1.25zM692.8 354.8h1.25v1.25h-1.25zM708.8 382.7h1.25v1.25h-1.25zM708.8 370.8h1.25v1.25h-1.25zM680.9 370.8h1.25v1.25h-1.25zM678.2 405.3h1.25v1.25h-1.25zM688.8 374.8h1.25v1.25h-1.25zM702.1 372.1h1.25v1.25h-1.25zM671.6 373.4h1.25v1.25h-1.25zM690.2 385.4h1.25v1.25h-1.25zM712.8 396.0h1.25v1.25h-1.25zM686.2 382.7h1.25v1.25h-1.25zM700.8 365.4h1.25v1.25h-1.25zM715.4 392.0h1.25v1.25h-1.25zM707.5 360.1h1.25v1.25h-1.25zM682.2 404.0h1.25v1.25h-1.25zM678.2 392.0h1.25v1.25h-1.25zM686.2 384.1h1.25v1.25h-1.25zM668.9 374.8h1.25v1.25h-1.25zM686.2 377.4h1.25v1.25h-1.25zM671.6 381.4h1.25v1.25h-1.25zM683.5 373.4h1.25v1.25h-1.25zM707.5 392.0h1.25v1.25h-1.25zM692.8 374.8h1.25v1.25h-1.25zM695.5 376.1h1.25v1.25h-1.25zM691.5 356.1h1.25v1.25h-1.25zM692.8 408.0h1.25v1.25h-1.25zM687.5 396.0h1.25v1.25h-1.25zM679.5 405.3h1.25v1.25h-1.25zM706.1 376.1h1.25v1.25h-1.25zM700.8 377.4h1.25v1.25h-1.25zM675.5 401.4h1.25v1.25h-1.25zM692.8 353.5h1.25v1.25h-1.25zM664.9 396.0h1.25v1.25h-1.25zM700.8 377.4h1.25v1.25h-1.25zM716.8 392.0h1.25v1.25h-1.25zM702.1 377.4h1.25v1.25h-1.25zM708.8 385.4h1.25v1.25h-1.25zM686.2 380.1h1.25v1.25h-1.25zM679.5 404.0h1.25v1.25h-1.25zM707.5 401.4h1.25v1.25h-1.25zM690.2 360.1h1.25v1.25h-1.25zM696.8 398.7h1.25v1.25h-1.25zM707.5 385.4h1.25v1.25h-1.25zM672.9 370.8h1.25v1.25h-1.25zM711.5 378.7h1.25v1.25h-1.25zM696.8 360.1h1.25v1.25h-1.25zM682.2 394.7h1.25v1.25h-1.25zM700.8 370.8h1.25v1.25h-1.25zM683.5 377.4h1.25v1.25h-1.25zM676.9 397.4h1.25v1.25h-1.25zM700.8 400.0h1.25v1.25h-1.25zM692.8 394.7h1.25v1.25h-1.25zM675.5 362.8h1.25v1.25h-1.25zM706.1 400.0h1.25v1.25h-1.25zM707.5 401.4h1.25v1.25h-1.25zM715.4 366.8h1.25v1.25h-1.25zM678.2 405.3h1.25v1.25h-1.25zM707.5 402.7h1.25v1.25h-1.25zM710.1 369.4h1.25v1.25h-1.25zM687.5 369.4h1.25v1.25h-1.25zM708.8 366.8h1.25v1.25h-1.25zM676.9 406.7h1.25v1.25h-1.25zM679.5 360.1h1.25v1.25h-1.25zM680.9 400.0h1.25v1.25h-1.25zM688.8 358.8h1.25v1.25h-1.25zM682.2 357.5h1.25v1.25h-1.25zM674.2 401.4h1.25v1.25h-1.25zM664.9 364.1h1.25v1.25h-1.25zM716.8 390.7h1.25v1.25h-1.25zM698.2 380.1h1.25v1.25h-1.25zM700.8 373.4h1.25v1.25h-1.25zM662.2 388.1h1.25v1.25h-1.25zM702.1 390.7h1.25v1.25h-1.25zM695.5 390.7h1.25v1.25h-1.25zM711.5 361.5h1.25v1.25h-1.25zM671.6 372.1h1.25v1.25h-1.25zM698.2 396.0h1.25v1.25h-1.25zM666.2 369.4h1.25v1.25h-1.25zM683.5 360.1h1.25v1.25h-1.25zM706.1 390.7h1.25v1.25h-1.25zM667.6 380.1h1.25v1.25h-1.25zM715.4 390.7h1.25v1.25h-1.25zM714.1 377.4h1.25v1.25h-1.25zM712.8 392.0h1.25v1.25h-1.25zM678.2 377.4h1.25v1.25h-1.25zM704.8 396.0h1.25v1.25h-1.25zM690.2 358.8h1.25v1.25h-1.25zM667.6 378.7h1.25v1.25h-1.25zM712.8 372.1h1.25v1.25h-1.25zM687.5 358.8h1.25v1.25h-1.25zM706.1 401.4h1.25v1.25h-1.25zM702.1 372.1h1.25v1.25h-1.25zM698.2 398.7h1.25v1.25h-1.25zM703.5 389.4h1.25v1.25h-1.25zM663.6 377.4h1.25v1.25h-1.25zM671.6 357.5h1.25v1.25h-1.25zM682.2 364.1h1.25v1.25h-1.25zM691.5 374.8h1.25v1.25h-1.25zM700.8 365.4h1.25v1.25h-1.25zM686.2 398.7h1.25v1.25h-1.25zM684.9 381.4h1.25v1.25h-1.25zM687.5 393.4h1.25v1.25h-1.25zM712.8 373.4h1.25v1.25h-1.25zM711.5 370.8h1.25v1.25h-1.25zM680.9 401.4h1.25v1.25h-1.25zM672.9 372.1h1.25v1.25h-1.25zM687.5 392.0h1.25v1.25h-1.25zM667.6 388.1h1.25v1.25h-1.25zM715.4 386.7h1.25v1.25h-1.25zM692.8 357.5h1.25v1.25h-1.25zM684.9 382.7h1.25v1.25h-1.25zM715.4 390.7h1.25v1.25h-1.25zM692.8 373.4h1.25v1.25h-1.25zM699.5 405.3h1.25v1.25h-1.25zM687.5 386.7h1.25v1.25h-1.25zM684.9 376.1h1.25v1.25h-1.25zM716.8 374.8h1.25v1.25h-1.25zM670.2 361.5h1.25v1.25h-1.25zM667.6 376.1h1.25v1.25h-1.25zM676.9 406.7h1.25v1.25h-1.25zM691.5 357.5h1.25v1.25h-1.25zM700.8 386.7h1.25v1.25h-1.25zM686.2 390.7h1.25v1.25h-1.25zM707.5 377.4h1.25v1.25h-1.25zM699.5 398.7h1.25v1.25h-1.25zM692.8 389.4h1.25v1.25h-1.25zM680.9 390.7h1.25v1.25h-1.25zM708.8 372.1h1.25v1.25h-1.25z" fill="#c8503c"/><ellipse cx="690.80" cy="380.70" rx="31.80" ry="30.80" fill="none" stroke="#000" stroke-width="1.5" stroke-dasharray="22 0.6 16 0.6 40 1.0 40 1.0 40 1.3 22 1.3 30 1.3 16 1.3 22 1.3 22 1.0 40 0.6 16 1.0"/><rect x="686.20" y="412.00" width="7" height="1.8" fill="#e06050"/><path d="M687.50 418.20 a2.2 1.7 0 0 1 4.4 0z" fill="#111"/><circle cx="331.30" cy="474.60" r="37.0" fill="#fff" stroke="#cdcdcd" stroke-width="1.3"/><ellipse cx="332.40" cy="475.50" rx="33.30" ry="32.30" fill="none" stroke="#e46a68" stroke-opacity="0.85" stroke-width="2.2" stroke-dasharray="0.00 1.33 1.33 1.33 9.31 1.33 1.33 2.66 2.66 1.33 1.33 1.33 1.33 1.33 7.98 3.99 2.66 3.99 1.33 5.32 2.66 3.99 1.33 3.99 13.30 2.66 3.99 3.99 23.94 1.33 5.32 3.99 9.31 2.66 3.99 1.33 1.33 1.33 1.33 13.30 2.66 1.33 1.33 1.33 1.33 1.33 1.33 2.66 1.33 3.99 1.33 3.99 7.98 1.33 3.99 1.33 7.98 0.00"/><ellipse cx="332.40" cy="475.50" rx="34.00" ry="32.80" fill="none" stroke="#e05a58" stroke-opacity="0.85" stroke-width="2.0" stroke-dasharray="1.33 1.33 5.32 1.33 1.33 87.78 1.33 1.33 1.33 2.66 1.33 1.33 3.99 1.33 1.33 85.12 5.32 3.99"/><ellipse cx="332.40" cy="475.50" rx="32.00" ry="31.00" fill="#28e535"/><path d="M355.7 490.8h1.25v1.25h-1.25zM314.5 452.3h1.25v1.25h-1.25zM354.4 490.8h1.25v1.25h-1.25zM343.7 501.5h1.25v1.25h-1.25zM343.7 501.5h1.25v1.25h-1.25zM345.1 473.5h1.25v1.25h-1.25zM345.1 500.1h1.25v1.25h-1.25zM322.5 481.5h1.25v1.25h-1.25zM313.2 452.3h1.25v1.25h-1.25zM333.1 456.3h1.25v1.25h-1.25zM345.1 501.5h1.25v1.25h-1.25zM326.5 462.9h1.25v1.25h-1.25zM346.4 490.8h1.25v1.25h-1.25zM346.4 474.9h1.25v1.25h-1.25zM359.7 468.2h1.25v1.25h-1.25zM347.7 492.2h1.25v1.25h-1.25zM349.1 456.3h1.25v1.25h-1.25zM350.4 456.3h1.25v1.25h-1.25zM330.4 480.2h1.25v1.25h-1.25zM327.8 449.6h1.25v1.25h-1.25zM330.4 469.6h1.25v1.25h-1.25zM343.7 474.9h1.25v1.25h-1.25zM347.7 457.6h1.25v1.25h-1.25zM354.4 492.2h1.25v1.25h-1.25zM329.1 448.3h1.25v1.25h-1.25zM342.4 501.5h1.25v1.25h-1.25zM314.5 452.3h1.25v1.25h-1.25zM350.4 472.2h1.25v1.25h-1.25zM343.7 500.1h1.25v1.25h-1.25zM359.7 466.9h1.25v1.25h-1.25zM315.8 481.5h1.25v1.25h-1.25zM338.4 498.8h1.25v1.25h-1.25zM330.4 464.2h1.25v1.25h-1.25zM326.5 480.2h1.25v1.25h-1.25zM309.2 477.5h1.25v1.25h-1.25zM326.5 489.5h1.25v1.25h-1.25zM322.5 464.2h1.25v1.25h-1.25zM335.8 492.2h1.25v1.25h-1.25zM350.4 461.6h1.25v1.25h-1.25zM353.1 473.5h1.25v1.25h-1.25zM331.8 484.2h1.25v1.25h-1.25zM331.8 485.5h1.25v1.25h-1.25zM341.1 450.9h1.25v1.25h-1.25zM309.2 468.2h1.25v1.25h-1.25zM346.4 452.3h1.25v1.25h-1.25zM331.8 486.8h1.25v1.25h-1.25zM329.1 458.9h1.25v1.25h-1.25zM334.4 468.2h1.25v1.25h-1.25zM326.5 504.1h1.25v1.25h-1.25zM311.8 466.9h1.25v1.25h-1.25zM345.1 453.6h1.25v1.25h-1.25zM331.8 488.2h1.25v1.25h-1.25zM307.8 490.8h1.25v1.25h-1.25zM349.1 493.5h1.25v1.25h-1.25zM331.8 484.2h1.25v1.25h-1.25zM342.4 502.8h1.25v1.25h-1.25zM339.8 497.5h1.25v1.25h-1.25zM325.1 460.2h1.25v1.25h-1.25zM317.1 480.2h1.25v1.25h-1.25zM327.8 502.8h1.25v1.25h-1.25zM327.8 497.5h1.25v1.25h-1.25zM326.5 490.8h1.25v1.25h-1.25zM318.5 492.2h1.25v1.25h-1.25zM314.5 452.3h1.25v1.25h-1.25zM349.1 492.2h1.25v1.25h-1.25zM342.4 501.5h1.25v1.25h-1.25zM346.4 474.9h1.25v1.25h-1.25zM326.5 445.6h1.25v1.25h-1.25zM311.8 470.9h1.25v1.25h-1.25zM313.2 452.3h1.25v1.25h-1.25zM338.4 497.5h1.25v1.25h-1.25zM341.1 458.9h1.25v1.25h-1.25zM318.5 481.5h1.25v1.25h-1.25zM343.7 469.6h1.25v1.25h-1.25zM334.4 456.3h1.25v1.25h-1.25zM315.8 460.2h1.25v1.25h-1.25zM335.8 466.9h1.25v1.25h-1.25zM346.4 453.6h1.25v1.25h-1.25zM355.7 458.9h1.25v1.25h-1.25zM335.8 449.6h1.25v1.25h-1.25zM319.8 486.8h1.25v1.25h-1.25zM327.8 449.6h1.25v1.25h-1.25zM358.4 469.6h1.25v1.25h-1.25zM349.1 466.9h1.25v1.25h-1.25zM355.7 492.2h1.25v1.25h-1.25zM347.7 493.5h1.25v1.25h-1.25zM318.5 501.5h1.25v1.25h-1.25zM325.1 478.9h1.25v1.25h-1.25zM351.7 485.5h1.25v1.25h-1.25zM351.7 470.9h1.25v1.25h-1.25zM327.8 448.3h1.25v1.25h-1.25zM345.1 453.6h1.25v1.25h-1.25zM339.8 482.9h1.25v1.25h-1.25zM321.1 494.8h1.25v1.25h-1.25zM323.8 469.6h1.25v1.25h-1.25zM349.1 477.5h1.25v1.25h-1.25zM321.1 454.9h1.25v1.25h-1.25zM318.5 449.6h1.25v1.25h-1.25zM350.4 472.2h1.25v1.25h-1.25zM313.2 453.6h1.25v1.25h-1.25zM353.1 477.5h1.25v1.25h-1.25zM321.1 485.5h1.25v1.25h-1.25zM350.4 470.9h1.25v1.25h-1.25zM333.1 468.2h1.25v1.25h-1.25zM321.1 488.2h1.25v1.25h-1.25zM318.5 452.3h1.25v1.25h-1.25zM338.4 488.2h1.25v1.25h-1.25zM347.7 494.8h1.25v1.25h-1.25zM338.4 488.2h1.25v1.25h-1.25zM315.8 485.5h1.25v1.25h-1.25zM331.8 485.5h1.25v1.25h-1.25zM355.7 492.2h1.25v1.25h-1.25zM327.8 446.9h1.25v1.25h-1.25zM318.5 485.5h1.25v1.25h-1.25zM339.8 497.5h1.25v1.25h-1.25zM317.1 453.6h1.25v1.25h-1.25zM307.8 464.2h1.25v1.25h-1.25zM353.1 468.2h1.25v1.25h-1.25zM323.8 489.5h1.25v1.25h-1.25zM321.1 484.2h1.25v1.25h-1.25zM345.1 464.2h1.25v1.25h-1.25zM330.4 464.2h1.25v1.25h-1.25zM331.8 496.2h1.25v1.25h-1.25zM334.4 481.5h1.25v1.25h-1.25zM337.1 474.9h1.25v1.25h-1.25zM309.2 485.5h1.25v1.25h-1.25zM307.8 492.2h1.25v1.25h-1.25zM350.4 469.6h1.25v1.25h-1.25zM326.5 480.2h1.25v1.25h-1.25zM343.7 497.5h1.25v1.25h-1.25zM323.8 489.5h1.25v1.25h-1.25zM349.1 492.2h1.25v1.25h-1.25zM327.8 460.2h1.25v1.25h-1.25zM331.8 502.8h1.25v1.25h-1.25zM355.7 457.6h1.25v1.25h-1.25z" fill="#c8503c"/><ellipse cx="332.40" cy="475.50" rx="31.80" ry="30.80" fill="none" stroke="#000" stroke-width="1.5" stroke-dasharray="30 1.0 22 0.6 16 1.0 30 1.0 40 1.3 16 1.3 22 1.0 16 1.0 30 1.3 40 1.3 16 0.6 40 0.6"/><rect x="327.80" y="506.80" width="7" height="1.8" fill="#e06050"/><path d="M329.10 513.00 a2.2 1.7 0 0 1 4.4 0z" fill="#111"/><circle cx="420.90" cy="474.60" r="37.0" fill="#fff" stroke="#cdcdcd" stroke-width="1.3"/><ellipse cx="422.00" cy="475.50" rx="33.30" ry="32.30" fill="none" stroke="#e46a68" stroke-opacity="0.85" stroke-width="2.2" stroke-dasharray="0.00 1.33 5.32 2.66 2.66 1.33 1.33 2.66 1.33 1.33 5.32 1.33 7.98 1.33 1.33 1.33 2.66 3.99 3.99 1.33 1.33 10.64 3.99 1.33 3.99 2.66 5.32 5.32 1.33 1.33 7.98 1.33 6.65 1.33 2.66 1.33 2.66 1.33 3.99 3.99 5.32 1.33 3.99 2.66 6.65 1.33 3.99 5.32 1.33 6.65 1.33 3.99 1.33 2.66 1.33 6.65 1.33 2.66 14.63 1.33 2.66 1.33 1.33 1.33 1.33 0.00"/><ellipse cx="422.00" cy="475.50" rx="34.00" ry="32.80" fill="none" stroke="#e05a58" stroke-opacity="0.85" stroke-width="2.0" stroke-dasharray="0.00 6.65 2.66 86.45 1.33 1.33 1.33 1.33 2.66 3.99 1.33 1.33 1.33 87.78 2.66 1.33 5.32 0.00"/><ellipse cx="422.00" cy="475.50" rx="32.00" ry="31.00" fill="#28e535"/><path d="M401.4 486.8h1.25v1.25h-1.25zM400.1 480.2h1.25v1.25h-1.25zM420.0 500.1h1.25v1.25h-1.25zM433.3 484.2h1.25v1.25h-1.25zM401.4 486.8h1.25v1.25h-1.25zM420.0 501.5h1.25v1.25h-1.25zM441.3 460.2h1.25v1.25h-1.25zM398.8 478.9h1.25v1.25h-1.25zM400.1 477.5h1.25v1.25h-1.25zM446.6 470.9h1.25v1.25h-1.25zM410.7 476.2h1.25v1.25h-1.25zM401.4 488.2h1.25v1.25h-1.25zM422.7 489.5h1.25v1.25h-1.25zM424.0 449.6h1.25v1.25h-1.25zM397.4 474.9h1.25v1.25h-1.25zM442.7 460.2h1.25v1.25h-1.25zM418.7 469.6h1.25v1.25h-1.25zM424.0 473.5h1.25v1.25h-1.25zM444.0 465.6h1.25v1.25h-1.25zM396.1 478.9h1.25v1.25h-1.25zM413.4 462.9h1.25v1.25h-1.25zM424.0 488.2h1.25v1.25h-1.25zM420.0 502.8h1.25v1.25h-1.25zM405.4 488.2h1.25v1.25h-1.25zM445.3 466.9h1.25v1.25h-1.25zM418.7 485.5h1.25v1.25h-1.25zM409.4 500.1h1.25v1.25h-1.25zM404.1 485.5h1.25v1.25h-1.25zM410.7 489.5h1.25v1.25h-1.25zM434.7 468.2h1.25v1.25h-1.25zM445.3 464.2h1.25v1.25h-1.25zM413.4 458.9h1.25v1.25h-1.25zM402.8 470.9h1.25v1.25h-1.25zM449.3 482.9h1.25v1.25h-1.25zM432.0 486.8h1.25v1.25h-1.25zM432.0 449.6h1.25v1.25h-1.25zM398.8 477.5h1.25v1.25h-1.25zM398.8 476.2h1.25v1.25h-1.25zM409.4 449.6h1.25v1.25h-1.25zM445.3 466.9h1.25v1.25h-1.25zM410.7 476.2h1.25v1.25h-1.25zM446.6 488.2h1.25v1.25h-1.25zM430.7 460.2h1.25v1.25h-1.25zM425.4 453.6h1.25v1.25h-1.25zM417.4 496.2h1.25v1.25h-1.25zM394.8 474.9h1.25v1.25h-1.25zM429.4 492.2h1.25v1.25h-1.25zM430.7 462.9h1.25v1.25h-1.25zM409.4 482.9h1.25v1.25h-1.25zM397.4 489.5h1.25v1.25h-1.25zM393.4 473.5h1.25v1.25h-1.25zM449.3 481.5h1.25v1.25h-1.25zM433.3 482.9h1.25v1.25h-1.25zM405.4 486.8h1.25v1.25h-1.25zM409.4 480.2h1.25v1.25h-1.25zM445.3 462.9h1.25v1.25h-1.25zM422.7 484.2h1.25v1.25h-1.25zM426.7 458.9h1.25v1.25h-1.25zM401.4 488.2h1.25v1.25h-1.25zM449.3 482.9h1.25v1.25h-1.25zM409.4 468.2h1.25v1.25h-1.25zM437.3 496.2h1.25v1.25h-1.25zM424.0 486.8h1.25v1.25h-1.25zM425.4 476.2h1.25v1.25h-1.25zM408.1 464.2h1.25v1.25h-1.25zM436.0 476.2h1.25v1.25h-1.25zM450.6 476.2h1.25v1.25h-1.25zM426.7 465.6h1.25v1.25h-1.25zM393.4 472.2h1.25v1.25h-1.25zM436.0 454.9h1.25v1.25h-1.25zM448.0 482.9h1.25v1.25h-1.25zM434.7 500.1h1.25v1.25h-1.25zM450.6 478.9h1.25v1.25h-1.25zM421.4 485.5h1.25v1.25h-1.25zM398.8 457.6h1.25v1.25h-1.25zM409.4 478.9h1.25v1.25h-1.25zM418.7 469.6h1.25v1.25h-1.25zM426.7 465.6h1.25v1.25h-1.25zM425.4 500.1h1.25v1.25h-1.25zM418.7 502.8h1.25v1.25h-1.25zM434.7 497.5h1.25v1.25h-1.25zM421.4 464.2h1.25v1.25h-1.25zM394.8 477.5h1.25v1.25h-1.25zM433.3 485.5h1.25v1.25h-1.25zM406.7 476.2h1.25v1.25h-1.25zM400.1 470.9h1.25v1.25h-1.25zM426.7 484.2h1.25v1.25h-1.25zM424.0 476.2h1.25v1.25h-1.25zM425.4 450.9h1.25v1.25h-1.25zM410.7 465.6h1.25v1.25h-1.25zM412.1 497.5h1.25v1.25h-1.25zM425.4 485.5h1.25v1.25h-1.25zM397.4 477.5h1.25v1.25h-1.25zM418.7 478.9h1.25v1.25h-1.25zM410.7 466.9h1.25v1.25h-1.25zM416.1 452.3h1.25v1.25h-1.25zM402.8 489.5h1.25v1.25h-1.25zM393.4 473.5h1.25v1.25h-1.25zM400.1 488.2h1.25v1.25h-1.25zM429.4 458.9h1.25v1.25h-1.25zM405.4 460.2h1.25v1.25h-1.25zM432.0 448.3h1.25v1.25h-1.25zM402.8 469.6h1.25v1.25h-1.25zM416.1 484.2h1.25v1.25h-1.25zM421.4 477.5h1.25v1.25h-1.25zM417.4 469.6h1.25v1.25h-1.25zM414.7 480.2h1.25v1.25h-1.25zM433.3 461.6h1.25v1.25h-1.25zM405.4 494.8h1.25v1.25h-1.25zM421.4 466.9h1.25v1.25h-1.25zM429.4 448.3h1.25v1.25h-1.25zM413.4 476.2h1.25v1.25h-1.25zM446.6 484.2h1.25v1.25h-1.25zM406.7 457.6h1.25v1.25h-1.25zM424.0 477.5h1.25v1.25h-1.25zM406.7 488.2h1.25v1.25h-1.25zM446.6 488.2h1.25v1.25h-1.25zM429.4 458.9h1.25v1.25h-1.25zM444.0 462.9h1.25v1.25h-1.25zM421.4 465.6h1.25v1.25h-1.25zM422.7 486.8h1.25v1.25h-1.25zM434.7 476.2h1.25v1.25h-1.25zM445.3 465.6h1.25v1.25h-1.25zM401.4 486.8h1.25v1.25h-1.25zM413.4 477.5h1.25v1.25h-1.25zM404.1 480.2h1.25v1.25h-1.25zM394.8 486.8h1.25v1.25h-1.25zM409.4 493.5h1.25v1.25h-1.25zM448.0 470.9h1.25v1.25h-1.25zM449.3 485.5h1.25v1.25h-1.25zM424.0 501.5h1.25v1.25h-1.25zM398.8 456.3h1.25v1.25h-1.25zM422.7 453.6h1.25v1.25h-1.25zM449.3 480.2h1.25v1.25h-1.25zM434.7 498.8h1.25v1.25h-1.25z" fill="#c8503c"/><ellipse cx="422.00" cy="475.50" rx="31.80" ry="30.80" fill="none" stroke="#000" stroke-width="1.5" stroke-dasharray="16 1.3 22 0.6 30 1.0 40 1.3 30 1.0 22 0.6 22 0.6 16 0.6 16 1.0 40 1.3 30 1.0 16 1.3"/><rect x="417.40" y="506.80" width="7" height="1.8" fill="#e06050"/><path d="M418.70 513.00 a2.2 1.7 0 0 1 4.4 0z" fill="#111"/><circle cx="510.50" cy="474.60" r="37.0" fill="#fff" stroke="#cdcdcd" stroke-width="1.3"/><ellipse cx="511.60" cy="475.50" rx="33.30" ry="32.30" fill="none" stroke="#e46a68" stroke-opacity="0.85" stroke-width="2.2" stroke-dasharray="1.33 1.33 6.65 1.33 1.33 3.99 1.33 1.33 1.33 1.33 5.32 2.66 3.99 1.33 2.66 1.33 1.33 2.66 1.33 7.98 3.99 2.66 2.66 5.32 1.33 1.33 5.32 2.66 1.33 1.33 1.33 2.66 1.33 1.33 9.31 1.33 1.33 1.33 14.63 2.66 6.65 3.99 3.99 5.32 1.33 3.99 2.66 1.33 1.33 1.33 1.33 2.66 1.33 1.33 1.33 2.66 1.33 3.99 1.33 2.66 2.66 5.32 3.99 1.33 14.63 1.33 6.65 0.00"/><ellipse cx="511.60" cy="475.50" rx="34.00" ry="32.80" fill="none" stroke="#e05a58" stroke-opacity="0.85" stroke-width="2.0" stroke-dasharray="1.33 2.66 2.66 1.33 1.33 87.78 3.99 2.66 7.98 1.33 1.33 90.44 2.66 1.33"/><ellipse cx="511.60" cy="475.50" rx="32.00" ry="31.00" fill="#28e535"/><path d="M512.3 472.2h1.25v1.25h-1.25zM512.3 470.9h1.25v1.25h-1.25zM512.3 472.2h1.25v1.25h-1.25zM492.4 457.6h1.25v1.25h-1.25zM500.3 461.6h1.25v1.25h-1.25zM512.3 501.5h1.25v1.25h-1.25zM491.0 484.2h1.25v1.25h-1.25zM491.0 466.9h1.25v1.25h-1.25zM517.6 497.5h1.25v1.25h-1.25zM520.3 477.5h1.25v1.25h-1.25zM511.0 472.2h1.25v1.25h-1.25zM512.3 470.9h1.25v1.25h-1.25zM516.3 500.1h1.25v1.25h-1.25zM491.0 484.2h1.25v1.25h-1.25zM512.3 496.2h1.25v1.25h-1.25zM534.9 474.9h1.25v1.25h-1.25zM493.7 458.9h1.25v1.25h-1.25zM519.0 500.1h1.25v1.25h-1.25zM508.3 466.9h1.25v1.25h-1.25zM529.6 458.9h1.25v1.25h-1.25zM534.9 472.2h1.25v1.25h-1.25zM512.3 472.2h1.25v1.25h-1.25zM495.0 466.9h1.25v1.25h-1.25zM493.7 457.6h1.25v1.25h-1.25zM522.9 480.2h1.25v1.25h-1.25zM538.9 473.5h1.25v1.25h-1.25zM501.7 484.2h1.25v1.25h-1.25zM515.0 500.1h1.25v1.25h-1.25zM520.3 446.9h1.25v1.25h-1.25zM534.9 488.2h1.25v1.25h-1.25zM524.3 481.5h1.25v1.25h-1.25zM493.7 460.2h1.25v1.25h-1.25zM511.0 472.2h1.25v1.25h-1.25zM501.7 490.8h1.25v1.25h-1.25zM512.3 501.5h1.25v1.25h-1.25zM512.3 477.5h1.25v1.25h-1.25zM517.6 489.5h1.25v1.25h-1.25zM526.9 470.9h1.25v1.25h-1.25zM536.2 488.2h1.25v1.25h-1.25zM503.0 492.2h1.25v1.25h-1.25zM500.3 500.1h1.25v1.25h-1.25zM493.7 465.6h1.25v1.25h-1.25zM525.6 457.6h1.25v1.25h-1.25zM519.0 446.9h1.25v1.25h-1.25zM488.4 492.2h1.25v1.25h-1.25zM513.6 470.9h1.25v1.25h-1.25zM536.2 470.9h1.25v1.25h-1.25zM521.6 496.2h1.25v1.25h-1.25zM526.9 450.9h1.25v1.25h-1.25zM528.3 493.5h1.25v1.25h-1.25zM493.7 489.5h1.25v1.25h-1.25zM499.0 460.2h1.25v1.25h-1.25zM513.6 493.5h1.25v1.25h-1.25zM528.3 493.5h1.25v1.25h-1.25zM501.7 502.8h1.25v1.25h-1.25zM491.0 458.9h1.25v1.25h-1.25zM481.7 474.9h1.25v1.25h-1.25zM526.9 474.9h1.25v1.25h-1.25zM508.3 453.6h1.25v1.25h-1.25zM495.0 452.3h1.25v1.25h-1.25zM530.9 482.9h1.25v1.25h-1.25zM525.6 452.3h1.25v1.25h-1.25zM519.0 462.9h1.25v1.25h-1.25zM508.3 481.5h1.25v1.25h-1.25zM534.9 486.8h1.25v1.25h-1.25zM484.4 462.9h1.25v1.25h-1.25zM532.3 461.6h1.25v1.25h-1.25zM530.9 458.9h1.25v1.25h-1.25zM508.3 468.2h1.25v1.25h-1.25zM491.0 482.9h1.25v1.25h-1.25zM492.4 464.2h1.25v1.25h-1.25zM492.4 461.6h1.25v1.25h-1.25zM495.0 454.9h1.25v1.25h-1.25zM516.3 496.2h1.25v1.25h-1.25zM534.9 489.5h1.25v1.25h-1.25zM484.4 482.9h1.25v1.25h-1.25zM489.7 474.9h1.25v1.25h-1.25zM522.9 452.3h1.25v1.25h-1.25zM491.0 458.9h1.25v1.25h-1.25zM528.3 492.2h1.25v1.25h-1.25zM526.9 490.8h1.25v1.25h-1.25zM485.7 464.2h1.25v1.25h-1.25zM493.7 465.6h1.25v1.25h-1.25zM513.6 501.5h1.25v1.25h-1.25zM511.0 482.9h1.25v1.25h-1.25zM530.9 461.6h1.25v1.25h-1.25zM491.0 460.2h1.25v1.25h-1.25zM525.6 452.3h1.25v1.25h-1.25zM492.4 457.6h1.25v1.25h-1.25zM526.9 490.8h1.25v1.25h-1.25zM492.4 486.8h1.25v1.25h-1.25zM491.0 466.9h1.25v1.25h-1.25zM528.3 470.9h1.25v1.25h-1.25zM529.6 482.9h1.25v1.25h-1.25zM538.9 466.9h1.25v1.25h-1.25zM497.7 448.3h1.25v1.25h-1.25zM491.0 462.9h1.25v1.25h-1.25zM534.9 458.9h1.25v1.25h-1.25zM534.9 482.9h1.25v1.25h-1.25zM512.3 472.2h1.25v1.25h-1.25zM501.7 484.2h1.25v1.25h-1.25zM511.0 481.5h1.25v1.25h-1.25zM516.3 458.9h1.25v1.25h-1.25zM536.2 476.2h1.25v1.25h-1.25zM516.3 504.1h1.25v1.25h-1.25zM497.7 481.5h1.25v1.25h-1.25zM488.4 473.5h1.25v1.25h-1.25zM500.3 469.6h1.25v1.25h-1.25zM487.0 469.6h1.25v1.25h-1.25zM511.0 497.5h1.25v1.25h-1.25zM509.6 484.2h1.25v1.25h-1.25zM512.3 470.9h1.25v1.25h-1.25zM511.0 488.2h1.25v1.25h-1.25zM529.6 494.8h1.25v1.25h-1.25zM519.0 476.2h1.25v1.25h-1.25zM517.6 501.5h1.25v1.25h-1.25zM503.0 470.9h1.25v1.25h-1.25zM493.7 458.9h1.25v1.25h-1.25zM526.9 458.9h1.25v1.25h-1.25zM528.3 498.8h1.25v1.25h-1.25zM496.3 489.5h1.25v1.25h-1.25zM488.4 474.9h1.25v1.25h-1.25zM513.6 501.5h1.25v1.25h-1.25zM528.3 450.9h1.25v1.25h-1.25zM519.0 464.2h1.25v1.25h-1.25zM533.6 460.2h1.25v1.25h-1.25zM513.6 482.9h1.25v1.25h-1.25zM508.3 466.9h1.25v1.25h-1.25zM500.3 466.9h1.25v1.25h-1.25zM492.4 480.2h1.25v1.25h-1.25zM489.7 476.2h1.25v1.25h-1.25zM533.6 489.5h1.25v1.25h-1.25zM504.3 496.2h1.25v1.25h-1.25zM512.3 473.5h1.25v1.25h-1.25zM511.0 500.1h1.25v1.25h-1.25z" fill="#c8503c"/><ellipse cx="511.60" cy="475.50" rx="31.80" ry="30.80" fill="none" stroke="#000" stroke-width="1.5" stroke-dasharray="22 1.3 22 1.3 16 1.0 22 1.3 22 0.6 30 1.0 22 1.3 16 1.3 16 1.3 30 1.0 40 1.0 22 0.6"/><rect x="507.00" y="506.80" width="7" height="1.8" fill="#e06050"/><path d="M508.30 513.00 a2.2 1.7 0 0 1 4.4 0z" fill="#111"/><circle cx="600.10" cy="474.60" r="37.0" fill="#fff" stroke="#cdcdcd" stroke-width="1.3"/><ellipse cx="601.20" cy="475.50" rx="33.30" ry="32.30" fill="none" stroke="#e46a68" stroke-opacity="0.85" stroke-width="2.2" stroke-dasharray="1.33 1.33 9.31 1.33 13.30 3.99 2.66 1.33 2.66 5.32 1.33 3.99 1.33 5.32 1.33 1.33 5.32 1.33 1.33 2.66 1.33 1.33 1.33 1.33 5.32 2.66 1.33 2.66 2.66 1.33 9.31 1.33 2.66 1.33 1.33 2.66 2.66 3.99 1.33 1.33 2.66 3.99 3.99 1.33 1.33 1.33 7.98 1.33 1.33 1.33 1.33 3.99 1.33 3.99 1.33 5.32 2.66 1.33 1.33 1.33 2.66 2.66 1.33 3.99 6.65 1.33 2.66 1.33 1.33 1.33 2.66 1.33 2.66 1.33 3.99 0.00"/><ellipse cx="601.20" cy="475.50" rx="34.00" ry="32.80" fill="none" stroke="#e05a58" stroke-opacity="0.85" stroke-width="2.0" stroke-dasharray="1.33 1.33 3.99 2.66 1.33 86.45 1.33 2.66 2.66 1.33 9.31 85.12 5.32 2.66 1.33 0.00"/><ellipse cx="601.20" cy="475.50" rx="32.00" ry="31.00" fill="#28e535"/><path d="M574.0 470.9h1.25v1.25h-1.25zM583.3 464.2h1.25v1.25h-1.25zM595.3 474.9h1.25v1.25h-1.25zM620.5 473.5h1.25v1.25h-1.25zM572.6 484.2h1.25v1.25h-1.25zM609.9 477.5h1.25v1.25h-1.25zM575.3 472.2h1.25v1.25h-1.25zM585.9 449.6h1.25v1.25h-1.25zM615.2 486.8h1.25v1.25h-1.25zM613.9 450.9h1.25v1.25h-1.25zM605.9 494.8h1.25v1.25h-1.25zM578.0 477.5h1.25v1.25h-1.25zM572.6 470.9h1.25v1.25h-1.25zM576.6 472.2h1.25v1.25h-1.25zM625.8 466.9h1.25v1.25h-1.25zM615.2 489.5h1.25v1.25h-1.25zM612.5 449.6h1.25v1.25h-1.25zM603.2 473.5h1.25v1.25h-1.25zM608.6 449.6h1.25v1.25h-1.25zM580.6 453.6h1.25v1.25h-1.25zM603.2 448.3h1.25v1.25h-1.25zM580.6 453.6h1.25v1.25h-1.25zM580.6 453.6h1.25v1.25h-1.25zM596.6 452.3h1.25v1.25h-1.25zM574.0 476.2h1.25v1.25h-1.25zM608.6 456.3h1.25v1.25h-1.25zM613.9 482.9h1.25v1.25h-1.25zM617.9 453.6h1.25v1.25h-1.25zM620.5 482.9h1.25v1.25h-1.25zM611.2 477.5h1.25v1.25h-1.25zM615.2 450.9h1.25v1.25h-1.25zM621.9 482.9h1.25v1.25h-1.25zM583.3 464.2h1.25v1.25h-1.25zM619.2 464.2h1.25v1.25h-1.25zM582.0 454.9h1.25v1.25h-1.25zM616.5 489.5h1.25v1.25h-1.25zM597.9 492.2h1.25v1.25h-1.25zM609.9 450.9h1.25v1.25h-1.25zM599.2 469.6h1.25v1.25h-1.25zM582.0 462.9h1.25v1.25h-1.25zM583.3 476.2h1.25v1.25h-1.25zM604.6 488.2h1.25v1.25h-1.25zM615.2 480.2h1.25v1.25h-1.25zM592.6 494.8h1.25v1.25h-1.25zM583.3 474.9h1.25v1.25h-1.25zM617.9 469.6h1.25v1.25h-1.25zM572.6 472.2h1.25v1.25h-1.25zM615.2 488.2h1.25v1.25h-1.25zM616.5 481.5h1.25v1.25h-1.25zM579.3 478.9h1.25v1.25h-1.25zM587.3 448.3h1.25v1.25h-1.25zM580.6 456.3h1.25v1.25h-1.25zM608.6 464.2h1.25v1.25h-1.25zM599.2 476.2h1.25v1.25h-1.25zM617.9 489.5h1.25v1.25h-1.25zM609.9 458.9h1.25v1.25h-1.25zM572.6 470.9h1.25v1.25h-1.25zM599.2 450.9h1.25v1.25h-1.25zM592.6 494.8h1.25v1.25h-1.25zM629.8 472.2h1.25v1.25h-1.25zM615.2 460.2h1.25v1.25h-1.25zM620.5 465.6h1.25v1.25h-1.25zM572.6 482.9h1.25v1.25h-1.25zM597.9 472.2h1.25v1.25h-1.25zM605.9 488.2h1.25v1.25h-1.25zM596.6 473.5h1.25v1.25h-1.25zM611.2 488.2h1.25v1.25h-1.25zM578.0 477.5h1.25v1.25h-1.25zM608.6 478.9h1.25v1.25h-1.25zM582.0 454.9h1.25v1.25h-1.25zM613.9 474.9h1.25v1.25h-1.25zM592.6 474.9h1.25v1.25h-1.25zM601.9 502.8h1.25v1.25h-1.25zM611.2 486.8h1.25v1.25h-1.25zM624.5 465.6h1.25v1.25h-1.25zM619.2 470.9h1.25v1.25h-1.25zM623.2 464.2h1.25v1.25h-1.25zM613.9 486.8h1.25v1.25h-1.25zM587.3 452.3h1.25v1.25h-1.25zM609.9 460.2h1.25v1.25h-1.25zM619.2 468.2h1.25v1.25h-1.25zM608.6 497.5h1.25v1.25h-1.25zM603.2 450.9h1.25v1.25h-1.25zM607.2 494.8h1.25v1.25h-1.25zM593.9 465.6h1.25v1.25h-1.25zM585.9 464.2h1.25v1.25h-1.25zM607.2 465.6h1.25v1.25h-1.25zM597.9 448.3h1.25v1.25h-1.25zM593.9 468.2h1.25v1.25h-1.25zM593.9 469.6h1.25v1.25h-1.25zM616.5 457.6h1.25v1.25h-1.25zM609.9 450.9h1.25v1.25h-1.25zM611.2 492.2h1.25v1.25h-1.25zM623.2 478.9h1.25v1.25h-1.25zM616.5 488.2h1.25v1.25h-1.25zM571.3 470.9h1.25v1.25h-1.25zM621.9 457.6h1.25v1.25h-1.25zM600.6 464.2h1.25v1.25h-1.25zM607.2 478.9h1.25v1.25h-1.25zM589.9 478.9h1.25v1.25h-1.25zM588.6 493.5h1.25v1.25h-1.25zM588.6 489.5h1.25v1.25h-1.25zM624.5 476.2h1.25v1.25h-1.25zM597.9 497.5h1.25v1.25h-1.25zM604.6 462.9h1.25v1.25h-1.25zM584.6 468.2h1.25v1.25h-1.25zM609.9 493.5h1.25v1.25h-1.25zM596.6 492.2h1.25v1.25h-1.25zM612.5 473.5h1.25v1.25h-1.25zM617.9 469.6h1.25v1.25h-1.25zM585.9 468.2h1.25v1.25h-1.25zM597.9 492.2h1.25v1.25h-1.25zM592.6 476.2h1.25v1.25h-1.25zM625.8 489.5h1.25v1.25h-1.25zM592.6 464.2h1.25v1.25h-1.25zM585.9 494.8h1.25v1.25h-1.25zM617.9 453.6h1.25v1.25h-1.25zM595.3 501.5h1.25v1.25h-1.25zM608.6 452.3h1.25v1.25h-1.25zM604.6 450.9h1.25v1.25h-1.25zM596.6 452.3h1.25v1.25h-1.25zM592.6 494.8h1.25v1.25h-1.25zM593.9 494.8h1.25v1.25h-1.25zM603.2 445.6h1.25v1.25h-1.25zM613.9 461.6h1.25v1.25h-1.25zM611.2 492.2h1.25v1.25h-1.25zM616.5 482.9h1.25v1.25h-1.25zM623.2 465.6h1.25v1.25h-1.25zM615.2 449.6h1.25v1.25h-1.25zM609.9 462.9h1.25v1.25h-1.25zM576.6 472.2h1.25v1.25h-1.25zM617.9 472.2h1.25v1.25h-1.25zM605.9 489.5h1.25v1.25h-1.25zM591.3 481.5h1.25v1.25h-1.25zM601.9 450.9h1.25v1.25h-1.25z" fill="#c8503c"/><ellipse cx="601.20" cy="475.50" rx="31.80" ry="30.80" fill="none" stroke="#000" stroke-width="1.5" stroke-dasharray="16 1.0 40 1.3 16 1.3 40 0.6 40 1.3 30 1.3 16 1.0 30 1.0 22 1.3 40 1.0 22 1.3 40 1.3"/><rect x="596.60" y="506.80" width="7" height="1.8" fill="#e06050"/><path d="M597.90 513.00 a2.2 1.7 0 0 1 4.4 0z" fill="#111"/><circle cx="689.70" cy="474.60" r="37.0" fill="#fff" stroke="#cdcdcd" stroke-width="1.3"/><ellipse cx="690.80" cy="475.50" rx="33.30" ry="32.30" fill="none" stroke="#e46a68" stroke-opacity="0.85" stroke-width="2.2" stroke-dasharray="5.32 1.33 1.33 3.99 3.99 2.66 1.33 1.33 1.33 1.33 1.33 1.33 1.33 1.33 2.66 2.66 5.32 13.30 3.99 2.66 1.33 6.65 3.99 1.33 2.66 3.99 6.65 1.33 1.33 3.99 2.66 1.33 5.32 1.33 6.65 2.66 11.97 1.33 2.66 2.66 5.32 1.33 1.33 1.33 1.33 2.66 2.66 1.33 2.66 1.33 1.33 2.66 1.33 2.66 3.99 1.33 2.66 1.33 9.31 5.32 3.99 1.33 2.66 1.33 9.31 1.33"/><ellipse cx="690.80" cy="475.50" rx="34.00" ry="32.80" fill="none" stroke="#e05a58" stroke-opacity="0.85" stroke-width="2.0" stroke-dasharray="5.32 3.99 1.33 86.45 1.33 2.66 3.99 2.66 2.66 2.66 1.33 85.12 1.33 1.33 2.66 1.33 1.33 1.33"/><ellipse cx="690.80" cy="475.50" rx="32.00" ry="31.00" fill="#28e535"/><path d="M690.2 448.3h1.25v1.25h-1.25zM680.9 501.5h1.25v1.25h-1.25zM699.5 446.9h1.25v1.25h-1.25zM715.4 481.5h1.25v1.25h-1.25zM699.5 452.3h1.25v1.25h-1.25zM715.4 482.9h1.25v1.25h-1.25zM716.8 462.9h1.25v1.25h-1.25zM702.1 458.9h1.25v1.25h-1.25zM694.2 445.6h1.25v1.25h-1.25zM686.2 484.2h1.25v1.25h-1.25zM715.4 464.2h1.25v1.25h-1.25zM676.9 490.8h1.25v1.25h-1.25zM664.9 481.5h1.25v1.25h-1.25zM678.2 457.6h1.25v1.25h-1.25zM683.5 494.8h1.25v1.25h-1.25zM687.5 485.5h1.25v1.25h-1.25zM696.8 462.9h1.25v1.25h-1.25zM691.5 497.5h1.25v1.25h-1.25zM694.2 497.5h1.25v1.25h-1.25zM699.5 472.2h1.25v1.25h-1.25zM714.1 489.5h1.25v1.25h-1.25zM674.2 493.5h1.25v1.25h-1.25zM684.9 482.9h1.25v1.25h-1.25zM679.5 457.6h1.25v1.25h-1.25zM704.8 497.5h1.25v1.25h-1.25zM702.1 478.9h1.25v1.25h-1.25zM704.8 460.2h1.25v1.25h-1.25zM716.8 462.9h1.25v1.25h-1.25zM671.6 480.2h1.25v1.25h-1.25zM708.8 462.9h1.25v1.25h-1.25zM703.5 480.2h1.25v1.25h-1.25zM678.2 457.6h1.25v1.25h-1.25zM716.8 464.2h1.25v1.25h-1.25zM662.2 476.2h1.25v1.25h-1.25zM664.9 480.2h1.25v1.25h-1.25zM686.2 485.5h1.25v1.25h-1.25zM686.2 482.9h1.25v1.25h-1.25zM703.5 460.2h1.25v1.25h-1.25zM712.8 462.9h1.25v1.25h-1.25zM668.9 484.2h1.25v1.25h-1.25zM699.5 458.9h1.25v1.25h-1.25zM675.5 464.2h1.25v1.25h-1.25zM660.9 470.9h1.25v1.25h-1.25zM676.9 460.2h1.25v1.25h-1.25zM679.5 456.3h1.25v1.25h-1.25zM678.2 470.9h1.25v1.25h-1.25zM687.5 480.2h1.25v1.25h-1.25zM708.8 488.2h1.25v1.25h-1.25zM691.5 470.9h1.25v1.25h-1.25zM692.8 476.2h1.25v1.25h-1.25zM678.2 494.8h1.25v1.25h-1.25zM678.2 500.1h1.25v1.25h-1.25zM700.8 476.2h1.25v1.25h-1.25zM696.8 469.6h1.25v1.25h-1.25zM688.8 478.9h1.25v1.25h-1.25zM710.1 465.6h1.25v1.25h-1.25zM672.9 476.2h1.25v1.25h-1.25zM699.5 492.2h1.25v1.25h-1.25zM671.6 486.8h1.25v1.25h-1.25zM707.5 460.2h1.25v1.25h-1.25zM662.2 474.9h1.25v1.25h-1.25zM678.2 456.3h1.25v1.25h-1.25zM675.5 464.2h1.25v1.25h-1.25zM715.4 472.2h1.25v1.25h-1.25zM715.4 490.8h1.25v1.25h-1.25zM699.5 490.8h1.25v1.25h-1.25zM668.9 482.9h1.25v1.25h-1.25zM694.2 445.6h1.25v1.25h-1.25zM679.5 450.9h1.25v1.25h-1.25zM704.8 477.5h1.25v1.25h-1.25zM703.5 457.6h1.25v1.25h-1.25zM674.2 477.5h1.25v1.25h-1.25zM714.1 462.9h1.25v1.25h-1.25zM675.5 476.2h1.25v1.25h-1.25zM706.1 488.2h1.25v1.25h-1.25zM714.1 466.9h1.25v1.25h-1.25zM706.1 453.6h1.25v1.25h-1.25zM672.9 474.9h1.25v1.25h-1.25zM690.2 454.9h1.25v1.25h-1.25zM700.8 472.2h1.25v1.25h-1.25zM714.1 462.9h1.25v1.25h-1.25zM711.5 473.5h1.25v1.25h-1.25zM695.5 489.5h1.25v1.25h-1.25zM675.5 480.2h1.25v1.25h-1.25zM702.1 450.9h1.25v1.25h-1.25zM686.2 484.2h1.25v1.25h-1.25zM696.8 500.1h1.25v1.25h-1.25zM711.5 489.5h1.25v1.25h-1.25zM699.5 490.8h1.25v1.25h-1.25zM670.2 493.5h1.25v1.25h-1.25zM662.2 470.9h1.25v1.25h-1.25zM699.5 485.5h1.25v1.25h-1.25zM664.9 466.9h1.25v1.25h-1.25zM712.8 461.6h1.25v1.25h-1.25zM702.1 449.6h1.25v1.25h-1.25zM670.2 468.2h1.25v1.25h-1.25zM679.5 501.5h1.25v1.25h-1.25zM696.8 462.9h1.25v1.25h-1.25zM706.1 494.8h1.25v1.25h-1.25zM676.9 481.5h1.25v1.25h-1.25zM702.1 485.5h1.25v1.25h-1.25zM700.8 454.9h1.25v1.25h-1.25zM694.2 500.1h1.25v1.25h-1.25zM674.2 493.5h1.25v1.25h-1.25zM678.2 481.5h1.25v1.25h-1.25zM672.9 458.9h1.25v1.25h-1.25zM679.5 453.6h1.25v1.25h-1.25zM670.2 474.9h1.25v1.25h-1.25zM682.2 492.2h1.25v1.25h-1.25zM668.9 493.5h1.25v1.25h-1.25zM695.5 494.8h1.25v1.25h-1.25zM694.2 488.2h1.25v1.25h-1.25zM696.8 476.2h1.25v1.25h-1.25zM684.9 485.5h1.25v1.25h-1.25zM666.2 484.2h1.25v1.25h-1.25zM668.9 473.5h1.25v1.25h-1.25zM711.5 461.6h1.25v1.25h-1.25zM682.2 496.2h1.25v1.25h-1.25zM678.2 484.2h1.25v1.25h-1.25zM707.5 453.6h1.25v1.25h-1.25zM696.8 500.1h1.25v1.25h-1.25zM718.1 466.9h1.25v1.25h-1.25zM674.2 461.6h1.25v1.25h-1.25zM700.8 470.9h1.25v1.25h-1.25zM695.5 456.3h1.25v1.25h-1.25zM678.2 469.6h1.25v1.25h-1.25zM706.1 449.6h1.25v1.25h-1.25zM692.8 473.5h1.25v1.25h-1.25zM678.2 482.9h1.25v1.25h-1.25zM679.5 482.9h1.25v1.25h-1.25zM686.2 476.2h1.25v1.25h-1.25zM684.9 502.8h1.25v1.25h-1.25zM694.2 478.9h1.25v1.25h-1.25zM694.2 485.5h1.25v1.25h-1.25zM679.5 474.9h1.25v1.25h-1.25z" fill="#c8503c"/><ellipse cx="690.80" cy="475.50" rx="31.80" ry="30.80" fill="none" stroke="#000" stroke-width="1.5" stroke-dasharray="40 1.3 16 0.6 40 1.3 40 1.3 16 0.6 30 1.3 30 0.6 16 1.0 16 1.0 16 1.3 22 1.3 16 1.0"/><rect x="686.20" y="506.80" width="7" height="1.8" fill="#e06050"/><path d="M687.50 513.00 a2.2 1.7 0 0 1 4.4 0z" fill="#111"/></svg>
</body></html>
